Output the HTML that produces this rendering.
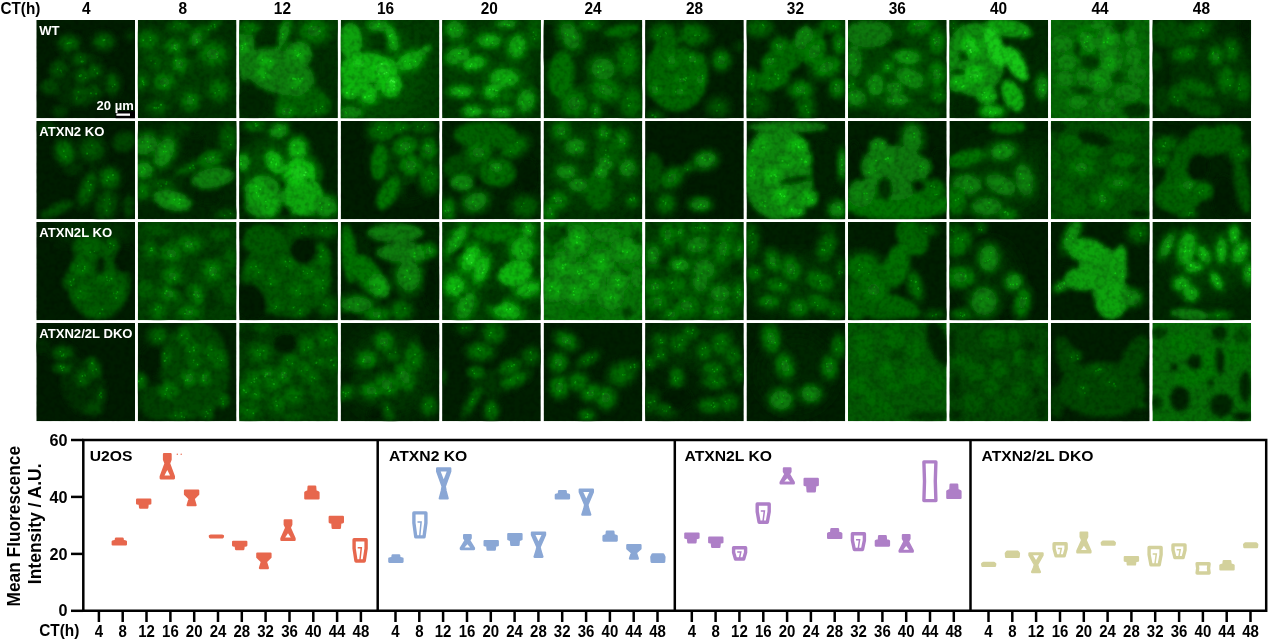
<!DOCTYPE html>
<html lang="en"><head><meta charset="utf-8"><title>Figure</title>
<style>html,body{margin:0;padding:0;background:#fff}body{width:1269px;height:643px;overflow:hidden}svg{display:block}text{font-family:"Liberation Sans",Arial,Helvetica,sans-serif;font-weight:bold}</style></head><body>
<svg width="1269" height="643" viewBox="0 0 1269 643">
<defs><filter id="b" x="-20%" y="-20%" width="140%" height="140%"><feGaussianBlur stdDeviation="2.2"/></filter><filter id="b3" x="-30%" y="-30%" width="160%" height="160%"><feGaussianBlur stdDeviation="8"/></filter><filter id="n" x="0" y="0" width="100%" height="100%"><feTurbulence type="fractalNoise" baseFrequency="0.2" numOctaves="2" seed="7" result="t"/><feColorMatrix type="matrix" values="0 0 0 0 0  0 0 0 0 0  0 0 0 0 0  0 0.5 0 0 -0.2"/></filter><filter id="b2" x="-20%" y="-20%" width="140%" height="140%"><feGaussianBlur stdDeviation="0.5"/></filter></defs>
<rect width="1269" height="643" fill="#fff"/>
<defs><clipPath id="gc"><rect x="36.3" y="20" width="98.7" height="98.2"/><rect x="137.8" y="20" width="98.7" height="98.2"/><rect x="239.2" y="20" width="98.7" height="98.2"/><rect x="340.7" y="20" width="98.7" height="98.2"/><rect x="442.1" y="20" width="98.7" height="98.2"/><rect x="543.6" y="20" width="98.7" height="98.2"/><rect x="645.1" y="20" width="98.7" height="98.2"/><rect x="746.5" y="20" width="98.7" height="98.2"/><rect x="848" y="20" width="98.7" height="98.2"/><rect x="949.4" y="20" width="98.7" height="98.2"/><rect x="1050.9" y="20" width="98.7" height="98.2"/><rect x="1152.4" y="20" width="98.7" height="98.2"/><rect x="36.3" y="121" width="98.7" height="98.2"/><rect x="137.8" y="121" width="98.7" height="98.2"/><rect x="239.2" y="121" width="98.7" height="98.2"/><rect x="340.7" y="121" width="98.7" height="98.2"/><rect x="442.1" y="121" width="98.7" height="98.2"/><rect x="543.6" y="121" width="98.7" height="98.2"/><rect x="645.1" y="121" width="98.7" height="98.2"/><rect x="746.5" y="121" width="98.7" height="98.2"/><rect x="848" y="121" width="98.7" height="98.2"/><rect x="949.4" y="121" width="98.7" height="98.2"/><rect x="1050.9" y="121" width="98.7" height="98.2"/><rect x="1152.4" y="121" width="98.7" height="98.2"/><rect x="36.3" y="222" width="98.7" height="98.2"/><rect x="137.8" y="222" width="98.7" height="98.2"/><rect x="239.2" y="222" width="98.7" height="98.2"/><rect x="340.7" y="222" width="98.7" height="98.2"/><rect x="442.1" y="222" width="98.7" height="98.2"/><rect x="543.6" y="222" width="98.7" height="98.2"/><rect x="645.1" y="222" width="98.7" height="98.2"/><rect x="746.5" y="222" width="98.7" height="98.2"/><rect x="848" y="222" width="98.7" height="98.2"/><rect x="949.4" y="222" width="98.7" height="98.2"/><rect x="1050.9" y="222" width="98.7" height="98.2"/><rect x="1152.4" y="222" width="98.7" height="98.2"/><rect x="36.3" y="323" width="98.7" height="98.2"/><rect x="137.8" y="323" width="98.7" height="98.2"/><rect x="239.2" y="323" width="98.7" height="98.2"/><rect x="340.7" y="323" width="98.7" height="98.2"/><rect x="442.1" y="323" width="98.7" height="98.2"/><rect x="543.6" y="323" width="98.7" height="98.2"/><rect x="645.1" y="323" width="98.7" height="98.2"/><rect x="746.5" y="323" width="98.7" height="98.2"/><rect x="848" y="323" width="98.7" height="98.2"/><rect x="949.4" y="323" width="98.7" height="98.2"/><rect x="1050.9" y="323" width="98.7" height="98.2"/><rect x="1152.4" y="323" width="98.7" height="98.2"/></clipPath></defs>
<text transform="translate(0.4 13.8) scale(1 1.1)" font-size="15.3">CT(h)</text>
<text transform="translate(86.2 13.8) scale(1 1.07)" font-size="15.4" text-anchor="middle">4</text>
<text transform="translate(182.9 13.8) scale(1 1.07)" font-size="15.4" text-anchor="middle">8</text>
<text transform="translate(282.4 13.8) scale(1 1.07)" font-size="15.4" text-anchor="middle">12</text>
<text transform="translate(385.5 13.8) scale(1 1.07)" font-size="15.4" text-anchor="middle">16</text>
<text transform="translate(489.2 13.8) scale(1 1.07)" font-size="15.4" text-anchor="middle">20</text>
<text transform="translate(593 13.8) scale(1 1.07)" font-size="15.4" text-anchor="middle">24</text>
<text transform="translate(694.6 13.8) scale(1 1.07)" font-size="15.4" text-anchor="middle">28</text>
<text transform="translate(795.4 13.8) scale(1 1.07)" font-size="15.4" text-anchor="middle">32</text>
<text transform="translate(897.3 13.8) scale(1 1.07)" font-size="15.4" text-anchor="middle">36</text>
<text transform="translate(998.6 13.8) scale(1 1.07)" font-size="15.4" text-anchor="middle">40</text>
<text transform="translate(1100 13.8) scale(1 1.07)" font-size="15.4" text-anchor="middle">44</text>
<text transform="translate(1201.4 13.8) scale(1 1.07)" font-size="15.4" text-anchor="middle">48</text>
<svg x="36.3" y="20" width="98.7" height="98.2" viewBox="0 0 100 100" preserveAspectRatio="none"><rect width="100" height="100" fill="#001d00"/><g filter="url(#b)"><ellipse cx="43" cy="60" rx="30" ry="30" fill="#002e00"/><ellipse cx="77" cy="65" rx="9.9" ry="15.5" fill="#002f00"/><ellipse cx="33" cy="24" rx="14.1" ry="11.3" fill="#003100"/><ellipse cx="68" cy="22" rx="14.1" ry="11.3" fill="#003100"/><ellipse cx="95" cy="16" rx="5" ry="6" fill="#003400"/><ellipse cx="24" cy="93" rx="8" ry="6" fill="#013b01"/><ellipse cx="13" cy="68" rx="9" ry="8" fill="#014401"/><ellipse cx="33" cy="24" rx="9" ry="7" fill="#035803"/><ellipse cx="68" cy="22" rx="9" ry="7" fill="#035803"/><ellipse cx="45" cy="40" rx="8" ry="6" fill="#024c02"/><ellipse cx="22" cy="50" rx="9" ry="8" fill="#024602"/><ellipse cx="47" cy="57" rx="7" ry="7" fill="#035303"/><ellipse cx="59" cy="52" rx="6" ry="7" fill="#035303"/><ellipse cx="77" cy="65" rx="6" ry="10" fill="#035303"/><ellipse cx="45" cy="76" rx="10" ry="10" fill="#024602"/><ellipse cx="58" cy="73" rx="7" ry="7" fill="#024602"/><ellipse cx="33" cy="24" rx="5" ry="3.9" fill="#046204"/><ellipse cx="68" cy="22" rx="5" ry="3.9" fill="#046204"/><ellipse cx="45" cy="40" rx="4.4" ry="3.3" fill="#035603"/><ellipse cx="22" cy="50" rx="5" ry="4.4" fill="#025002"/><ellipse cx="47" cy="57" rx="3.9" ry="3.9" fill="#045d04"/><ellipse cx="59" cy="52" rx="3.3" ry="3.9" fill="#045d04"/><ellipse cx="77" cy="65" rx="3.3" ry="5.5" fill="#045d04"/><ellipse cx="45" cy="76" rx="5.5" ry="5.5" fill="#025002"/><ellipse cx="58" cy="73" rx="3.9" ry="3.9" fill="#025002"/></g><g filter="url(#b2)"><circle cx="35.1" cy="23.5" r="0.8" fill="#088708"/><circle cx="33.1" cy="23.4" r="1" fill="#088708"/><circle cx="31.4" cy="23.9" r="0.9" fill="#088708"/><circle cx="68" cy="20.6" r="1" fill="#088708"/><circle cx="69" cy="20.4" r="1.1" fill="#088708"/><circle cx="47.2" cy="42.2" r="0.8" fill="#077a07"/><circle cx="46.7" cy="42.2" r="1" fill="#077a07"/><circle cx="44.8" cy="37.8" r="0.9" fill="#077a07"/><circle cx="45.8" cy="42.2" r="1.1" fill="#077a07"/><circle cx="21.5" cy="50.2" r="0.7" fill="#067506"/><circle cx="25.4" cy="53" r="0.7" fill="#067506"/><circle cx="24.8" cy="51.5" r="1" fill="#067506"/><circle cx="43.9" cy="57" r="1" fill="#088208"/><circle cx="45.4" cy="55.9" r="1" fill="#088208"/><circle cx="45.1" cy="57.4" r="0.8" fill="#088208"/><circle cx="49.9" cy="58.9" r="0.9" fill="#088208"/><circle cx="61.7" cy="54.4" r="1.1" fill="#088208"/><circle cx="58.9" cy="50.7" r="0.8" fill="#088208"/><circle cx="77.3" cy="67.8" r="0.9" fill="#088208"/><circle cx="79.5" cy="65.9" r="0.9" fill="#088208"/><circle cx="41.3" cy="78.7" r="0.8" fill="#067506"/><circle cx="42.7" cy="73.2" r="1" fill="#067506"/><circle cx="40.8" cy="80.3" r="0.8" fill="#067506"/><circle cx="55.4" cy="74.6" r="1.1" fill="#067506"/><circle cx="60.7" cy="75.2" r="1.1" fill="#067506"/></g></svg>
<svg x="137.8" y="20" width="98.7" height="98.2" viewBox="0 0 100 100" preserveAspectRatio="none"><rect width="100" height="100" fill="#003000"/><g filter="url(#b)"><ellipse cx="45" cy="45" rx="45" ry="40" fill="#013d01"/><ellipse cx="20" cy="89" rx="14.1" ry="9.9" fill="#013f01"/><ellipse cx="10" cy="21" rx="15.5" ry="14.1" fill="#014401"/><ellipse cx="4" cy="63" rx="8.5" ry="11.3" fill="#014401"/><ellipse cx="82" cy="71" rx="14.1" ry="15.5" fill="#014401"/><ellipse cx="76" cy="35" rx="19.7" ry="16.9" fill="#024602"/><ellipse cx="27" cy="63" rx="15.5" ry="14.1" fill="#024602"/><ellipse cx="53" cy="82" rx="12.7" ry="14.1" fill="#024602"/><ellipse cx="37" cy="27" rx="14.1" ry="11.3" fill="#024802"/><ellipse cx="42" cy="45" rx="12.7" ry="14.1" fill="#024802"/><ellipse cx="60" cy="18" rx="9.9" ry="15.5" fill="#024c02" transform="rotate(30 60 18)"/><ellipse cx="18" cy="42" rx="12" ry="8" fill="#024e02" transform="rotate(30 18 42)"/><ellipse cx="10" cy="21" rx="10" ry="9" fill="#046504"/><ellipse cx="42" cy="6" rx="12" ry="6" fill="#035803"/><ellipse cx="37" cy="27" rx="9" ry="7" fill="#067206"/><ellipse cx="60" cy="18" rx="6" ry="10" fill="#077a07" transform="rotate(30 60 18)"/><ellipse cx="73" cy="8" rx="14" ry="5" fill="#035803" transform="rotate(-30 73 8)"/><ellipse cx="76" cy="35" rx="13" ry="11" fill="#056d05"/><ellipse cx="42" cy="45" rx="8" ry="9" fill="#067206"/><ellipse cx="27" cy="63" rx="10" ry="9" fill="#056d05"/><ellipse cx="4" cy="63" rx="5" ry="7" fill="#046504"/><ellipse cx="82" cy="71" rx="9" ry="10" fill="#046504"/><ellipse cx="53" cy="82" rx="8" ry="9" fill="#056d05"/><ellipse cx="20" cy="89" rx="9" ry="6" fill="#035803"/><ellipse cx="55" cy="33" rx="6" ry="4" fill="#002a00"/><ellipse cx="18" cy="42" rx="6.6" ry="4.4" fill="#035803" transform="rotate(30 18 42)"/><ellipse cx="10" cy="21" rx="5.5" ry="5" fill="#066f06"/><ellipse cx="42" cy="6" rx="6.6" ry="3.3" fill="#046204"/><ellipse cx="37" cy="27" rx="5" ry="3.9" fill="#077c07"/><ellipse cx="60" cy="18" rx="3.3" ry="5.5" fill="#088408" transform="rotate(30 60 18)"/><ellipse cx="73" cy="8" rx="7.7" ry="2.8" fill="#046204" transform="rotate(-30 73 8)"/><ellipse cx="76" cy="35" rx="7.2" ry="6.1" fill="#077707"/><ellipse cx="42" cy="45" rx="4.4" ry="5" fill="#077c07"/><ellipse cx="27" cy="63" rx="5.5" ry="5" fill="#077707"/><ellipse cx="4" cy="63" rx="2.8" ry="3.9" fill="#066f06"/><ellipse cx="82" cy="71" rx="5" ry="5.5" fill="#066f06"/><ellipse cx="53" cy="82" rx="4.4" ry="5" fill="#077707"/><ellipse cx="20" cy="89" rx="5" ry="3.3" fill="#046204"/></g><g filter="url(#b2)"><circle cx="17.6" cy="44.3" r="0.7" fill="#077c07"/><circle cx="13.5" cy="41.6" r="0.9" fill="#077c07"/><circle cx="12.6" cy="17.7" r="0.7" fill="#0a940a"/><circle cx="13" cy="20.5" r="1" fill="#0a940a"/><circle cx="5.5" cy="20.6" r="1" fill="#0a940a"/><circle cx="43" cy="3.9" r="0.8" fill="#088708"/><circle cx="36.8" cy="6.8" r="0.7" fill="#088708"/><circle cx="38.5" cy="30" r="1" fill="#0ca20c"/><circle cx="37.2" cy="28.7" r="1.1" fill="#0ca20c"/><circle cx="37.4" cy="26" r="1" fill="#0ca20c"/><circle cx="60.2" cy="22.5" r="0.9" fill="#0daa0d"/><circle cx="60" cy="22.4" r="0.7" fill="#0daa0d"/><circle cx="59.6" cy="20.1" r="0.8" fill="#0daa0d"/><circle cx="71.7" cy="9.9" r="1" fill="#088708"/><circle cx="77.6" cy="4.9" r="1" fill="#088708"/><circle cx="74.4" cy="6.2" r="0.9" fill="#088708"/><circle cx="78" cy="6.9" r="0.9" fill="#088708"/><circle cx="80.1" cy="34.8" r="1" fill="#0b9c0b"/><circle cx="74.9" cy="36.6" r="0.8" fill="#0b9c0b"/><circle cx="80.5" cy="37.7" r="1" fill="#0b9c0b"/><circle cx="71.2" cy="36.6" r="0.7" fill="#0b9c0b"/><circle cx="42.2" cy="44.1" r="0.9" fill="#0ca20c"/><circle cx="38.6" cy="41.3" r="1" fill="#0ca20c"/><circle cx="27.8" cy="62.1" r="0.8" fill="#0b9c0b"/><circle cx="27" cy="66.9" r="1" fill="#0b9c0b"/><circle cx="27.4" cy="65.9" r="0.8" fill="#0b9c0b"/><circle cx="27.1" cy="66.7" r="0.9" fill="#0b9c0b"/><circle cx="5.8" cy="64" r="0.9" fill="#0a940a"/><circle cx="5" cy="62.3" r="1" fill="#0a940a"/><circle cx="6" cy="65.8" r="0.9" fill="#0a940a"/><circle cx="82.2" cy="71.6" r="0.9" fill="#0a940a"/><circle cx="78.4" cy="74.3" r="0.9" fill="#0a940a"/><circle cx="56.2" cy="81.3" r="1" fill="#0b9c0b"/><circle cx="52.4" cy="78" r="0.9" fill="#0b9c0b"/><circle cx="18.6" cy="89.5" r="1" fill="#088708"/><circle cx="21.1" cy="89.3" r="0.8" fill="#088708"/><circle cx="16.7" cy="89.3" r="1" fill="#088708"/><circle cx="23.5" cy="86.5" r="1.1" fill="#088708"/></g></svg>
<svg x="239.2" y="20" width="98.7" height="98.2" viewBox="0 0 100 100" preserveAspectRatio="none"><rect width="100" height="100" fill="#002e00"/><g filter="url(#b)"><ellipse cx="95" cy="6" rx="6" ry="8" fill="#013f01"/><ellipse cx="76" cy="11" rx="21.1" ry="16.9" fill="#014501"/><ellipse cx="44" cy="16" rx="8.5" ry="23.9" fill="#024f02" transform="rotate(20 44 16)"/><ellipse cx="70" cy="77" rx="18" ry="10" fill="#035303"/><ellipse cx="65" cy="85" rx="28" ry="14" fill="#046004"/><ellipse cx="40" cy="53" rx="38" ry="22" fill="#077a07" transform="rotate(20 40 53)"/><ellipse cx="6" cy="32" rx="10" ry="30" fill="#077a07"/><ellipse cx="10" cy="8" rx="12" ry="7" fill="#046504"/><ellipse cx="44" cy="16" rx="5" ry="16" fill="#088708" transform="rotate(20 44 16)"/><ellipse cx="76" cy="11" rx="14" ry="11" fill="#056d05"/><ellipse cx="60" cy="35" rx="14" ry="13" fill="#088708"/><ellipse cx="58" cy="64" rx="14" ry="14" fill="#077c07"/><ellipse cx="48" cy="93" rx="12" ry="8" fill="#056d05"/><ellipse cx="80" cy="90" rx="12" ry="8" fill="#046004"/><ellipse cx="34" cy="19" rx="9" ry="9" fill="#002a00"/><ellipse cx="14" cy="84" rx="16" ry="16" fill="#002700"/><ellipse cx="90" cy="48" rx="10" ry="22" fill="#002e00"/><ellipse cx="60" cy="35" rx="8" ry="7" fill="#0ca20c"/><ellipse cx="27" cy="42" rx="9" ry="7" fill="#0ca20c" transform="rotate(30 27 42)"/><ellipse cx="24" cy="55" rx="9" ry="6" fill="#0b9a0b" transform="rotate(30 24 55)"/><ellipse cx="58" cy="63" rx="9" ry="8" fill="#0a940a"/><ellipse cx="5" cy="27" rx="5" ry="7" fill="#0b9a0b"/><ellipse cx="10" cy="8" rx="6.6" ry="3.9" fill="#066f06"/><ellipse cx="44" cy="16" rx="2.8" ry="8.8" fill="#0a910a" transform="rotate(20 44 16)"/><ellipse cx="76" cy="11" rx="7.7" ry="6.1" fill="#077707"/><ellipse cx="60" cy="35" rx="7.7" ry="7.2" fill="#0a910a"/><ellipse cx="58" cy="64" rx="7.7" ry="7.7" fill="#088708"/><ellipse cx="48" cy="93" rx="6.6" ry="4.4" fill="#077707"/><ellipse cx="80" cy="90" rx="6.6" ry="4.4" fill="#056a05"/><ellipse cx="60" cy="35" rx="4.4" ry="3.9" fill="#0eac0e"/><ellipse cx="27" cy="42" rx="5" ry="3.9" fill="#0eac0e" transform="rotate(30 27 42)"/><ellipse cx="24" cy="55" rx="5" ry="3.3" fill="#0da40d" transform="rotate(30 24 55)"/><ellipse cx="58" cy="63" rx="5" ry="4.4" fill="#0c9f0c"/><ellipse cx="5" cy="27" rx="2.8" ry="3.9" fill="#0da40d"/></g><g filter="url(#b2)"><circle cx="5.6" cy="7.1" r="0.8" fill="#0a940a"/><circle cx="13.3" cy="10.2" r="0.8" fill="#0a940a"/><circle cx="44.1" cy="17.3" r="0.8" fill="#10b710"/><circle cx="44.2" cy="14.5" r="1" fill="#10b710"/><circle cx="81.7" cy="11.4" r="0.9" fill="#0b9c0b"/><circle cx="73.1" cy="6.4" r="0.7" fill="#0b9c0b"/><circle cx="75.6" cy="9.2" r="0.9" fill="#0b9c0b"/><circle cx="80.9" cy="11.3" r="0.9" fill="#0b9c0b"/><circle cx="56.6" cy="31.2" r="0.8" fill="#10b710"/><circle cx="60.1" cy="33.4" r="0.9" fill="#10b710"/><circle cx="54" cy="69" r="1" fill="#0eac0e"/><circle cx="61" cy="69.1" r="1" fill="#0eac0e"/><circle cx="61.7" cy="62.2" r="1.1" fill="#0eac0e"/><circle cx="63.8" cy="59.7" r="1" fill="#0eac0e"/><circle cx="50.6" cy="94.1" r="0.8" fill="#0b9c0b"/><circle cx="45.6" cy="93" r="0.9" fill="#0b9c0b"/><circle cx="51.2" cy="94.2" r="0.9" fill="#0b9c0b"/><circle cx="52.4" cy="91.9" r="1" fill="#0b9c0b"/><circle cx="82.4" cy="89.9" r="0.8" fill="#098f09"/><circle cx="78.1" cy="91.4" r="0.8" fill="#098f09"/><circle cx="84.4" cy="88.3" r="1.1" fill="#098f09"/><circle cx="77.9" cy="93.3" r="1" fill="#098f09"/><circle cx="60.4" cy="35" r="0.9" fill="#18d218"/><circle cx="59.3" cy="36.5" r="0.9" fill="#18d218"/><circle cx="59" cy="36.2" r="1.1" fill="#18d218"/><circle cx="62" cy="34" r="0.7" fill="#18d218"/><circle cx="31.7" cy="41.9" r="0.9" fill="#18d218"/><circle cx="23.5" cy="40.7" r="1" fill="#18d218"/><circle cx="26.8" cy="54.3" r="0.8" fill="#15ca15"/><circle cx="25.1" cy="58.4" r="0.7" fill="#15ca15"/><circle cx="60.1" cy="59.8" r="0.8" fill="#13c513"/><circle cx="56" cy="59.6" r="0.7" fill="#13c513"/><circle cx="54.5" cy="59.7" r="1.1" fill="#13c513"/><circle cx="57" cy="60.3" r="1.1" fill="#13c513"/><circle cx="3.6" cy="28.2" r="0.9" fill="#15ca15"/><circle cx="2.9" cy="30.1" r="0.8" fill="#15ca15"/><circle cx="2.9" cy="26" r="0.9" fill="#15ca15"/><circle cx="6.1" cy="24.6" r="0.8" fill="#15ca15"/></g></svg>
<svg x="340.7" y="20" width="98.7" height="98.2" viewBox="0 0 100 100" preserveAspectRatio="none"><rect width="100" height="100" fill="#013b01"/><g filter="url(#b3)"><ellipse cx="40" cy="56" rx="45" ry="50" fill="#024c02"/></g><g filter="url(#b)"><ellipse cx="10" cy="94" rx="18.3" ry="9.9" fill="#035503"/><ellipse cx="38" cy="6" rx="15.5" ry="9.9" fill="#035a03"/><ellipse cx="52" cy="19" rx="8.5" ry="19.7" fill="#046204" transform="rotate(-15 52 19)"/><ellipse cx="70" cy="42" rx="19.7" ry="12.7" fill="#056605" transform="rotate(-25 70 42)"/><ellipse cx="28" cy="76" rx="14.1" ry="14.1" fill="#056805"/><ellipse cx="85" cy="31" rx="9" ry="3.5" fill="#0b9c0b" transform="rotate(-35 85 31)"/><ellipse cx="10" cy="21" rx="12" ry="18" fill="#0ca20c"/><ellipse cx="26" cy="53" rx="28" ry="20" fill="#0eaf0e"/><ellipse cx="18" cy="44" rx="5" ry="3" fill="#1ad71a"/><ellipse cx="39" cy="49" rx="5" ry="3" fill="#1ad71a"/><ellipse cx="38" cy="6" rx="10" ry="6" fill="#098c09"/><ellipse cx="52" cy="19" rx="5" ry="13" fill="#0ca20c" transform="rotate(-15 52 19)"/><ellipse cx="43" cy="50" rx="14" ry="12" fill="#10ba10"/><ellipse cx="70" cy="42" rx="13" ry="8" fill="#0daa0d" transform="rotate(-25 70 42)"/><ellipse cx="51" cy="66" rx="11" ry="13" fill="#10ba10"/><ellipse cx="9" cy="71" rx="9" ry="10" fill="#0eaf0e"/><ellipse cx="28" cy="76" rx="9" ry="9" fill="#0eaf0e"/><ellipse cx="10" cy="94" rx="12" ry="6" fill="#087f08"/><ellipse cx="39" cy="21" rx="9" ry="10" fill="#013701"/><ellipse cx="33" cy="65" rx="5" ry="2" fill="#024c02"/><ellipse cx="52" cy="63" rx="5" ry="4" fill="#1ad71a"/><ellipse cx="38" cy="6" rx="5.5" ry="3.3" fill="#0b970b"/><ellipse cx="52" cy="19" rx="2.8" ry="7.2" fill="#0eac0e" transform="rotate(-15 52 19)"/><ellipse cx="43" cy="50" rx="7.7" ry="6.6" fill="#13c513"/><ellipse cx="70" cy="42" rx="7.2" ry="4.4" fill="#10b410" transform="rotate(-25 70 42)"/><ellipse cx="51" cy="66" rx="6.1" ry="7.2" fill="#13c513"/><ellipse cx="9" cy="71" rx="5" ry="5.5" fill="#10ba10"/><ellipse cx="28" cy="76" rx="5" ry="5" fill="#10ba10"/><ellipse cx="10" cy="94" rx="6.6" ry="3.3" fill="#098909"/><ellipse cx="52" cy="63" rx="2.8" ry="2.2" fill="#22e022"/></g><g filter="url(#b2)"><circle cx="38.8" cy="4" r="1.1" fill="#11bd11"/><circle cx="37.8" cy="6.4" r="0.9" fill="#11bd11"/><circle cx="50.1" cy="16.3" r="1.1" fill="#18d218"/><circle cx="52.9" cy="22.8" r="0.9" fill="#18d218"/><circle cx="51.5" cy="14.9" r="1" fill="#18d218"/><circle cx="41.6" cy="44.8" r="1" fill="#2ce72c"/><circle cx="38.7" cy="54.9" r="0.7" fill="#2ce72c"/><circle cx="46.5" cy="53.5" r="0.8" fill="#2ce72c"/><circle cx="44.2" cy="54.5" r="0.9" fill="#2ce72c"/><circle cx="69.8" cy="44.5" r="0.9" fill="#1bd91b"/><circle cx="75.8" cy="42.3" r="0.7" fill="#1bd91b"/><circle cx="65.3" cy="42" r="1.1" fill="#1bd91b"/><circle cx="53.8" cy="70.2" r="0.9" fill="#2ce72c"/><circle cx="54.3" cy="66.9" r="0.9" fill="#2ce72c"/><circle cx="50.1" cy="62.9" r="0.8" fill="#2ce72c"/><circle cx="11.9" cy="75.4" r="1" fill="#1fde1f"/><circle cx="6.3" cy="74.2" r="1.1" fill="#1fde1f"/><circle cx="28.6" cy="77.7" r="0.8" fill="#1fde1f"/><circle cx="30.7" cy="76.6" r="0.8" fill="#1fde1f"/><circle cx="24.5" cy="78.9" r="1.1" fill="#1fde1f"/><circle cx="24.7" cy="78.4" r="0.9" fill="#1fde1f"/><circle cx="4.8" cy="93.6" r="0.9" fill="#0eaf0e"/><circle cx="5.9" cy="94.6" r="1" fill="#0eaf0e"/><circle cx="53" cy="62.4" r="1.1" fill="#3cf23c"/><circle cx="54.2" cy="63" r="1.1" fill="#3cf23c"/><circle cx="51.1" cy="61.5" r="0.9" fill="#3cf23c"/></g></svg>
<svg x="442.1" y="20" width="98.7" height="98.2" viewBox="0 0 100 100" preserveAspectRatio="none"><rect width="100" height="100" fill="#003200"/><g filter="url(#b)"><ellipse cx="48" cy="48" rx="45" ry="45" fill="#013f01"/><ellipse cx="94" cy="13" rx="12.7" ry="21.1" fill="#014001"/><ellipse cx="65" cy="4" rx="15.5" ry="7.1" fill="#025102"/><ellipse cx="13" cy="10" rx="14.1" ry="14.1" fill="#035303" transform="rotate(-30 13 10)"/><ellipse cx="16" cy="36" rx="18.3" ry="12.7" fill="#035603" transform="rotate(-20 16 36)"/><ellipse cx="85" cy="82" rx="12.7" ry="16.9" fill="#035603" transform="rotate(15 85 82)"/><ellipse cx="60" cy="94" rx="15.5" ry="8.5" fill="#035603"/><ellipse cx="48" cy="21" rx="16.9" ry="9.9" fill="#035b03"/><ellipse cx="76" cy="27" rx="12.7" ry="16.9" fill="#035b03" transform="rotate(15 76 27)"/><ellipse cx="63" cy="59" rx="21.1" ry="14.1" fill="#035b03"/><ellipse cx="19" cy="73" rx="16.9" ry="8.5" fill="#035b03"/><ellipse cx="31" cy="93" rx="14.1" ry="8.5" fill="#035b03"/><ellipse cx="52" cy="73" rx="14.1" ry="11.3" fill="#045e04"/><ellipse cx="32" cy="44" rx="16.9" ry="9.9" fill="#046004" transform="rotate(-10 32 44)"/><ellipse cx="58" cy="76" rx="14" ry="9" fill="#046004"/><ellipse cx="13" cy="10" rx="9" ry="9" fill="#098909" transform="rotate(-30 13 10)"/><ellipse cx="65" cy="4" rx="10" ry="4" fill="#088408"/><ellipse cx="48" cy="21" rx="11" ry="6" fill="#0c9f0c"/><ellipse cx="76" cy="27" rx="8" ry="11" fill="#0c9f0c" transform="rotate(15 76 27)"/><ellipse cx="94" cy="13" rx="8" ry="14" fill="#035803"/><ellipse cx="16" cy="36" rx="12" ry="8" fill="#0a910a" transform="rotate(-20 16 36)"/><ellipse cx="32" cy="44" rx="11" ry="6" fill="#0eac0e" transform="rotate(-10 32 44)"/><ellipse cx="63" cy="59" rx="14" ry="9" fill="#0c9f0c"/><ellipse cx="19" cy="73" rx="11" ry="5" fill="#0c9f0c"/><ellipse cx="52" cy="73" rx="9" ry="7" fill="#0da70d"/><ellipse cx="85" cy="82" rx="8" ry="11" fill="#0a910a" transform="rotate(15 85 82)"/><ellipse cx="31" cy="93" rx="9" ry="5" fill="#0c9f0c"/><ellipse cx="60" cy="94" rx="10" ry="5" fill="#0a910a"/><ellipse cx="58" cy="76" rx="7.7" ry="5" fill="#056a05"/><ellipse cx="13" cy="10" rx="5" ry="5" fill="#0a940a" transform="rotate(-30 13 10)"/><ellipse cx="65" cy="4" rx="5.5" ry="2.2" fill="#098f09"/><ellipse cx="48" cy="21" rx="6.1" ry="3.3" fill="#0eaa0e"/><ellipse cx="76" cy="27" rx="4.4" ry="6.1" fill="#0eaa0e" transform="rotate(15 76 27)"/><ellipse cx="94" cy="13" rx="4.4" ry="7.7" fill="#046204"/><ellipse cx="16" cy="36" rx="6.6" ry="4.4" fill="#0b9c0b" transform="rotate(-20 16 36)"/><ellipse cx="32" cy="44" rx="6.1" ry="3.3" fill="#10b710" transform="rotate(-10 32 44)"/><ellipse cx="63" cy="59" rx="7.7" ry="5" fill="#0eaa0e"/><ellipse cx="19" cy="73" rx="6.1" ry="2.8" fill="#0eaa0e"/><ellipse cx="52" cy="73" rx="5" ry="3.9" fill="#0fb20f"/><ellipse cx="85" cy="82" rx="4.4" ry="6.1" fill="#0b9c0b" transform="rotate(15 85 82)"/><ellipse cx="31" cy="93" rx="5" ry="2.8" fill="#0eaa0e"/><ellipse cx="60" cy="94" rx="5.5" ry="2.8" fill="#0b9c0b"/></g><g filter="url(#b2)"><circle cx="55.5" cy="77.8" r="0.9" fill="#098f09"/><circle cx="52.8" cy="72.1" r="0.9" fill="#098f09"/><circle cx="16.2" cy="10.6" r="0.8" fill="#10ba10"/><circle cx="12.4" cy="8.3" r="0.8" fill="#10ba10"/><circle cx="9.1" cy="9.6" r="1.1" fill="#10ba10"/><circle cx="67.8" cy="5.1" r="0.8" fill="#10b410"/><circle cx="63.3" cy="4.5" r="1" fill="#10b410"/><circle cx="68.2" cy="5.4" r="0.7" fill="#10b410"/><circle cx="66" cy="4.6" r="0.9" fill="#10b410"/><circle cx="45.5" cy="19.8" r="1.1" fill="#17cf17"/><circle cx="51.1" cy="23.4" r="1" fill="#17cf17"/><circle cx="78.7" cy="28.5" r="1.1" fill="#17cf17"/><circle cx="78.4" cy="27.7" r="0.9" fill="#17cf17"/><circle cx="92.5" cy="12.4" r="0.8" fill="#088708"/><circle cx="92.3" cy="16.7" r="0.7" fill="#088708"/><circle cx="93.7" cy="19.3" r="0.9" fill="#088708"/><circle cx="95.1" cy="15.5" r="0.8" fill="#088708"/><circle cx="12.7" cy="36.5" r="0.8" fill="#12c212"/><circle cx="16.8" cy="34" r="0.8" fill="#12c212"/><circle cx="18.1" cy="33.9" r="0.9" fill="#12c212"/><circle cx="19.1" cy="31.8" r="0.7" fill="#12c212"/><circle cx="29.9" cy="44.8" r="1" fill="#1cdc1c"/><circle cx="28.7" cy="47" r="0.8" fill="#1cdc1c"/><circle cx="57.2" cy="60.6" r="1.1" fill="#17cf17"/><circle cx="68.7" cy="60.9" r="1.1" fill="#17cf17"/><circle cx="17.2" cy="72.2" r="0.8" fill="#17cf17"/><circle cx="20.5" cy="74.6" r="1" fill="#17cf17"/><circle cx="54.6" cy="71.7" r="0.8" fill="#1ad71a"/><circle cx="51.5" cy="70.7" r="0.9" fill="#1ad71a"/><circle cx="55.7" cy="71.9" r="0.7" fill="#1ad71a"/><circle cx="48.3" cy="70.9" r="1" fill="#1ad71a"/><circle cx="88.3" cy="83.6" r="0.9" fill="#12c212"/><circle cx="81.9" cy="85.4" r="0.7" fill="#12c212"/><circle cx="81.3" cy="83.5" r="0.9" fill="#12c212"/><circle cx="31.9" cy="93.2" r="0.9" fill="#17cf17"/><circle cx="29.6" cy="90.9" r="1" fill="#17cf17"/><circle cx="62.5" cy="93.6" r="1.1" fill="#12c212"/><circle cx="59.8" cy="92.8" r="0.9" fill="#12c212"/><circle cx="55.8" cy="93.6" r="0.8" fill="#12c212"/></g></svg>
<svg x="543.6" y="20" width="98.7" height="98.2" viewBox="0 0 100 100" preserveAspectRatio="none"><rect width="100" height="100" fill="#002e00"/><g filter="url(#b)"><ellipse cx="89" cy="84" rx="15.5" ry="21.1" fill="#014001"/><ellipse cx="47" cy="5" rx="15.5" ry="8.5" fill="#014101"/><ellipse cx="85" cy="40" rx="15.5" ry="23.9" fill="#014301"/><ellipse cx="31" cy="85" rx="18.3" ry="19.7" fill="#014501"/><ellipse cx="53" cy="92" rx="8.5" ry="12.7" fill="#014501"/><ellipse cx="63" cy="71" rx="22.5" ry="15.5" fill="#024702" transform="rotate(15 63 71)"/><ellipse cx="27" cy="16" rx="14.1" ry="21.1" fill="#024a02" transform="rotate(-25 27 16)"/><ellipse cx="60" cy="50" rx="18.3" ry="16.9" fill="#024a02" transform="rotate(20 60 50)"/><ellipse cx="79" cy="11" rx="18" ry="6" fill="#056805" transform="rotate(-10 79 11)"/><ellipse cx="18" cy="56" rx="13" ry="24" fill="#056d05" transform="rotate(5 18 56)"/><ellipse cx="27" cy="16" rx="9" ry="14" fill="#077a07" transform="rotate(-25 27 16)"/><ellipse cx="47" cy="5" rx="10" ry="5" fill="#046204"/><ellipse cx="85" cy="40" rx="10" ry="16" fill="#056805"/><ellipse cx="31" cy="85" rx="12" ry="13" fill="#056d05"/><ellipse cx="60" cy="50" rx="12" ry="11" fill="#077a07" transform="rotate(20 60 50)"/><ellipse cx="63" cy="71" rx="15" ry="10" fill="#067206" transform="rotate(15 63 71)"/><ellipse cx="53" cy="92" rx="5" ry="8" fill="#056d05"/><ellipse cx="89" cy="84" rx="10" ry="14" fill="#046004"/><ellipse cx="3" cy="24" rx="8" ry="20" fill="#002200"/><ellipse cx="55" cy="27" rx="10" ry="8" fill="#002a00"/><ellipse cx="27" cy="16" rx="5" ry="7.7" fill="#088408" transform="rotate(-25 27 16)"/><ellipse cx="47" cy="5" rx="5.5" ry="2.8" fill="#056d05"/><ellipse cx="85" cy="40" rx="5.5" ry="8.8" fill="#067206"/><ellipse cx="31" cy="85" rx="6.6" ry="7.2" fill="#077707"/><ellipse cx="60" cy="50" rx="6.6" ry="6.1" fill="#088408" transform="rotate(20 60 50)"/><ellipse cx="63" cy="71" rx="8.2" ry="5.5" fill="#077c07" transform="rotate(15 63 71)"/><ellipse cx="53" cy="92" rx="2.8" ry="4.4" fill="#077707"/><ellipse cx="89" cy="84" rx="5.5" ry="7.7" fill="#056a05"/></g><g filter="url(#b2)"><circle cx="24.5" cy="15.2" r="1" fill="#0daa0d"/><circle cx="30.3" cy="16.6" r="0.9" fill="#0daa0d"/><circle cx="31" cy="18" r="0.8" fill="#0daa0d"/><circle cx="21.9" cy="13.6" r="0.8" fill="#0daa0d"/><circle cx="45.9" cy="3.2" r="0.8" fill="#0a910a"/><circle cx="49.1" cy="4.6" r="0.8" fill="#0a910a"/><circle cx="81.9" cy="44.3" r="0.8" fill="#0b970b"/><circle cx="86.1" cy="34.6" r="0.7" fill="#0b970b"/><circle cx="88.3" cy="35.8" r="0.8" fill="#0b970b"/><circle cx="35" cy="82.5" r="1.1" fill="#0b9c0b"/><circle cx="31.4" cy="87.1" r="0.8" fill="#0b9c0b"/><circle cx="55.3" cy="53.2" r="0.9" fill="#0daa0d"/><circle cx="55.4" cy="47.4" r="1.1" fill="#0daa0d"/><circle cx="58.2" cy="47.6" r="1" fill="#0daa0d"/><circle cx="60.5" cy="51.2" r="1" fill="#0daa0d"/><circle cx="59.8" cy="73.1" r="0.9" fill="#0ca20c"/><circle cx="60.6" cy="70.2" r="1" fill="#0ca20c"/><circle cx="51.9" cy="95.2" r="1.1" fill="#0b9c0b"/><circle cx="52.4" cy="91.3" r="0.9" fill="#0b9c0b"/><circle cx="87.8" cy="85" r="0.7" fill="#098f09"/><circle cx="84.9" cy="80" r="1.1" fill="#098f09"/><circle cx="86.3" cy="87.2" r="1.1" fill="#098f09"/></g></svg>
<svg x="645.1" y="20" width="98.7" height="98.2" viewBox="0 0 100 100" preserveAspectRatio="none"><rect width="100" height="100" fill="#001f00"/><g filter="url(#b)"><ellipse cx="74" cy="89" rx="15.5" ry="14.1" fill="#002d00"/><ellipse cx="10" cy="97" rx="12.7" ry="7.1" fill="#002d00"/><ellipse cx="18" cy="14" rx="18.3" ry="15.5" fill="#003400"/><ellipse cx="50" cy="14" rx="21.1" ry="14.1" fill="#013501" transform="rotate(15 50 14)"/><ellipse cx="77" cy="41" rx="12.7" ry="14.1" fill="#013901"/><ellipse cx="95" cy="27" rx="5" ry="6" fill="#013b01"/><ellipse cx="32" cy="55" rx="32" ry="38" fill="#046504"/><ellipse cx="18" cy="14" rx="12" ry="10" fill="#045d04"/><ellipse cx="50" cy="14" rx="14" ry="9" fill="#046204" transform="rotate(15 50 14)"/><ellipse cx="77" cy="41" rx="8" ry="9" fill="#056d05"/><ellipse cx="74" cy="89" rx="10" ry="9" fill="#024902"/><ellipse cx="10" cy="97" rx="8" ry="4" fill="#024902"/><ellipse cx="37" cy="25" rx="6" ry="3" fill="#002400"/><ellipse cx="53" cy="31" rx="18" ry="3" fill="#002a00" transform="rotate(20 53 31)"/><ellipse cx="27" cy="41" rx="7" ry="8" fill="#067506"/><ellipse cx="48" cy="40" rx="8" ry="7" fill="#067206"/><ellipse cx="37" cy="61" rx="10" ry="5" fill="#067206"/><ellipse cx="56" cy="60" rx="7" ry="9" fill="#067206"/><ellipse cx="10" cy="71" rx="8" ry="8" fill="#067206"/><ellipse cx="35" cy="73" rx="9" ry="6" fill="#067206"/><ellipse cx="18" cy="14" rx="6.6" ry="5.5" fill="#056805"/><ellipse cx="50" cy="14" rx="7.7" ry="5" fill="#056d05" transform="rotate(15 50 14)"/><ellipse cx="77" cy="41" rx="4.4" ry="5" fill="#077707"/><ellipse cx="74" cy="89" rx="5.5" ry="5" fill="#035303"/><ellipse cx="10" cy="97" rx="4.4" ry="2.2" fill="#035303"/><ellipse cx="27" cy="41" rx="3.9" ry="4.4" fill="#087f08"/><ellipse cx="48" cy="40" rx="4.4" ry="3.9" fill="#077c07"/><ellipse cx="37" cy="61" rx="5.5" ry="2.8" fill="#077c07"/><ellipse cx="56" cy="60" rx="3.9" ry="5" fill="#077c07"/><ellipse cx="10" cy="71" rx="4.4" ry="4.4" fill="#077c07"/><ellipse cx="35" cy="73" rx="5" ry="3.3" fill="#077c07"/></g><g filter="url(#b2)"><circle cx="21.5" cy="13.9" r="0.8" fill="#098c09"/><circle cx="12.6" cy="15.5" r="0.9" fill="#098c09"/><circle cx="20.8" cy="12.9" r="1" fill="#098c09"/><circle cx="15.5" cy="16.7" r="1" fill="#098c09"/><circle cx="54.9" cy="15.6" r="0.7" fill="#0a910a"/><circle cx="50.4" cy="15.8" r="1" fill="#0a910a"/><circle cx="51.8" cy="15.4" r="0.7" fill="#0a910a"/><circle cx="75.8" cy="37.7" r="1" fill="#0b9c0b"/><circle cx="79.2" cy="40.6" r="0.7" fill="#0b9c0b"/><circle cx="74.8" cy="42.1" r="0.8" fill="#0b9c0b"/><circle cx="74.8" cy="86.6" r="1" fill="#077707"/><circle cx="72.7" cy="92.5" r="1.1" fill="#077707"/><circle cx="10.5" cy="98.7" r="1.1" fill="#077707"/><circle cx="10" cy="98.5" r="1" fill="#077707"/><circle cx="8.2" cy="96.7" r="0.8" fill="#077707"/><circle cx="7.3" cy="97" r="1" fill="#077707"/><circle cx="24.6" cy="42.2" r="0.8" fill="#0da40d"/><circle cx="25.1" cy="40.9" r="0.8" fill="#0da40d"/><circle cx="50.4" cy="42.4" r="0.9" fill="#0ca20c"/><circle cx="45.8" cy="37.9" r="1" fill="#0ca20c"/><circle cx="40.6" cy="61.5" r="0.8" fill="#0ca20c"/><circle cx="35.9" cy="60.5" r="0.8" fill="#0ca20c"/><circle cx="41.5" cy="59" r="0.9" fill="#0ca20c"/><circle cx="39.2" cy="60.5" r="1.1" fill="#0ca20c"/><circle cx="57.9" cy="56.7" r="0.9" fill="#0ca20c"/><circle cx="58.3" cy="59.6" r="1" fill="#0ca20c"/><circle cx="12.1" cy="71.1" r="0.9" fill="#0ca20c"/><circle cx="11.5" cy="70.3" r="0.7" fill="#0ca20c"/><circle cx="11.8" cy="69.3" r="0.9" fill="#0ca20c"/><circle cx="31.1" cy="73.2" r="0.8" fill="#0ca20c"/><circle cx="37.4" cy="71.3" r="0.9" fill="#0ca20c"/></g></svg>
<svg x="746.5" y="20" width="98.7" height="98.2" viewBox="0 0 100 100" preserveAspectRatio="none"><rect width="100" height="100" fill="#002200"/><g filter="url(#b)"><ellipse cx="10" cy="85" rx="18.3" ry="18.3" fill="#002f00"/><ellipse cx="13" cy="8" rx="18.3" ry="12.7" fill="#013501"/><ellipse cx="60" cy="89" rx="12.7" ry="18.3" fill="#013501"/><ellipse cx="87" cy="6" rx="18.3" ry="9.9" fill="#013701"/><ellipse cx="94" cy="24" rx="9.9" ry="15.5" fill="#013b01"/><ellipse cx="92" cy="69" rx="11.3" ry="14.1" fill="#013b01"/><ellipse cx="34" cy="27" rx="12.7" ry="12.7" fill="#013c01"/><ellipse cx="55" cy="71" rx="16.9" ry="12.7" fill="#013c01"/><ellipse cx="81" cy="48" rx="21.1" ry="14.1" fill="#013e01" transform="rotate(-20 81 48)"/><ellipse cx="42" cy="40" rx="45" ry="12" fill="#046504" transform="rotate(-40 42 40)"/><ellipse cx="13" cy="8" rx="12" ry="8" fill="#035b03"/><ellipse cx="58" cy="18" rx="9" ry="13" fill="#077a07" transform="rotate(25 58 18)"/><ellipse cx="34" cy="27" rx="8" ry="8" fill="#066f06"/><ellipse cx="69" cy="32" rx="10" ry="15" fill="#067506" transform="rotate(35 69 32)"/><ellipse cx="94" cy="24" rx="6" ry="10" fill="#056d05"/><ellipse cx="87" cy="6" rx="12" ry="6" fill="#046004"/><ellipse cx="24" cy="42" rx="9" ry="8" fill="#066f06" transform="rotate(-30 24 42)"/><ellipse cx="81" cy="48" rx="14" ry="9" fill="#067506" transform="rotate(-20 81 48)"/><ellipse cx="29" cy="60" rx="16" ry="10" fill="#056a05" transform="rotate(-30 29 60)"/><ellipse cx="5" cy="61" rx="6" ry="12" fill="#046504"/><ellipse cx="55" cy="71" rx="11" ry="8" fill="#066f06"/><ellipse cx="92" cy="69" rx="7" ry="9" fill="#056d05"/><ellipse cx="60" cy="89" rx="8" ry="12" fill="#035b03"/><ellipse cx="10" cy="85" rx="12" ry="12" fill="#024902"/><ellipse cx="13" cy="8" rx="6.6" ry="4.4" fill="#056505"/><ellipse cx="58" cy="18" rx="5" ry="7.2" fill="#088408" transform="rotate(25 58 18)"/><ellipse cx="34" cy="27" rx="4.4" ry="4.4" fill="#077a07"/><ellipse cx="69" cy="32" rx="5.5" ry="8.2" fill="#087f08" transform="rotate(35 69 32)"/><ellipse cx="94" cy="24" rx="3.3" ry="5.5" fill="#077707"/><ellipse cx="87" cy="6" rx="6.6" ry="3.3" fill="#056a05"/><ellipse cx="24" cy="42" rx="5" ry="4.4" fill="#077a07" transform="rotate(-30 24 42)"/><ellipse cx="81" cy="48" rx="7.7" ry="5" fill="#087f08" transform="rotate(-20 81 48)"/><ellipse cx="29" cy="60" rx="8.8" ry="5.5" fill="#067506" transform="rotate(-30 29 60)"/><ellipse cx="5" cy="61" rx="3.3" ry="6.6" fill="#066f06"/><ellipse cx="55" cy="71" rx="6.1" ry="4.4" fill="#077a07"/><ellipse cx="92" cy="69" rx="3.9" ry="5" fill="#077707"/><ellipse cx="60" cy="89" rx="4.4" ry="6.6" fill="#056505"/><ellipse cx="10" cy="85" rx="6.6" ry="6.6" fill="#035303"/></g><g filter="url(#b2)"><circle cx="17.8" cy="7.2" r="0.7" fill="#098909"/><circle cx="16.5" cy="5.1" r="0.9" fill="#098909"/><circle cx="17.4" cy="5.9" r="0.7" fill="#098909"/><circle cx="56.9" cy="12.2" r="0.9" fill="#0eaa0e"/><circle cx="62.3" cy="15.1" r="0.8" fill="#0eaa0e"/><circle cx="56.7" cy="23.2" r="0.9" fill="#0eaa0e"/><circle cx="30.8" cy="25" r="0.9" fill="#0c9f0c"/><circle cx="31.4" cy="26.4" r="0.9" fill="#0c9f0c"/><circle cx="34.5" cy="27.4" r="1" fill="#0c9f0c"/><circle cx="68.5" cy="34" r="0.8" fill="#0da40d"/><circle cx="72.7" cy="27.4" r="0.7" fill="#0da40d"/><circle cx="94" cy="24.3" r="1" fill="#0b9c0b"/><circle cx="93.8" cy="27.8" r="0.8" fill="#0b9c0b"/><circle cx="90.2" cy="7.1" r="0.8" fill="#098f09"/><circle cx="87.8" cy="6.1" r="1.1" fill="#098f09"/><circle cx="24" cy="42.9" r="0.7" fill="#0c9f0c"/><circle cx="22.9" cy="39.9" r="0.8" fill="#0c9f0c"/><circle cx="26.8" cy="39.8" r="1.1" fill="#0c9f0c"/><circle cx="21.2" cy="44.1" r="1" fill="#0c9f0c"/><circle cx="78.7" cy="47.5" r="0.9" fill="#0da40d"/><circle cx="83.3" cy="43.4" r="0.7" fill="#0da40d"/><circle cx="78.8" cy="50.5" r="0.7" fill="#0da40d"/><circle cx="32.2" cy="59.7" r="1.1" fill="#0b9a0b"/><circle cx="32" cy="56" r="0.9" fill="#0b9a0b"/><circle cx="29" cy="55.1" r="0.9" fill="#0b9a0b"/><circle cx="23.1" cy="59.4" r="0.7" fill="#0b9a0b"/><circle cx="3" cy="58.3" r="0.9" fill="#0a940a"/><circle cx="7" cy="56.5" r="0.9" fill="#0a940a"/><circle cx="5.3" cy="65.1" r="1" fill="#0a940a"/><circle cx="52.8" cy="70.4" r="0.8" fill="#0c9f0c"/><circle cx="58.8" cy="74.3" r="0.8" fill="#0c9f0c"/><circle cx="51.8" cy="69.1" r="0.8" fill="#0c9f0c"/><circle cx="54.9" cy="71.6" r="0.8" fill="#0c9f0c"/><circle cx="89.8" cy="69.3" r="0.9" fill="#0b9c0b"/><circle cx="90.9" cy="66" r="1" fill="#0b9c0b"/><circle cx="61.1" cy="91.6" r="0.9" fill="#098909"/><circle cx="62.7" cy="93.9" r="1" fill="#098909"/><circle cx="60.4" cy="87.9" r="0.9" fill="#098909"/><circle cx="59.9" cy="87.9" r="0.8" fill="#098909"/><circle cx="9.4" cy="80.8" r="0.9" fill="#077707"/><circle cx="5.7" cy="85.7" r="0.9" fill="#077707"/></g></svg>
<svg x="848" y="20" width="98.7" height="98.2" viewBox="0 0 100 100" preserveAspectRatio="none"><rect width="100" height="100" fill="#002e00"/><g filter="url(#b)"><ellipse cx="48" cy="48" rx="50" ry="50" fill="#013f01"/><ellipse cx="73" cy="6" rx="19.7" ry="12.7" fill="#024702" transform="rotate(-10 73 6)"/><ellipse cx="90" cy="22" rx="11.3" ry="16.9" fill="#024702"/><ellipse cx="40" cy="48" rx="11.3" ry="9.9" fill="#024702"/><ellipse cx="90" cy="55" rx="12.7" ry="18.3" fill="#024702"/><ellipse cx="6" cy="42" rx="12.7" ry="23.9" fill="#024902"/><ellipse cx="47" cy="69" rx="14.1" ry="9.9" fill="#024b02"/><ellipse cx="50" cy="81" rx="18.3" ry="9.9" fill="#024b02"/><ellipse cx="8" cy="79" rx="15.5" ry="12.7" fill="#024b02"/><ellipse cx="77" cy="95" rx="18" ry="6" fill="#024c02"/><ellipse cx="63" cy="59" rx="22.5" ry="14.1" fill="#024e02" transform="rotate(25 63 59)"/><ellipse cx="28" cy="66" rx="12.7" ry="16.9" fill="#024e02"/><ellipse cx="60" cy="38" rx="19.7" ry="11.3" fill="#025102" transform="rotate(5 60 38)"/><ellipse cx="21" cy="14" rx="24" ry="14" fill="#077707"/><ellipse cx="73" cy="6" rx="13" ry="8" fill="#067206" transform="rotate(-10 73 6)"/><ellipse cx="90" cy="22" rx="7" ry="11" fill="#067206"/><ellipse cx="6" cy="42" rx="8" ry="16" fill="#077707"/><ellipse cx="60" cy="38" rx="13" ry="7" fill="#098c09" transform="rotate(5 60 38)"/><ellipse cx="40" cy="48" rx="7" ry="6" fill="#067206"/><ellipse cx="63" cy="59" rx="15" ry="9" fill="#088408" transform="rotate(25 63 59)"/><ellipse cx="90" cy="55" rx="8" ry="12" fill="#067206"/><ellipse cx="28" cy="66" rx="8" ry="11" fill="#088408"/><ellipse cx="47" cy="69" rx="9" ry="6" fill="#077c07"/><ellipse cx="50" cy="81" rx="12" ry="6" fill="#077c07"/><ellipse cx="8" cy="79" rx="10" ry="8" fill="#077c07"/><ellipse cx="3" cy="66" rx="6" ry="6" fill="#046204"/><ellipse cx="92" cy="77" rx="8" ry="8" fill="#046204"/><ellipse cx="48" cy="25" rx="10" ry="6" fill="#002e00"/><ellipse cx="73" cy="6" rx="7.2" ry="4.4" fill="#077c07" transform="rotate(-10 73 6)"/><ellipse cx="90" cy="22" rx="3.9" ry="6.1" fill="#077c07"/><ellipse cx="6" cy="42" rx="4.4" ry="8.8" fill="#088208"/><ellipse cx="60" cy="38" rx="7.2" ry="3.9" fill="#0b970b" transform="rotate(5 60 38)"/><ellipse cx="40" cy="48" rx="3.9" ry="3.3" fill="#077c07"/><ellipse cx="63" cy="59" rx="8.2" ry="5" fill="#098f09" transform="rotate(25 63 59)"/><ellipse cx="90" cy="55" rx="4.4" ry="6.6" fill="#077c07"/><ellipse cx="28" cy="66" rx="4.4" ry="6.1" fill="#098f09"/><ellipse cx="47" cy="69" rx="5" ry="3.3" fill="#088708"/><ellipse cx="50" cy="81" rx="6.6" ry="3.3" fill="#088708"/><ellipse cx="8" cy="79" rx="5.5" ry="4.4" fill="#088708"/><ellipse cx="3" cy="66" rx="3.3" ry="3.3" fill="#056d05"/><ellipse cx="92" cy="77" rx="4.4" ry="4.4" fill="#056d05"/></g><g filter="url(#b2)"><circle cx="71.4" cy="5.4" r="0.8" fill="#0ca20c"/><circle cx="67.3" cy="4.4" r="1" fill="#0ca20c"/><circle cx="88.2" cy="23.4" r="0.9" fill="#0ca20c"/><circle cx="89.7" cy="22" r="0.8" fill="#0ca20c"/><circle cx="92.1" cy="17.9" r="0.8" fill="#0ca20c"/><circle cx="87" cy="19.7" r="0.9" fill="#0ca20c"/><circle cx="7.6" cy="44.3" r="0.7" fill="#0da70d"/><circle cx="8.3" cy="40.4" r="1" fill="#0da70d"/><circle cx="3.2" cy="35.6" r="0.8" fill="#0da70d"/><circle cx="59.9" cy="38.9" r="1.1" fill="#11bd11"/><circle cx="61.1" cy="35.8" r="0.7" fill="#11bd11"/><circle cx="39.9" cy="46.3" r="1.1" fill="#0ca20c"/><circle cx="40.5" cy="49.2" r="1.1" fill="#0ca20c"/><circle cx="62.5" cy="61.9" r="0.9" fill="#10b410"/><circle cx="58.5" cy="57.8" r="0.9" fill="#10b410"/><circle cx="61.2" cy="56.9" r="1" fill="#10b410"/><circle cx="90" cy="51.7" r="0.8" fill="#0ca20c"/><circle cx="90.2" cy="55.1" r="0.7" fill="#0ca20c"/><circle cx="92.9" cy="55.1" r="1" fill="#0ca20c"/><circle cx="26.9" cy="70" r="0.8" fill="#10b410"/><circle cx="26" cy="61.4" r="0.8" fill="#10b410"/><circle cx="49.7" cy="71.1" r="0.8" fill="#0eac0e"/><circle cx="46.2" cy="67.2" r="1" fill="#0eac0e"/><circle cx="50.8" cy="67.4" r="1" fill="#0eac0e"/><circle cx="45.9" cy="82.6" r="0.9" fill="#0eac0e"/><circle cx="53.6" cy="81.4" r="1.1" fill="#0eac0e"/><circle cx="46.1" cy="81.3" r="0.9" fill="#0eac0e"/><circle cx="8.8" cy="77.5" r="0.7" fill="#0eac0e"/><circle cx="4.3" cy="76.2" r="0.9" fill="#0eac0e"/><circle cx="1.1" cy="68.4" r="0.9" fill="#0a910a"/><circle cx="1.1" cy="66.6" r="0.8" fill="#0a910a"/><circle cx="5.2" cy="65.1" r="1" fill="#0a910a"/><circle cx="93.8" cy="75.9" r="1.1" fill="#0a910a"/><circle cx="88.4" cy="79.4" r="0.8" fill="#0a910a"/></g></svg>
<svg x="949.4" y="20" width="98.7" height="98.2" viewBox="0 0 100 100" preserveAspectRatio="none"><rect width="100" height="100" fill="#002a00"/><g filter="url(#b)"><ellipse cx="80" cy="65" rx="6" ry="9" fill="#002e00"/><ellipse cx="4" cy="6" rx="9.9" ry="9.9" fill="#013701"/><ellipse cx="94" cy="68" rx="9.1" ry="16.6" fill="#024b02"/><ellipse cx="43" cy="93" rx="16.6" ry="9.1" fill="#035a03"/><ellipse cx="26" cy="40" rx="30.2" ry="37.8" fill="#098909"/><ellipse cx="59" cy="8" rx="23.8" ry="8.6" fill="#0c9f0c" transform="rotate(10 59 8)"/><ellipse cx="64" cy="77" rx="9.7" ry="17.3" fill="#0eac0e" transform="rotate(-25 64 77)"/><ellipse cx="46" cy="27" rx="8.6" ry="21.6" fill="#14c714" transform="rotate(-20 46 27)"/><ellipse cx="67" cy="44" rx="8.6" ry="19.4" fill="#14c714" transform="rotate(-30 67 44)"/><ellipse cx="75" cy="13" rx="10.8" ry="5.4" fill="#0a910a" transform="rotate(25 75 13)"/><ellipse cx="38" cy="77" rx="10.8" ry="8.6" fill="#0da70d"/><ellipse cx="10" cy="65" rx="11.9" ry="8.6" fill="#0c9f0c"/><ellipse cx="43" cy="93" rx="10.8" ry="5.4" fill="#0eac0e"/><ellipse cx="94" cy="68" rx="5.4" ry="10.8" fill="#088408"/><ellipse cx="4" cy="6" rx="6" ry="6" fill="#024c02"/><ellipse cx="22" cy="27" rx="8.6" ry="11.9" fill="#10ba10" transform="rotate(-30 22 27)"/><ellipse cx="26" cy="55" rx="10.8" ry="8.6" fill="#10ba10"/><ellipse cx="14" cy="37" rx="5" ry="5" fill="#013701"/><ellipse cx="9" cy="53" rx="8" ry="3" fill="#013701"/><ellipse cx="15" cy="92" rx="14" ry="8" fill="#002700"/><ellipse cx="83" cy="27" rx="12" ry="12" fill="#002700"/><ellipse cx="75" cy="13" rx="5.9" ry="3" fill="#0b9c0b" transform="rotate(25 75 13)"/><ellipse cx="38" cy="77" rx="5.9" ry="4.8" fill="#0fb20f"/><ellipse cx="10" cy="65" rx="6.5" ry="4.8" fill="#0eaa0e"/><ellipse cx="43" cy="93" rx="5.9" ry="3" fill="#10b710"/><ellipse cx="94" cy="68" rx="3" ry="5.9" fill="#098f09"/><ellipse cx="4" cy="6" rx="3.3" ry="3.3" fill="#035603"/><ellipse cx="22" cy="27" rx="4.8" ry="6.5" fill="#13c513" transform="rotate(-30 22 27)"/><ellipse cx="26" cy="55" rx="5.9" ry="4.8" fill="#13c513"/></g><g filter="url(#b2)"><circle cx="76.5" cy="12.4" r="0.8" fill="#12c212"/><circle cx="76.9" cy="13" r="0.9" fill="#12c212"/><circle cx="76.3" cy="12.7" r="1.1" fill="#12c212"/><circle cx="33.5" cy="76.1" r="1" fill="#1ad71a"/><circle cx="37.5" cy="78.8" r="0.8" fill="#1ad71a"/><circle cx="35.5" cy="74" r="0.9" fill="#1ad71a"/><circle cx="42.1" cy="77.7" r="1" fill="#1ad71a"/><circle cx="13.1" cy="68" r="1.1" fill="#17cf17"/><circle cx="6.8" cy="62.9" r="1" fill="#17cf17"/><circle cx="14.2" cy="67.1" r="1.1" fill="#17cf17"/><circle cx="40.9" cy="94.5" r="0.8" fill="#1cdc1c"/><circle cx="46.8" cy="94.8" r="0.7" fill="#1cdc1c"/><circle cx="41.8" cy="93" r="0.7" fill="#1cdc1c"/><circle cx="95.1" cy="71.4" r="1.1" fill="#10b410"/><circle cx="91.6" cy="70.6" r="0.8" fill="#10b410"/><circle cx="95.7" cy="66.3" r="1.1" fill="#10b410"/><circle cx="4.2" cy="3.4" r="0.7" fill="#077a07"/><circle cx="4" cy="8.3" r="0.9" fill="#077a07"/><circle cx="21.3" cy="30.6" r="1" fill="#2ce72c"/><circle cx="22" cy="32.5" r="1" fill="#2ce72c"/><circle cx="17.7" cy="26.7" r="1" fill="#2ce72c"/><circle cx="28.4" cy="56.8" r="0.9" fill="#2ce72c"/><circle cx="21.5" cy="57.9" r="0.9" fill="#2ce72c"/></g></svg>
<svg x="1050.9" y="20" width="98.7" height="98.2" viewBox="0 0 100 100" preserveAspectRatio="none"><rect width="100" height="100" fill="#056805"/><g filter="url(#b)"><ellipse cx="37" cy="22" rx="11.3" ry="16.9" fill="#067606" transform="rotate(-20 37 22)"/><ellipse cx="58" cy="21" rx="12.7" ry="15.5" fill="#077807" transform="rotate(20 58 21)"/><ellipse cx="60" cy="43" rx="12.7" ry="15.5" fill="#077807" transform="rotate(25 60 43)"/><ellipse cx="50" cy="61" rx="14.1" ry="12.7" fill="#077807"/><ellipse cx="87" cy="55" rx="10" ry="10" fill="#077a07"/><ellipse cx="56" cy="87" rx="10" ry="8" fill="#077a07"/><ellipse cx="79" cy="74" rx="14" ry="9" fill="#077c07"/><ellipse cx="11" cy="24" rx="11" ry="9" fill="#087f08"/><ellipse cx="14" cy="60" rx="9" ry="8" fill="#087f08"/><ellipse cx="32" cy="58" rx="6" ry="9" fill="#087f08"/><ellipse cx="81" cy="18" rx="7" ry="9" fill="#088408"/><ellipse cx="16" cy="43" rx="10" ry="8" fill="#088408"/><ellipse cx="84" cy="37" rx="8" ry="9" fill="#088408" transform="rotate(30 84 37)"/><ellipse cx="27" cy="84" rx="10" ry="7" fill="#088408"/><ellipse cx="48" cy="5" rx="8" ry="5" fill="#088408"/><ellipse cx="40" cy="43" rx="10" ry="8" fill="#013b01"/><ellipse cx="32" cy="72" rx="10" ry="5" fill="#013f01"/><ellipse cx="71" cy="6" rx="8" ry="8" fill="#013f01"/><ellipse cx="87" cy="92" rx="14" ry="8" fill="#003400"/><ellipse cx="27" cy="29" rx="5" ry="8" fill="#024602"/><ellipse cx="68" cy="58" rx="8" ry="5" fill="#014401" transform="rotate(-30 68 58)"/><ellipse cx="37" cy="22" rx="7" ry="11" fill="#098c09" transform="rotate(-20 37 22)"/><ellipse cx="58" cy="21" rx="8" ry="10" fill="#0a910a" transform="rotate(20 58 21)"/><ellipse cx="60" cy="43" rx="8" ry="10" fill="#0a910a" transform="rotate(25 60 43)"/><ellipse cx="50" cy="61" rx="9" ry="8" fill="#0a910a"/><ellipse cx="37" cy="22" rx="3.9" ry="6.1" fill="#0b970b" transform="rotate(-20 37 22)"/><ellipse cx="58" cy="21" rx="4.4" ry="5.5" fill="#0b9c0b" transform="rotate(20 58 21)"/><ellipse cx="60" cy="43" rx="4.4" ry="5.5" fill="#0b9c0b" transform="rotate(25 60 43)"/><ellipse cx="50" cy="61" rx="5" ry="4.4" fill="#0b9c0b"/></g><g filter="url(#b2)"><circle cx="34.2" cy="22.8" r="0.7" fill="#11bd11"/><circle cx="36.7" cy="22" r="0.8" fill="#11bd11"/><circle cx="37.3" cy="17" r="0.9" fill="#11bd11"/><circle cx="36" cy="27.1" r="1" fill="#11bd11"/><circle cx="53.8" cy="22.9" r="0.9" fill="#12c212"/><circle cx="57.9" cy="18.9" r="1" fill="#12c212"/><circle cx="57.1" cy="22.5" r="1" fill="#12c212"/><circle cx="58.3" cy="45.8" r="0.8" fill="#12c212"/><circle cx="60.1" cy="41.8" r="0.9" fill="#12c212"/><circle cx="47" cy="64.2" r="0.8" fill="#12c212"/><circle cx="48.9" cy="63.9" r="0.8" fill="#12c212"/></g></svg>
<svg x="1152.4" y="20" width="98.7" height="98.2" viewBox="0 0 100 100" preserveAspectRatio="none"><rect width="100" height="100" fill="#002700"/><g filter="url(#b)"><ellipse cx="60" cy="55" rx="40" ry="40" fill="#003400"/><ellipse cx="46" cy="10" rx="21.1" ry="12.7" fill="#013901" transform="rotate(-20 46 10)"/><ellipse cx="91" cy="68" rx="12.7" ry="21.1" fill="#013901"/><ellipse cx="10" cy="81" rx="8" ry="14" fill="#013b01"/><ellipse cx="80" cy="31" rx="11.3" ry="16.9" fill="#013b01"/><ellipse cx="75" cy="61" rx="12.7" ry="19.7" fill="#013c01"/><ellipse cx="33" cy="34" rx="18.3" ry="11.3" fill="#013d01" transform="rotate(-10 33 34)"/><ellipse cx="4" cy="42" rx="6" ry="10" fill="#013f01"/><ellipse cx="64" cy="37" rx="11.3" ry="14.1" fill="#013f01"/><ellipse cx="17" cy="13" rx="20" ry="14" fill="#024c02"/><ellipse cx="51" cy="90" rx="20" ry="8" fill="#024e02" transform="rotate(15 51 90)"/><ellipse cx="46" cy="69" rx="18" ry="7" fill="#046004" transform="rotate(20 46 69)"/><ellipse cx="46" cy="10" rx="14" ry="8" fill="#035b03" transform="rotate(-20 46 10)"/><ellipse cx="33" cy="34" rx="12" ry="7" fill="#056805" transform="rotate(-10 33 34)"/><ellipse cx="64" cy="37" rx="7" ry="9" fill="#056d05"/><ellipse cx="80" cy="31" rx="7" ry="11" fill="#046004"/><ellipse cx="75" cy="61" rx="8" ry="13" fill="#046504"/><ellipse cx="91" cy="68" rx="8" ry="14" fill="#035b03"/><ellipse cx="26" cy="77" rx="10" ry="12" fill="#035303"/><ellipse cx="94" cy="8" rx="6" ry="10" fill="#001a00"/><ellipse cx="46" cy="10" rx="7.7" ry="4.4" fill="#046504" transform="rotate(-20 46 10)"/><ellipse cx="33" cy="34" rx="6.6" ry="3.9" fill="#067206" transform="rotate(-10 33 34)"/><ellipse cx="64" cy="37" rx="3.9" ry="5" fill="#077707"/><ellipse cx="80" cy="31" rx="3.9" ry="6.1" fill="#056a05"/><ellipse cx="75" cy="61" rx="4.4" ry="7.2" fill="#066f06"/><ellipse cx="91" cy="68" rx="4.4" ry="7.7" fill="#046504"/><ellipse cx="26" cy="77" rx="5.5" ry="6.6" fill="#045d04"/></g><g filter="url(#b2)"><circle cx="51.2" cy="10.8" r="1" fill="#098909"/><circle cx="46.3" cy="12.6" r="0.8" fill="#098909"/><circle cx="49.5" cy="8.5" r="0.9" fill="#098909"/><circle cx="28.5" cy="33.5" r="0.7" fill="#0b970b"/><circle cx="36.5" cy="34.6" r="0.7" fill="#0b970b"/><circle cx="66.9" cy="38.2" r="0.9" fill="#0b9c0b"/><circle cx="61.8" cy="33.1" r="0.9" fill="#0b9c0b"/><circle cx="61.2" cy="34.5" r="0.8" fill="#0b9c0b"/><circle cx="81.8" cy="29.3" r="0.9" fill="#098f09"/><circle cx="78.1" cy="28.4" r="0.8" fill="#098f09"/><circle cx="76.2" cy="60.5" r="0.8" fill="#0a940a"/><circle cx="78.6" cy="66.8" r="1" fill="#0a940a"/><circle cx="89.2" cy="71.3" r="0.9" fill="#098909"/><circle cx="87.6" cy="68.8" r="0.7" fill="#098909"/><circle cx="88.2" cy="65.4" r="0.7" fill="#098909"/><circle cx="87.5" cy="70.3" r="0.8" fill="#098909"/><circle cx="25.7" cy="82.2" r="0.9" fill="#088208"/><circle cx="22.2" cy="78.4" r="1" fill="#088208"/></g></svg>
<svg x="36.3" y="121" width="98.7" height="98.2" viewBox="0 0 100 100" preserveAspectRatio="none"><rect width="100" height="100" fill="#001d00"/><g filter="url(#b)"><ellipse cx="56" cy="29" rx="16.9" ry="16.9" fill="#002d00"/><ellipse cx="71" cy="85" rx="14.1" ry="21.1" fill="#002d00" transform="rotate(10 71 85)"/><ellipse cx="37" cy="48" rx="10" ry="8" fill="#003000"/><ellipse cx="52" cy="69" rx="9.9" ry="23.9" fill="#003100" transform="rotate(20 52 69)"/><ellipse cx="10" cy="6" rx="10" ry="6" fill="#003400"/><ellipse cx="29" cy="32" rx="12.7" ry="16.9" fill="#013501" transform="rotate(-15 29 32)"/><ellipse cx="74" cy="58" rx="14.1" ry="14.1" fill="#013501"/><ellipse cx="94" cy="87" rx="6" ry="12" fill="#013f01"/><ellipse cx="89" cy="21" rx="12" ry="10" fill="#014401" transform="rotate(-30 89 21)"/><ellipse cx="21" cy="90" rx="18" ry="6" fill="#024c02" transform="rotate(-25 21 90)"/><ellipse cx="29" cy="32" rx="8" ry="11" fill="#046504" transform="rotate(-15 29 32)"/><ellipse cx="56" cy="29" rx="11" ry="11" fill="#024c02"/><ellipse cx="74" cy="58" rx="9" ry="9" fill="#046504"/><ellipse cx="52" cy="69" rx="6" ry="16" fill="#035803" transform="rotate(20 52 69)"/><ellipse cx="71" cy="85" rx="9" ry="14" fill="#024c02" transform="rotate(10 71 85)"/><ellipse cx="29" cy="32" rx="4.4" ry="6.1" fill="#066f06" transform="rotate(-15 29 32)"/><ellipse cx="56" cy="29" rx="6.1" ry="6.1" fill="#035603"/><ellipse cx="74" cy="58" rx="5" ry="5" fill="#066f06"/><ellipse cx="52" cy="69" rx="3.3" ry="8.8" fill="#046204" transform="rotate(20 52 69)"/><ellipse cx="71" cy="85" rx="5" ry="7.7" fill="#035603" transform="rotate(10 71 85)"/></g><g filter="url(#b2)"><circle cx="29.9" cy="36.4" r="0.8" fill="#0a940a"/><circle cx="27.9" cy="30.8" r="0.9" fill="#0a940a"/><circle cx="56.3" cy="24.8" r="0.9" fill="#077a07"/><circle cx="51.5" cy="33.3" r="1.1" fill="#077a07"/><circle cx="71.8" cy="60.7" r="1.1" fill="#0a940a"/><circle cx="77.7" cy="55.1" r="1.1" fill="#0a940a"/><circle cx="72.9" cy="57.3" r="1" fill="#0a940a"/><circle cx="54" cy="70.6" r="1.1" fill="#088708"/><circle cx="55.3" cy="65" r="1" fill="#088708"/><circle cx="52.5" cy="61.6" r="0.9" fill="#088708"/><circle cx="69" cy="80.4" r="0.7" fill="#077a07"/><circle cx="71.3" cy="91.1" r="1" fill="#077a07"/><circle cx="74.6" cy="84.2" r="0.9" fill="#077a07"/><circle cx="74" cy="79.8" r="0.8" fill="#077a07"/></g></svg>
<svg x="137.8" y="121" width="98.7" height="98.2" viewBox="0 0 100 100" preserveAspectRatio="none"><rect width="100" height="100" fill="#002700"/><g filter="url(#b)"><ellipse cx="23" cy="64" rx="22.5" ry="8.5" fill="#003400"/><ellipse cx="90" cy="95" rx="15.5" ry="7.1" fill="#003400"/><ellipse cx="92" cy="18" rx="12.7" ry="21.1" fill="#013701"/><ellipse cx="52" cy="48" rx="21.1" ry="7.1" fill="#013801" transform="rotate(-20 52 48)"/><ellipse cx="39" cy="8" rx="16" ry="7" fill="#013b01"/><ellipse cx="5" cy="71" rx="11.3" ry="12.7" fill="#013c01"/><ellipse cx="74" cy="39" rx="18.3" ry="11.3" fill="#014101" transform="rotate(-15 74 39)"/><ellipse cx="8" cy="24" rx="18.3" ry="15.5" fill="#014401" transform="rotate(-30 8 24)"/><ellipse cx="27" cy="32" rx="14.1" ry="22.5" fill="#024902" transform="rotate(25 27 32)"/><ellipse cx="6" cy="50" rx="14.1" ry="12.7" fill="#024902"/><ellipse cx="76" cy="58" rx="22" ry="10" fill="#087f08" transform="rotate(-10 76 58)"/><ellipse cx="35" cy="81" rx="20" ry="10" fill="#088708" transform="rotate(15 35 81)"/><ellipse cx="8" cy="24" rx="12" ry="10" fill="#077a07" transform="rotate(-30 8 24)"/><ellipse cx="27" cy="32" rx="9" ry="15" fill="#088708" transform="rotate(25 27 32)"/><ellipse cx="6" cy="50" rx="9" ry="8" fill="#088708"/><ellipse cx="5" cy="71" rx="7" ry="8" fill="#046504"/><ellipse cx="92" cy="18" rx="8" ry="14" fill="#035303"/><ellipse cx="74" cy="39" rx="12" ry="7" fill="#067206" transform="rotate(-15 74 39)"/><ellipse cx="52" cy="48" rx="14" ry="4" fill="#035803" transform="rotate(-20 52 48)"/><ellipse cx="40" cy="82" rx="9" ry="6" fill="#0b9a0b"/><ellipse cx="23" cy="64" rx="15" ry="5" fill="#024c02"/><ellipse cx="90" cy="95" rx="10" ry="4" fill="#024c02"/><ellipse cx="71" cy="77" rx="14" ry="8" fill="#002200"/><ellipse cx="58" cy="26" rx="10" ry="12" fill="#002200"/><ellipse cx="8" cy="24" rx="6.6" ry="5.5" fill="#088408" transform="rotate(-30 8 24)"/><ellipse cx="27" cy="32" rx="5" ry="8.2" fill="#0a910a" transform="rotate(25 27 32)"/><ellipse cx="6" cy="50" rx="5" ry="4.4" fill="#0a910a"/><ellipse cx="5" cy="71" rx="3.9" ry="4.4" fill="#066f06"/><ellipse cx="92" cy="18" rx="4.4" ry="7.7" fill="#045d04"/><ellipse cx="74" cy="39" rx="6.6" ry="3.9" fill="#077c07" transform="rotate(-15 74 39)"/><ellipse cx="52" cy="48" rx="7.7" ry="2.2" fill="#046204" transform="rotate(-20 52 48)"/><ellipse cx="40" cy="82" rx="5" ry="3.3" fill="#0da40d"/><ellipse cx="23" cy="64" rx="8.2" ry="2.8" fill="#035603"/><ellipse cx="90" cy="95" rx="5.5" ry="2.2" fill="#035603"/></g><g filter="url(#b2)"><circle cx="13.1" cy="25.3" r="0.9" fill="#0daa0d"/><circle cx="4.6" cy="21.2" r="0.9" fill="#0daa0d"/><circle cx="10.8" cy="26.7" r="0.9" fill="#0daa0d"/><circle cx="9.9" cy="21.1" r="0.9" fill="#0daa0d"/><circle cx="27.1" cy="25.9" r="1" fill="#10b710"/><circle cx="26.2" cy="31.2" r="0.8" fill="#10b710"/><circle cx="28.6" cy="31.3" r="0.8" fill="#10b710"/><circle cx="5.7" cy="47.9" r="1" fill="#10b710"/><circle cx="7" cy="48.8" r="1" fill="#10b710"/><circle cx="4.1" cy="52" r="0.8" fill="#10b710"/><circle cx="4.4" cy="72.2" r="0.7" fill="#0a940a"/><circle cx="4.8" cy="71.3" r="0.8" fill="#0a940a"/><circle cx="91.1" cy="16.2" r="0.8" fill="#088208"/><circle cx="94.3" cy="24.1" r="0.9" fill="#088208"/><circle cx="68.9" cy="38.1" r="1" fill="#0ca20c"/><circle cx="76.2" cy="37.5" r="1" fill="#0ca20c"/><circle cx="73.7" cy="39.1" r="1.1" fill="#0ca20c"/><circle cx="56" cy="45.3" r="0.9" fill="#088708"/><circle cx="57" cy="47.9" r="0.7" fill="#088708"/><circle cx="52.9" cy="47.8" r="1" fill="#088708"/><circle cx="42.7" cy="79.9" r="1" fill="#15ca15"/><circle cx="42.2" cy="83.7" r="1" fill="#15ca15"/><circle cx="37.1" cy="80.3" r="1" fill="#15ca15"/><circle cx="28.8" cy="64.2" r="1.1" fill="#077a07"/><circle cx="29.3" cy="62.1" r="0.8" fill="#077a07"/><circle cx="20.5" cy="63.4" r="0.7" fill="#077a07"/><circle cx="23.7" cy="66.2" r="0.9" fill="#077a07"/><circle cx="88" cy="96.2" r="0.7" fill="#077a07"/><circle cx="93.9" cy="94.1" r="0.8" fill="#077a07"/></g></svg>
<svg x="239.2" y="121" width="98.7" height="98.2" viewBox="0 0 100 100" preserveAspectRatio="none"><rect width="100" height="100" fill="#002200"/><g filter="url(#b3)"><ellipse cx="35" cy="60" rx="40" ry="45" fill="#024c02"/></g><g filter="url(#b)"><ellipse cx="16" cy="5" rx="15.5" ry="8.5" fill="#013901"/><ellipse cx="40" cy="10" rx="14.1" ry="11.3" fill="#014401" transform="rotate(-20 40 10)"/><ellipse cx="87" cy="87" rx="18.3" ry="15.5" fill="#014401"/><ellipse cx="4" cy="42" rx="9.9" ry="12.7" fill="#024c02"/><ellipse cx="59" cy="29" rx="14.1" ry="16.9" fill="#025002"/><ellipse cx="36" cy="42" rx="12.7" ry="18.3" fill="#035403" transform="rotate(-30 36 42)"/><ellipse cx="61" cy="53" rx="23.9" ry="21.1" fill="#035903"/><ellipse cx="24" cy="77" rx="20" ry="22" fill="#088708"/><ellipse cx="65" cy="77" rx="20" ry="20" fill="#0da70d"/><ellipse cx="40" cy="10" rx="9" ry="7" fill="#088708" transform="rotate(-20 40 10)"/><ellipse cx="16" cy="5" rx="10" ry="5" fill="#046504"/><ellipse cx="59" cy="29" rx="9" ry="11" fill="#0da70d"/><ellipse cx="36" cy="42" rx="8" ry="12" fill="#0eaf0e" transform="rotate(-30 36 42)"/><ellipse cx="4" cy="42" rx="6" ry="8" fill="#0b9a0b"/><ellipse cx="61" cy="53" rx="16" ry="14" fill="#11bd11"/><ellipse cx="87" cy="87" rx="12" ry="10" fill="#088708"/><ellipse cx="18" cy="71" rx="10" ry="14" fill="#0ca20c"/><ellipse cx="31" cy="85" rx="9" ry="13" fill="#0ca20c"/><ellipse cx="47" cy="92" rx="6" ry="6" fill="#002200"/><ellipse cx="69" cy="60" rx="4" ry="2" fill="#003400"/><ellipse cx="3" cy="81" rx="4" ry="14" fill="#002700"/><ellipse cx="43" cy="66" rx="3" ry="5" fill="#003400"/><ellipse cx="40" cy="10" rx="5" ry="3.9" fill="#0a910a" transform="rotate(-20 40 10)"/><ellipse cx="16" cy="5" rx="5.5" ry="2.8" fill="#066f06"/><ellipse cx="59" cy="29" rx="5" ry="6.1" fill="#0fb20f"/><ellipse cx="36" cy="42" rx="4.4" ry="6.6" fill="#10ba10" transform="rotate(-30 36 42)"/><ellipse cx="4" cy="42" rx="3.3" ry="4.4" fill="#0da40d"/><ellipse cx="61" cy="53" rx="8.8" ry="7.7" fill="#14c714"/><ellipse cx="87" cy="87" rx="6.6" ry="5.5" fill="#0a910a"/><ellipse cx="18" cy="71" rx="5.5" ry="7.7" fill="#0eac0e"/><ellipse cx="31" cy="85" rx="5" ry="7.2" fill="#0eac0e"/></g><g filter="url(#b2)"><circle cx="41" cy="8.7" r="0.9" fill="#10b710"/><circle cx="40.5" cy="7.7" r="0.8" fill="#10b710"/><circle cx="16.6" cy="2.9" r="0.9" fill="#0a940a"/><circle cx="17.1" cy="5.1" r="1.1" fill="#0a940a"/><circle cx="18.1" cy="4.4" r="0.8" fill="#0a940a"/><circle cx="55.6" cy="24.6" r="0.8" fill="#1ad71a"/><circle cx="59.6" cy="32.9" r="1" fill="#1ad71a"/><circle cx="34.3" cy="38.6" r="0.9" fill="#1fde1f"/><circle cx="37.7" cy="43.1" r="0.8" fill="#1fde1f"/><circle cx="32.6" cy="41.9" r="1" fill="#1fde1f"/><circle cx="37.4" cy="44.3" r="0.9" fill="#1fde1f"/><circle cx="2" cy="44.2" r="0.8" fill="#15ca15"/><circle cx="1.7" cy="40.1" r="0.8" fill="#15ca15"/><circle cx="2" cy="42.8" r="1.1" fill="#15ca15"/><circle cx="65.7" cy="54.8" r="0.9" fill="#2fe92f"/><circle cx="67.4" cy="52.3" r="1" fill="#2fe92f"/><circle cx="66.3" cy="55.3" r="0.9" fill="#2fe92f"/><circle cx="83.8" cy="87.8" r="0.9" fill="#10b710"/><circle cx="83.4" cy="90" r="0.8" fill="#10b710"/><circle cx="82.1" cy="83.6" r="0.9" fill="#10b710"/><circle cx="91" cy="85.3" r="1" fill="#10b710"/><circle cx="21.4" cy="69.5" r="0.8" fill="#18d218"/><circle cx="19.7" cy="76.5" r="0.8" fill="#18d218"/><circle cx="17.5" cy="73" r="0.8" fill="#18d218"/><circle cx="17.2" cy="66.5" r="0.9" fill="#18d218"/><circle cx="27" cy="82" r="0.8" fill="#18d218"/><circle cx="27.9" cy="88.2" r="0.7" fill="#18d218"/></g></svg>
<svg x="340.7" y="121" width="98.7" height="98.2" viewBox="0 0 100 100" preserveAspectRatio="none"><rect width="100" height="100" fill="#001d00"/><g filter="url(#b3)"><ellipse cx="65" cy="40" rx="30" ry="36" fill="#013f01"/></g><g filter="url(#b)"><ellipse cx="73" cy="71" rx="8" ry="8" fill="#001f00"/><ellipse cx="82" cy="6" rx="21.1" ry="9.9" fill="#002f00"/><ellipse cx="42" cy="10" rx="19.7" ry="15.5" fill="#003300"/><ellipse cx="90" cy="58" rx="14.1" ry="21.1" fill="#003300"/><ellipse cx="60" cy="6" rx="12.7" ry="9.9" fill="#013501"/><ellipse cx="89" cy="29" rx="12.7" ry="16.9" fill="#013701"/><ellipse cx="65" cy="26" rx="18.3" ry="14.1" fill="#013901" transform="rotate(-20 65 26)"/><ellipse cx="71" cy="45" rx="16.9" ry="15.5" fill="#013901"/><ellipse cx="39" cy="42" rx="8" ry="18" fill="#067206" transform="rotate(5 39 42)"/><ellipse cx="48" cy="74" rx="9" ry="18" fill="#067206" transform="rotate(30 48 74)"/><ellipse cx="42" cy="10" rx="13" ry="10" fill="#046004"/><ellipse cx="60" cy="6" rx="8" ry="6" fill="#046504"/><ellipse cx="82" cy="6" rx="14" ry="6" fill="#035303"/><ellipse cx="65" cy="26" rx="12" ry="9" fill="#067206" transform="rotate(-20 65 26)"/><ellipse cx="89" cy="29" rx="8" ry="11" fill="#056d05"/><ellipse cx="71" cy="45" rx="11" ry="10" fill="#067206"/><ellipse cx="90" cy="58" rx="9" ry="14" fill="#046004"/><ellipse cx="42" cy="10" rx="7.2" ry="5.5" fill="#056a05"/><ellipse cx="60" cy="6" rx="4.4" ry="3.3" fill="#066f06"/><ellipse cx="82" cy="6" rx="7.7" ry="3.3" fill="#045d04"/><ellipse cx="65" cy="26" rx="6.6" ry="5" fill="#077c07" transform="rotate(-20 65 26)"/><ellipse cx="89" cy="29" rx="4.4" ry="6.1" fill="#077707"/><ellipse cx="71" cy="45" rx="6.1" ry="5.5" fill="#077c07"/><ellipse cx="90" cy="58" rx="5" ry="7.7" fill="#056a05"/></g><g filter="url(#b2)"><circle cx="41.5" cy="12" r="1" fill="#098f09"/><circle cx="38.7" cy="6.2" r="0.9" fill="#098f09"/><circle cx="37.6" cy="8.9" r="1.1" fill="#098f09"/><circle cx="46.4" cy="6.6" r="0.7" fill="#098f09"/><circle cx="60.6" cy="8.6" r="0.7" fill="#0a940a"/><circle cx="63.3" cy="7" r="0.9" fill="#0a940a"/><circle cx="78" cy="5.5" r="1" fill="#088208"/><circle cx="84.8" cy="5.5" r="1" fill="#088208"/><circle cx="82.9" cy="7.8" r="0.8" fill="#088208"/><circle cx="61.2" cy="25" r="1" fill="#0ca20c"/><circle cx="66" cy="28.4" r="1" fill="#0ca20c"/><circle cx="69.8" cy="26.5" r="0.9" fill="#0ca20c"/><circle cx="89.2" cy="31.1" r="0.8" fill="#0b9c0b"/><circle cx="88.9" cy="25.5" r="0.9" fill="#0b9c0b"/><circle cx="87.2" cy="25" r="1.1" fill="#0b9c0b"/><circle cx="74.4" cy="46.4" r="1" fill="#0ca20c"/><circle cx="69.1" cy="46.5" r="0.7" fill="#0ca20c"/><circle cx="92.2" cy="52.9" r="0.9" fill="#098f09"/><circle cx="86.1" cy="57.7" r="0.9" fill="#098f09"/><circle cx="89" cy="60.9" r="0.8" fill="#098f09"/><circle cx="93.2" cy="53.9" r="1" fill="#098f09"/></g></svg>
<svg x="442.1" y="121" width="98.7" height="98.2" viewBox="0 0 100 100" preserveAspectRatio="none"><rect width="100" height="100" fill="#002200"/><g filter="url(#b)"><ellipse cx="71" cy="40" rx="5" ry="3" fill="#002700"/><ellipse cx="84" cy="87" rx="18.3" ry="15.5" fill="#003300"/><ellipse cx="73" cy="27" rx="21.1" ry="12.7" fill="#013901" transform="rotate(-30 73 27)"/><ellipse cx="37" cy="32" rx="18.3" ry="15.5" fill="#013b01"/><ellipse cx="6" cy="90" rx="9.9" ry="15.5" fill="#013d01"/><ellipse cx="34" cy="82" rx="18.3" ry="14.1" fill="#014001" transform="rotate(-20 34 82)"/><ellipse cx="19" cy="48" rx="18" ry="14" fill="#024c02"/><ellipse cx="44" cy="14" rx="32" ry="14" fill="#046004"/><ellipse cx="56" cy="53" rx="18" ry="14" fill="#056805"/><ellipse cx="37" cy="32" rx="12" ry="10" fill="#056d05"/><ellipse cx="73" cy="27" rx="14" ry="8" fill="#046504" transform="rotate(-30 73 27)"/><ellipse cx="55" cy="47" rx="7" ry="5" fill="#087f08"/><ellipse cx="20" cy="63" rx="12" ry="8" fill="#087f08"/><ellipse cx="34" cy="82" rx="12" ry="9" fill="#077a07" transform="rotate(-20 34 82)"/><ellipse cx="6" cy="90" rx="6" ry="10" fill="#067206"/><ellipse cx="84" cy="87" rx="12" ry="10" fill="#035303"/><ellipse cx="87" cy="56" rx="12" ry="18" fill="#001f00"/><ellipse cx="6" cy="14" rx="6" ry="10" fill="#002200"/><ellipse cx="37" cy="32" rx="6.6" ry="5.5" fill="#077707"/><ellipse cx="73" cy="27" rx="7.7" ry="4.4" fill="#066f06" transform="rotate(-30 73 27)"/><ellipse cx="55" cy="47" rx="3.9" ry="2.8" fill="#098909"/><ellipse cx="20" cy="63" rx="6.6" ry="4.4" fill="#098909"/><ellipse cx="34" cy="82" rx="6.6" ry="5" fill="#088408" transform="rotate(-20 34 82)"/><ellipse cx="6" cy="90" rx="3.3" ry="5.5" fill="#077c07"/><ellipse cx="84" cy="87" rx="6.6" ry="5.5" fill="#045d04"/></g><g filter="url(#b2)"><circle cx="41" cy="34.1" r="0.8" fill="#0b9c0b"/><circle cx="35.2" cy="33.9" r="1" fill="#0b9c0b"/><circle cx="76.1" cy="21.9" r="0.8" fill="#0a940a"/><circle cx="69.3" cy="31.2" r="0.8" fill="#0a940a"/><circle cx="57.3" cy="47.4" r="0.9" fill="#0eaf0e"/><circle cx="53.9" cy="47.5" r="1" fill="#0eaf0e"/><circle cx="15" cy="62.6" r="0.8" fill="#0eaf0e"/><circle cx="25" cy="65.6" r="0.7" fill="#0eaf0e"/><circle cx="15" cy="65.1" r="0.7" fill="#0eaf0e"/><circle cx="31.2" cy="82.3" r="1.1" fill="#0daa0d"/><circle cx="33.8" cy="86.3" r="0.8" fill="#0daa0d"/><circle cx="3.5" cy="91.5" r="1" fill="#0ca20c"/><circle cx="6.3" cy="91.2" r="1.1" fill="#0ca20c"/><circle cx="80.5" cy="87.2" r="0.7" fill="#088208"/><circle cx="82.7" cy="83.8" r="0.8" fill="#088208"/></g></svg>
<svg x="543.6" y="121" width="98.7" height="98.2" viewBox="0 0 100 100" preserveAspectRatio="none"><rect width="100" height="100" fill="#002a00"/><g filter="url(#b3)"><ellipse cx="50" cy="50" rx="50" ry="50" fill="#013b01"/></g><g filter="url(#b)"><ellipse cx="68" cy="32" rx="23.9" ry="23.9" fill="#013901"/><ellipse cx="90" cy="81" rx="9.9" ry="9.9" fill="#013d01"/><ellipse cx="18" cy="10" rx="14.1" ry="14.1" fill="#014201"/><ellipse cx="6" cy="92" rx="11.3" ry="12.7" fill="#014201"/><ellipse cx="61" cy="12" rx="11.3" ry="11.3" fill="#014401"/><ellipse cx="79" cy="19" rx="11.3" ry="14.1" fill="#014401"/><ellipse cx="15" cy="81" rx="14.1" ry="12.7" fill="#014401"/><ellipse cx="85" cy="48" rx="12.7" ry="14.1" fill="#024702"/><ellipse cx="35" cy="65" rx="15.5" ry="11.3" fill="#024702"/><ellipse cx="32" cy="26" rx="15.5" ry="12.7" fill="#024902"/><ellipse cx="63" cy="42" rx="11.3" ry="12.7" fill="#024902"/><ellipse cx="23" cy="52" rx="15.5" ry="11.3" fill="#024902"/><ellipse cx="56" cy="71" rx="14" ry="20" fill="#046004"/><ellipse cx="68" cy="32" rx="16" ry="16" fill="#035303"/><ellipse cx="18" cy="10" rx="9" ry="9" fill="#056d05"/><ellipse cx="61" cy="12" rx="7" ry="7" fill="#067206"/><ellipse cx="79" cy="19" rx="7" ry="9" fill="#067206"/><ellipse cx="32" cy="26" rx="10" ry="8" fill="#087f08"/><ellipse cx="63" cy="42" rx="7" ry="8" fill="#087f08"/><ellipse cx="58" cy="52" rx="7" ry="7" fill="#088708"/><ellipse cx="85" cy="48" rx="8" ry="9" fill="#077a07"/><ellipse cx="23" cy="52" rx="10" ry="7" fill="#087f08"/><ellipse cx="35" cy="65" rx="10" ry="7" fill="#077a07"/><ellipse cx="15" cy="81" rx="9" ry="8" fill="#067206"/><ellipse cx="6" cy="92" rx="7" ry="8" fill="#056d05"/><ellipse cx="90" cy="81" rx="6" ry="6" fill="#046004"/><ellipse cx="68" cy="32" rx="8.8" ry="8.8" fill="#045d04"/><ellipse cx="18" cy="10" rx="5" ry="5" fill="#077707"/><ellipse cx="61" cy="12" rx="3.9" ry="3.9" fill="#077c07"/><ellipse cx="79" cy="19" rx="3.9" ry="5" fill="#077c07"/><ellipse cx="32" cy="26" rx="5.5" ry="4.4" fill="#098909"/><ellipse cx="63" cy="42" rx="3.9" ry="4.4" fill="#098909"/><ellipse cx="58" cy="52" rx="3.9" ry="3.9" fill="#0a910a"/><ellipse cx="85" cy="48" rx="4.4" ry="5" fill="#088408"/><ellipse cx="23" cy="52" rx="5.5" ry="3.9" fill="#098909"/><ellipse cx="35" cy="65" rx="5.5" ry="3.9" fill="#088408"/><ellipse cx="15" cy="81" rx="5" ry="4.4" fill="#077c07"/><ellipse cx="6" cy="92" rx="3.9" ry="4.4" fill="#077707"/><ellipse cx="90" cy="81" rx="3.3" ry="3.3" fill="#056a05"/></g><g filter="url(#b2)"><circle cx="65.8" cy="36.2" r="1.1" fill="#088208"/><circle cx="65.3" cy="35.9" r="0.8" fill="#088208"/><circle cx="63.2" cy="29.8" r="1" fill="#088208"/><circle cx="62.9" cy="34.3" r="0.8" fill="#088208"/><circle cx="20.8" cy="10.9" r="1" fill="#0b9c0b"/><circle cx="18" cy="13" r="1" fill="#0b9c0b"/><circle cx="64.1" cy="12.7" r="1.1" fill="#0ca20c"/><circle cx="63" cy="12.2" r="0.8" fill="#0ca20c"/><circle cx="63.7" cy="15.1" r="0.9" fill="#0ca20c"/><circle cx="58.6" cy="14" r="1" fill="#0ca20c"/><circle cx="82" cy="22.9" r="1" fill="#0ca20c"/><circle cx="78.3" cy="19.3" r="0.9" fill="#0ca20c"/><circle cx="33.1" cy="28.3" r="0.9" fill="#0eaf0e"/><circle cx="32.8" cy="29.3" r="1" fill="#0eaf0e"/><circle cx="35.9" cy="27.4" r="0.7" fill="#0eaf0e"/><circle cx="31.3" cy="24.5" r="0.8" fill="#0eaf0e"/><circle cx="65.7" cy="42.4" r="1" fill="#0eaf0e"/><circle cx="62.3" cy="41" r="1" fill="#0eaf0e"/><circle cx="58.3" cy="50.1" r="0.9" fill="#10b710"/><circle cx="56" cy="53.6" r="0.9" fill="#10b710"/><circle cx="85" cy="45.3" r="0.7" fill="#0daa0d"/><circle cx="86.4" cy="44.6" r="0.9" fill="#0daa0d"/><circle cx="83.6" cy="49.3" r="1" fill="#0daa0d"/><circle cx="84" cy="46.4" r="1" fill="#0daa0d"/><circle cx="26.8" cy="52" r="0.8" fill="#0eaf0e"/><circle cx="26.3" cy="51" r="0.8" fill="#0eaf0e"/><circle cx="33.1" cy="63.2" r="1" fill="#0daa0d"/><circle cx="38.3" cy="63" r="1.1" fill="#0daa0d"/><circle cx="12.7" cy="81.8" r="0.8" fill="#0ca20c"/><circle cx="17.9" cy="80.9" r="1" fill="#0ca20c"/><circle cx="17.7" cy="81.3" r="0.9" fill="#0ca20c"/><circle cx="11" cy="78.6" r="1" fill="#0ca20c"/><circle cx="6.5" cy="88.8" r="1" fill="#0b9c0b"/><circle cx="8.2" cy="94.6" r="1" fill="#0b9c0b"/><circle cx="91.5" cy="80.2" r="0.7" fill="#098f09"/><circle cx="89.1" cy="80.4" r="1" fill="#098f09"/><circle cx="87.9" cy="79.6" r="1.1" fill="#098f09"/><circle cx="91.7" cy="78.7" r="1" fill="#098f09"/></g></svg>
<svg x="645.1" y="121" width="98.7" height="98.2" viewBox="0 0 100 100" preserveAspectRatio="none"><rect width="100" height="100" fill="#001c00"/><g filter="url(#b3)"><ellipse cx="16" cy="76" rx="16" ry="20" fill="#003400"/></g><g filter="url(#b)"><ellipse cx="44" cy="48" rx="15.5" ry="7.1" fill="#002e00" transform="rotate(-25 44 48)"/><ellipse cx="21" cy="84" rx="12.7" ry="14.1" fill="#003400"/><ellipse cx="27" cy="58" rx="16.9" ry="12.7" fill="#013601" transform="rotate(-40 27 58)"/><ellipse cx="61" cy="40" rx="16.9" ry="12.7" fill="#013a01" transform="rotate(-15 61 40)"/><ellipse cx="56" cy="85" rx="15.5" ry="9.9" fill="#013a01"/><ellipse cx="8" cy="52" rx="10" ry="20" fill="#024c02"/><ellipse cx="61" cy="40" rx="11" ry="8" fill="#077a07" transform="rotate(-15 61 40)"/><ellipse cx="27" cy="58" rx="11" ry="8" fill="#056d05" transform="rotate(-40 27 58)"/><ellipse cx="44" cy="48" rx="10" ry="4" fill="#035303" transform="rotate(-25 44 48)"/><ellipse cx="21" cy="84" rx="8" ry="9" fill="#046504"/><ellipse cx="56" cy="85" rx="10" ry="6" fill="#077a07"/><ellipse cx="61" cy="40" rx="6.1" ry="4.4" fill="#088408" transform="rotate(-15 61 40)"/><ellipse cx="27" cy="58" rx="6.1" ry="4.4" fill="#077707" transform="rotate(-40 27 58)"/><ellipse cx="44" cy="48" rx="5.5" ry="2.2" fill="#045d04" transform="rotate(-25 44 48)"/><ellipse cx="21" cy="84" rx="4.4" ry="5" fill="#066f06"/><ellipse cx="56" cy="85" rx="5.5" ry="3.3" fill="#088408"/></g><g filter="url(#b2)"><circle cx="65.5" cy="38.6" r="0.9" fill="#0daa0d"/><circle cx="61.2" cy="39.8" r="1.1" fill="#0daa0d"/><circle cx="57.9" cy="37.6" r="1" fill="#0daa0d"/><circle cx="60.8" cy="39.6" r="1" fill="#0daa0d"/><circle cx="29.6" cy="58.1" r="0.8" fill="#0b9c0b"/><circle cx="25.2" cy="56.1" r="0.8" fill="#0b9c0b"/><circle cx="25" cy="55.7" r="0.8" fill="#0b9c0b"/><circle cx="40.4" cy="48" r="0.7" fill="#088208"/><circle cx="42.9" cy="49.4" r="1" fill="#088208"/><circle cx="20.6" cy="84.4" r="0.9" fill="#0a940a"/><circle cx="21" cy="83.4" r="0.8" fill="#0a940a"/><circle cx="18.4" cy="81.6" r="0.8" fill="#0a940a"/><circle cx="56.6" cy="85.3" r="1.1" fill="#0daa0d"/><circle cx="54.3" cy="87.4" r="0.9" fill="#0daa0d"/><circle cx="59.9" cy="86.7" r="1" fill="#0daa0d"/></g></svg>
<svg x="746.5" y="121" width="98.7" height="98.2" viewBox="0 0 100 100" preserveAspectRatio="none"><rect width="100" height="100" fill="#002200"/><g filter="url(#b)"><ellipse cx="97" cy="44" rx="7.1" ry="21.1" fill="#014101"/><ellipse cx="92" cy="90" rx="12.7" ry="12.7" fill="#014101"/><ellipse cx="42" cy="6" rx="40" ry="6" fill="#077c07"/><ellipse cx="32" cy="53" rx="36" ry="48" fill="#088408"/><ellipse cx="16" cy="24" rx="8" ry="12" fill="#0b970b" transform="rotate(-15 16 24)"/><ellipse cx="52" cy="25" rx="11" ry="8" fill="#0eac0e"/><ellipse cx="8" cy="32" rx="6" ry="7" fill="#0a910a"/><ellipse cx="40" cy="42" rx="9" ry="7" fill="#0b970b"/><ellipse cx="58" cy="40" rx="9" ry="7" fill="#0b970b" transform="rotate(-20 58 40)"/><ellipse cx="26" cy="55" rx="9" ry="9" fill="#0da40d"/><ellipse cx="6" cy="52" rx="6" ry="10" fill="#0b970b"/><ellipse cx="35" cy="76" rx="8" ry="10" fill="#0eac0e" transform="rotate(30 35 76)"/><ellipse cx="63" cy="79" rx="9" ry="9" fill="#0da40d"/><ellipse cx="48" cy="92" rx="12" ry="6" fill="#0da40d"/><ellipse cx="16" cy="84" rx="7" ry="7" fill="#098909"/><ellipse cx="97" cy="44" rx="4" ry="14" fill="#077c07"/><ellipse cx="92" cy="90" rx="8" ry="8" fill="#077c07"/><ellipse cx="79" cy="48" rx="14" ry="30" fill="#002200"/><ellipse cx="50" cy="60" rx="16" ry="4" fill="#013b01" transform="rotate(-10 50 60)"/><ellipse cx="16" cy="24" rx="4.4" ry="6.6" fill="#0ca20c" transform="rotate(-15 16 24)"/><ellipse cx="52" cy="25" rx="6.1" ry="4.4" fill="#10b710"/><ellipse cx="8" cy="32" rx="3.3" ry="3.9" fill="#0b9c0b"/><ellipse cx="40" cy="42" rx="5" ry="3.9" fill="#0ca20c"/><ellipse cx="58" cy="40" rx="5" ry="3.9" fill="#0ca20c" transform="rotate(-20 58 40)"/><ellipse cx="26" cy="55" rx="5" ry="5" fill="#0faf0f"/><ellipse cx="6" cy="52" rx="3.3" ry="5.5" fill="#0ca20c"/><ellipse cx="35" cy="76" rx="4.4" ry="5.5" fill="#10b710" transform="rotate(30 35 76)"/><ellipse cx="63" cy="79" rx="5" ry="5" fill="#0faf0f"/><ellipse cx="48" cy="92" rx="6.6" ry="3.3" fill="#0faf0f"/><ellipse cx="16" cy="84" rx="3.9" ry="3.9" fill="#0a940a"/><ellipse cx="97" cy="44" rx="2.2" ry="7.7" fill="#088708"/><ellipse cx="92" cy="90" rx="4.4" ry="4.4" fill="#088708"/></g><g filter="url(#b2)"><circle cx="17.6" cy="26.6" r="1" fill="#14c714"/><circle cx="16.2" cy="26.9" r="1.1" fill="#14c714"/><circle cx="56.9" cy="26.8" r="0.8" fill="#1cdc1c"/><circle cx="52.9" cy="26.5" r="1.1" fill="#1cdc1c"/><circle cx="49.8" cy="23.7" r="0.8" fill="#1cdc1c"/><circle cx="6.3" cy="29.8" r="0.9" fill="#12c212"/><circle cx="6.6" cy="29.6" r="1.1" fill="#12c212"/><circle cx="5.6" cy="30" r="0.9" fill="#12c212"/><circle cx="5.8" cy="30.6" r="0.9" fill="#12c212"/><circle cx="36.5" cy="40.8" r="1.1" fill="#14c714"/><circle cx="42.5" cy="44.7" r="0.7" fill="#14c714"/><circle cx="60.6" cy="41.7" r="1" fill="#14c714"/><circle cx="55.9" cy="39" r="0.9" fill="#14c714"/><circle cx="59.4" cy="41.4" r="1.1" fill="#14c714"/><circle cx="29.9" cy="56.4" r="1" fill="#19d419"/><circle cx="28.4" cy="55" r="1" fill="#19d419"/><circle cx="29" cy="55.1" r="0.8" fill="#19d419"/><circle cx="25" cy="55.9" r="0.9" fill="#19d419"/><circle cx="8.1" cy="54.8" r="0.7" fill="#14c714"/><circle cx="6" cy="50.6" r="0.8" fill="#14c714"/><circle cx="4.5" cy="56" r="1" fill="#14c714"/><circle cx="34.2" cy="74.3" r="1" fill="#1cdc1c"/><circle cx="38.4" cy="76.6" r="1" fill="#1cdc1c"/><circle cx="35.4" cy="76.3" r="0.8" fill="#1cdc1c"/><circle cx="38.5" cy="77" r="0.9" fill="#1cdc1c"/><circle cx="62.3" cy="78.6" r="1" fill="#19d419"/><circle cx="66.9" cy="80.4" r="0.9" fill="#19d419"/><circle cx="45.7" cy="90.1" r="1" fill="#19d419"/><circle cx="53.3" cy="94.1" r="0.8" fill="#19d419"/><circle cx="18.8" cy="81.8" r="0.7" fill="#10ba10"/><circle cx="18.5" cy="86.7" r="0.9" fill="#10ba10"/><circle cx="16.2" cy="83" r="0.9" fill="#10ba10"/><circle cx="96.4" cy="39.4" r="0.8" fill="#0eac0e"/><circle cx="96.8" cy="44.8" r="0.9" fill="#0eac0e"/><circle cx="95.9" cy="49.1" r="0.7" fill="#0eac0e"/><circle cx="92.8" cy="87.5" r="1.1" fill="#0eac0e"/><circle cx="95" cy="89.5" r="1.1" fill="#0eac0e"/><circle cx="94" cy="87.7" r="1" fill="#0eac0e"/></g></svg>
<svg x="848" y="121" width="98.7" height="98.2" viewBox="0 0 100 100" preserveAspectRatio="none"><rect width="100" height="100" fill="#001f00"/><g filter="url(#b)"><ellipse cx="65" cy="18" rx="15.5" ry="21.1" fill="#013c01"/><ellipse cx="50" cy="85" rx="55" ry="16" fill="#067206"/><ellipse cx="48" cy="53" rx="32" ry="28" fill="#077707"/><ellipse cx="65" cy="18" rx="10" ry="14" fill="#077707"/><ellipse cx="31" cy="26" rx="10" ry="9" fill="#087f08"/><ellipse cx="24" cy="47" rx="10" ry="16" fill="#087f08"/><ellipse cx="13" cy="74" rx="14" ry="14" fill="#077a07"/><ellipse cx="76" cy="47" rx="8" ry="10" fill="#077a07"/><ellipse cx="87" cy="71" rx="12" ry="12" fill="#046504"/><ellipse cx="37" cy="69" rx="8" ry="12" fill="#003000"/><ellipse cx="71" cy="66" rx="7" ry="7" fill="#002200"/><ellipse cx="6" cy="40" rx="7" ry="20" fill="#001f00"/><ellipse cx="92" cy="42" rx="8" ry="14" fill="#001f00"/><ellipse cx="40" cy="39" rx="5" ry="4" fill="#0a940a"/><ellipse cx="65" cy="18" rx="5.5" ry="7.7" fill="#088208"/><ellipse cx="31" cy="26" rx="5.5" ry="5" fill="#098909"/><ellipse cx="24" cy="47" rx="5.5" ry="8.8" fill="#098909"/><ellipse cx="13" cy="74" rx="7.7" ry="7.7" fill="#088408"/><ellipse cx="76" cy="47" rx="4.4" ry="5.5" fill="#088408"/><ellipse cx="87" cy="71" rx="6.6" ry="6.6" fill="#066f06"/><ellipse cx="40" cy="39" rx="2.8" ry="2.2" fill="#0c9f0c"/></g><g filter="url(#b2)"><circle cx="66.9" cy="12.8" r="1" fill="#0da70d"/><circle cx="67.1" cy="16.5" r="1.1" fill="#0da70d"/><circle cx="28.4" cy="23.6" r="1" fill="#0eaf0e"/><circle cx="28.2" cy="23.5" r="1.1" fill="#0eaf0e"/><circle cx="34.8" cy="22.8" r="0.8" fill="#0eaf0e"/><circle cx="21.4" cy="52.5" r="0.9" fill="#0eaf0e"/><circle cx="27.7" cy="50.5" r="0.9" fill="#0eaf0e"/><circle cx="28.4" cy="40.3" r="1" fill="#0eaf0e"/><circle cx="19.2" cy="79.6" r="0.8" fill="#0daa0d"/><circle cx="16.3" cy="73.9" r="1.1" fill="#0daa0d"/><circle cx="18.9" cy="73.8" r="1.1" fill="#0daa0d"/><circle cx="73.2" cy="46.2" r="1.1" fill="#0daa0d"/><circle cx="74.1" cy="46.4" r="1" fill="#0daa0d"/><circle cx="74.9" cy="49.6" r="0.8" fill="#0daa0d"/><circle cx="76.7" cy="47.5" r="0.7" fill="#0daa0d"/><circle cx="90.1" cy="74.8" r="0.8" fill="#0a940a"/><circle cx="87.3" cy="67.2" r="1" fill="#0a940a"/><circle cx="88.2" cy="75.2" r="0.8" fill="#0a940a"/><circle cx="84.3" cy="66.4" r="1.1" fill="#0a940a"/><circle cx="39.2" cy="38.6" r="0.7" fill="#13c513"/><circle cx="40.9" cy="38.3" r="0.8" fill="#13c513"/><circle cx="40.2" cy="37.5" r="0.9" fill="#13c513"/><circle cx="38" cy="38.9" r="0.8" fill="#13c513"/></g></svg>
<svg x="949.4" y="121" width="98.7" height="98.2" viewBox="0 0 100 100" preserveAspectRatio="none"><rect width="100" height="100" fill="#002200"/><g filter="url(#b3)"><ellipse cx="55" cy="60" rx="45" ry="40" fill="#003400"/><ellipse cx="88" cy="48" rx="10" ry="30" fill="#003400"/></g><g filter="url(#b)"><ellipse cx="7" cy="81" rx="14.4" ry="20.8" fill="#013a01"/><ellipse cx="59" cy="95" rx="14.4" ry="9.5" fill="#013a01"/><ellipse cx="18" cy="65" rx="22.4" ry="16" fill="#013f01"/><ellipse cx="52" cy="65" rx="24" ry="14.4" fill="#013f01" transform="rotate(25 52 65)"/><ellipse cx="76" cy="60" rx="14.4" ry="24" fill="#013f01" transform="rotate(-10 76 60)"/><ellipse cx="38" cy="87" rx="22.4" ry="14.4" fill="#013f01"/><ellipse cx="54" cy="31" rx="19.2" ry="12.8" fill="#014401" transform="rotate(-10 54 31)"/><ellipse cx="59" cy="6" rx="18.4" ry="6.9" fill="#056a05"/><ellipse cx="17" cy="38" rx="20.7" ry="8" fill="#066f06" transform="rotate(-15 17 38)"/><ellipse cx="54" cy="31" rx="12.6" ry="8" fill="#088408" transform="rotate(-10 54 31)"/><ellipse cx="18" cy="65" rx="14.9" ry="10.3" fill="#077707"/><ellipse cx="52" cy="65" rx="16.1" ry="9.2" fill="#077707" transform="rotate(25 52 65)"/><ellipse cx="76" cy="60" rx="9.2" ry="16.1" fill="#077707" transform="rotate(-10 76 60)"/><ellipse cx="38" cy="87" rx="14.9" ry="9.2" fill="#077707"/><ellipse cx="7" cy="81" rx="9.2" ry="13.8" fill="#056a05"/><ellipse cx="59" cy="95" rx="9.2" ry="5.8" fill="#056a05"/><ellipse cx="54" cy="31" rx="7" ry="4.4" fill="#098f09" transform="rotate(-10 54 31)"/><ellipse cx="18" cy="65" rx="8.2" ry="5.7" fill="#088208"/><ellipse cx="52" cy="65" rx="8.9" ry="5.1" fill="#088208" transform="rotate(25 52 65)"/><ellipse cx="76" cy="60" rx="5.1" ry="8.9" fill="#088208" transform="rotate(-10 76 60)"/><ellipse cx="38" cy="87" rx="8.2" ry="5.1" fill="#088208"/><ellipse cx="7" cy="81" rx="5.1" ry="7.6" fill="#067506"/><ellipse cx="59" cy="95" rx="5.1" ry="3.2" fill="#067506"/></g><g filter="url(#b2)"><circle cx="50.9" cy="31.2" r="0.7" fill="#10b410"/><circle cx="50.9" cy="31.5" r="0.8" fill="#10b410"/><circle cx="58.1" cy="27.2" r="0.8" fill="#10b410"/><circle cx="15" cy="68.2" r="0.8" fill="#0da70d"/><circle cx="23.2" cy="68.6" r="0.9" fill="#0da70d"/><circle cx="18.2" cy="61" r="0.8" fill="#0da70d"/><circle cx="21.7" cy="67.1" r="0.9" fill="#0da70d"/><circle cx="54.4" cy="63.2" r="0.9" fill="#0da70d"/><circle cx="52.9" cy="68.7" r="0.8" fill="#0da70d"/><circle cx="72" cy="53.9" r="1.1" fill="#0da70d"/><circle cx="74.9" cy="58.6" r="0.9" fill="#0da70d"/><circle cx="81" cy="65.2" r="1" fill="#0da70d"/><circle cx="38.4" cy="88.2" r="1" fill="#0da70d"/><circle cx="40.2" cy="83.3" r="0.9" fill="#0da70d"/><circle cx="39.2" cy="88.4" r="1.1" fill="#0da70d"/><circle cx="6.3" cy="80.7" r="1" fill="#0b9a0b"/><circle cx="9.1" cy="79.3" r="0.9" fill="#0b9a0b"/><circle cx="57" cy="92.5" r="0.9" fill="#0b9a0b"/><circle cx="59.1" cy="94" r="1.1" fill="#0b9a0b"/><circle cx="59.3" cy="95.4" r="1" fill="#0b9a0b"/><circle cx="55.8" cy="93" r="0.9" fill="#0b9a0b"/></g></svg>
<svg x="1050.9" y="121" width="98.7" height="98.2" viewBox="0 0 100 100" preserveAspectRatio="none"><rect width="100" height="100" fill="#024c02"/><g filter="url(#b)"><ellipse cx="31" cy="47" rx="18.3" ry="14.1" fill="#035a03"/><ellipse cx="68" cy="63" rx="19.7" ry="11.3" fill="#035a03"/><ellipse cx="52" cy="79" rx="14.1" ry="12.7" fill="#035a03" transform="rotate(20 52 79)"/><ellipse cx="13" cy="68" rx="10" ry="8" fill="#045d04"/><ellipse cx="24" cy="85" rx="14" ry="10" fill="#045d04"/><ellipse cx="77" cy="16" rx="16" ry="8" fill="#045d04"/><ellipse cx="92" cy="69" rx="7" ry="6" fill="#045d04"/><ellipse cx="5" cy="40" rx="6" ry="10" fill="#045d04"/><ellipse cx="19" cy="23" rx="12" ry="9" fill="#046204"/><ellipse cx="39" cy="31" rx="10" ry="6" fill="#056805"/><ellipse cx="74" cy="40" rx="12" ry="8" fill="#056a05"/><ellipse cx="44" cy="18" rx="18" ry="7" fill="#002700" transform="rotate(15 44 18)"/><ellipse cx="5" cy="6" rx="10" ry="6" fill="#002a00"/><ellipse cx="90" cy="95" rx="10" ry="4" fill="#002700"/><ellipse cx="84" cy="48" rx="6" ry="4" fill="#003400"/><ellipse cx="31" cy="47" rx="12" ry="9" fill="#066f06"/><ellipse cx="68" cy="63" rx="13" ry="7" fill="#066f06"/><ellipse cx="52" cy="79" rx="9" ry="8" fill="#066f06" transform="rotate(20 52 79)"/><ellipse cx="31" cy="47" rx="6.6" ry="5" fill="#077a07"/><ellipse cx="68" cy="63" rx="7.2" ry="3.9" fill="#077a07"/><ellipse cx="52" cy="79" rx="5" ry="4.4" fill="#077a07" transform="rotate(20 52 79)"/></g><g filter="url(#b2)"><circle cx="34.2" cy="47.8" r="0.9" fill="#0c9f0c"/><circle cx="33.3" cy="48.1" r="1" fill="#0c9f0c"/><circle cx="31.5" cy="47" r="1" fill="#0c9f0c"/><circle cx="71.7" cy="65.6" r="0.8" fill="#0c9f0c"/><circle cx="69.5" cy="63.2" r="0.9" fill="#0c9f0c"/><circle cx="54.9" cy="78" r="0.8" fill="#0c9f0c"/><circle cx="51.9" cy="76" r="0.9" fill="#0c9f0c"/><circle cx="51.5" cy="81.7" r="0.8" fill="#0c9f0c"/><circle cx="54.6" cy="81.3" r="0.8" fill="#0c9f0c"/></g></svg>
<svg x="1152.4" y="121" width="98.7" height="98.2" viewBox="0 0 100 100" preserveAspectRatio="none"><rect width="100" height="100" fill="#002200"/><g filter="url(#b)"><ellipse cx="88" cy="32" rx="15.5" ry="12.7" fill="#013501"/><ellipse cx="14" cy="24" rx="18.3" ry="12.7" fill="#013501"/><ellipse cx="9" cy="39" rx="12.7" ry="11.3" fill="#013701"/><ellipse cx="91" cy="65" rx="7" ry="30" fill="#035303" transform="rotate(-10 91 65)"/><ellipse cx="35" cy="40" rx="14" ry="40" fill="#035b03" transform="rotate(30 35 40)"/><ellipse cx="67" cy="19" rx="26" ry="14" fill="#035b03" transform="rotate(-20 67 19)"/><ellipse cx="26" cy="76" rx="24" ry="18" fill="#046004"/><ellipse cx="88" cy="32" rx="10" ry="8" fill="#035b03"/><ellipse cx="14" cy="24" rx="12" ry="8" fill="#035b03"/><ellipse cx="9" cy="39" rx="8" ry="7" fill="#046004"/><ellipse cx="36" cy="65" rx="11" ry="8" fill="#066f06"/><ellipse cx="51" cy="71" rx="10" ry="10" fill="#046504"/><ellipse cx="35" cy="94" rx="12" ry="5" fill="#035b03"/><ellipse cx="46" cy="47" rx="11" ry="15" fill="#001d00" transform="rotate(10 46 47)"/><ellipse cx="5" cy="53" rx="5" ry="8" fill="#002200"/><ellipse cx="72" cy="77" rx="12" ry="22" fill="#001f00"/><ellipse cx="14" cy="8" rx="14" ry="6" fill="#002200"/><ellipse cx="88" cy="32" rx="5.5" ry="4.4" fill="#046504"/><ellipse cx="14" cy="24" rx="6.6" ry="4.4" fill="#046504"/><ellipse cx="9" cy="39" rx="4.4" ry="3.9" fill="#056a05"/><ellipse cx="36" cy="65" rx="6.1" ry="4.4" fill="#077a07"/><ellipse cx="51" cy="71" rx="5.5" ry="5.5" fill="#066f06"/><ellipse cx="35" cy="94" rx="6.6" ry="2.8" fill="#046504"/></g><g filter="url(#b2)"><circle cx="91.8" cy="30.7" r="0.8" fill="#098909"/><circle cx="87.3" cy="34.2" r="1" fill="#098909"/><circle cx="13.2" cy="22.1" r="1" fill="#098909"/><circle cx="13.1" cy="23.2" r="0.8" fill="#098909"/><circle cx="11" cy="25.6" r="1.1" fill="#098909"/><circle cx="12.4" cy="26.2" r="0.8" fill="#098909"/><circle cx="7.1" cy="39.4" r="0.9" fill="#098f09"/><circle cx="11.7" cy="40.6" r="0.7" fill="#098f09"/><circle cx="6.1" cy="38.7" r="0.8" fill="#098f09"/><circle cx="7.1" cy="41.8" r="1.1" fill="#098f09"/><circle cx="38" cy="64.4" r="0.9" fill="#0c9f0c"/><circle cx="37.7" cy="68.2" r="0.8" fill="#0c9f0c"/><circle cx="50.8" cy="70.9" r="1" fill="#0a940a"/><circle cx="47.5" cy="72.6" r="1" fill="#0a940a"/><circle cx="47.9" cy="73.4" r="0.8" fill="#0a940a"/><circle cx="37.9" cy="93.8" r="0.9" fill="#098909"/><circle cx="40.1" cy="93.4" r="0.8" fill="#098909"/><circle cx="37" cy="95.8" r="0.8" fill="#098909"/><circle cx="37.9" cy="93.5" r="1" fill="#098909"/></g></svg>
<svg x="36.3" y="222" width="98.7" height="98.2" viewBox="0 0 100 100" preserveAspectRatio="none"><rect width="100" height="100" fill="#001d00"/><g filter="url(#b3)"><ellipse cx="60" cy="10" rx="40" ry="12" fill="#013701"/></g><g filter="url(#b)"><ellipse cx="63" cy="61" rx="32" ry="38" fill="#035303"/><ellipse cx="53" cy="27" rx="16" ry="14" fill="#035803"/><ellipse cx="76" cy="26" rx="8" ry="12" fill="#035303"/><ellipse cx="45" cy="47" rx="10" ry="8" fill="#046504"/><ellipse cx="71" cy="58" rx="12" ry="7" fill="#046004"/><ellipse cx="47" cy="73" rx="12" ry="10" fill="#045d04"/><ellipse cx="82" cy="73" rx="8" ry="10" fill="#045d04"/><ellipse cx="35" cy="61" rx="8" ry="10" fill="#035303"/><ellipse cx="61" cy="92" rx="14" ry="7" fill="#035803"/><ellipse cx="65" cy="44" rx="5" ry="10" fill="#002700"/><ellipse cx="90" cy="39" rx="12" ry="14" fill="#001f00"/><ellipse cx="53" cy="27" rx="8.8" ry="7.7" fill="#046204"/><ellipse cx="76" cy="26" rx="4.4" ry="6.6" fill="#045d04"/><ellipse cx="45" cy="47" rx="5.5" ry="4.4" fill="#066f06"/><ellipse cx="71" cy="58" rx="6.6" ry="3.9" fill="#056a05"/><ellipse cx="47" cy="73" rx="6.6" ry="5.5" fill="#056805"/><ellipse cx="82" cy="73" rx="4.4" ry="5.5" fill="#056805"/><ellipse cx="35" cy="61" rx="4.4" ry="5.5" fill="#045d04"/><ellipse cx="61" cy="92" rx="7.7" ry="3.9" fill="#046204"/></g><g filter="url(#b2)"><circle cx="58.8" cy="30" r="0.7" fill="#088708"/><circle cx="54.7" cy="30.8" r="1.1" fill="#088708"/><circle cx="75.6" cy="22.4" r="0.7" fill="#088208"/><circle cx="74.4" cy="25.6" r="0.8" fill="#088208"/><circle cx="78.5" cy="23.8" r="1" fill="#088208"/><circle cx="74.9" cy="21.7" r="0.9" fill="#088208"/><circle cx="49" cy="45.5" r="1" fill="#0a940a"/><circle cx="47.1" cy="49.6" r="0.9" fill="#0a940a"/><circle cx="41.9" cy="44.8" r="0.9" fill="#0a940a"/><circle cx="49" cy="47.5" r="0.9" fill="#0a940a"/><circle cx="74.1" cy="59.8" r="0.8" fill="#098f09"/><circle cx="71.4" cy="56.3" r="1" fill="#098f09"/><circle cx="71.9" cy="59.2" r="1" fill="#098f09"/><circle cx="76.2" cy="57.8" r="1.1" fill="#098f09"/><circle cx="44.6" cy="70.4" r="0.8" fill="#098c09"/><circle cx="45" cy="70.8" r="1" fill="#098c09"/><circle cx="42.3" cy="77.2" r="0.8" fill="#098c09"/><circle cx="80.9" cy="73.1" r="0.7" fill="#098c09"/><circle cx="82.2" cy="71.3" r="1" fill="#098c09"/><circle cx="78.5" cy="72.5" r="0.7" fill="#098c09"/><circle cx="80.9" cy="77.3" r="1" fill="#098c09"/><circle cx="37.6" cy="59" r="0.8" fill="#088208"/><circle cx="35.2" cy="64.5" r="1" fill="#088208"/><circle cx="34.5" cy="60.8" r="0.9" fill="#088208"/><circle cx="37.9" cy="58.3" r="1.1" fill="#088208"/><circle cx="64.5" cy="92.9" r="1" fill="#088708"/><circle cx="66.9" cy="89" r="1" fill="#088708"/></g></svg>
<svg x="137.8" y="222" width="98.7" height="98.2" viewBox="0 0 100 100" preserveAspectRatio="none"><rect width="100" height="100" fill="#013f01"/><g filter="url(#b)"><ellipse cx="13" cy="29" rx="9.9" ry="11.3" fill="#024e02"/><ellipse cx="21" cy="90" rx="11.3" ry="12.7" fill="#024e02"/><ellipse cx="34" cy="32" rx="15.5" ry="12.7" fill="#025102" transform="rotate(20 34 32)"/><ellipse cx="32" cy="73" rx="15.5" ry="11.3" fill="#025102" transform="rotate(20 32 73)"/><ellipse cx="52" cy="92" rx="15.5" ry="9.9" fill="#025102"/><ellipse cx="92" cy="71" rx="8" ry="12" fill="#035303"/><ellipse cx="19" cy="8" rx="14" ry="7" fill="#035303"/><ellipse cx="52" cy="23" rx="16.9" ry="11.3" fill="#035303"/><ellipse cx="35" cy="55" rx="12.7" ry="12.7" fill="#035303"/><ellipse cx="76" cy="50" rx="14.1" ry="15.5" fill="#035303"/><ellipse cx="60" cy="74" rx="9.9" ry="15.5" fill="#035303" transform="rotate(-20 60 74)"/><ellipse cx="94" cy="37" rx="6" ry="12" fill="#035803"/><ellipse cx="84" cy="13" rx="10" ry="6" fill="#035803"/><ellipse cx="8" cy="69" rx="8" ry="10" fill="#045d04"/><ellipse cx="52" cy="23" rx="11" ry="7" fill="#067206"/><ellipse cx="13" cy="29" rx="6" ry="7" fill="#046504"/><ellipse cx="34" cy="32" rx="10" ry="8" fill="#056d05" transform="rotate(20 34 32)"/><ellipse cx="35" cy="55" rx="8" ry="8" fill="#067206"/><ellipse cx="76" cy="50" rx="9" ry="10" fill="#067206"/><ellipse cx="32" cy="73" rx="10" ry="7" fill="#056d05" transform="rotate(20 32 73)"/><ellipse cx="60" cy="74" rx="6" ry="10" fill="#067206" transform="rotate(-20 60 74)"/><ellipse cx="52" cy="92" rx="10" ry="6" fill="#056d05"/><ellipse cx="21" cy="90" rx="7" ry="8" fill="#046504"/><ellipse cx="42" cy="68" rx="8" ry="4" fill="#003000" transform="rotate(30 42 68)"/><ellipse cx="74" cy="81" rx="8" ry="10" fill="#003400"/><ellipse cx="23" cy="21" rx="6" ry="4" fill="#003000"/><ellipse cx="74" cy="32" rx="12" ry="6" fill="#013701"/><ellipse cx="52" cy="23" rx="6.1" ry="3.9" fill="#077c07"/><ellipse cx="13" cy="29" rx="3.3" ry="3.9" fill="#066f06"/><ellipse cx="34" cy="32" rx="5.5" ry="4.4" fill="#077707" transform="rotate(20 34 32)"/><ellipse cx="35" cy="55" rx="4.4" ry="4.4" fill="#077c07"/><ellipse cx="76" cy="50" rx="5" ry="5.5" fill="#077c07"/><ellipse cx="32" cy="73" rx="5.5" ry="3.9" fill="#077707" transform="rotate(20 32 73)"/><ellipse cx="60" cy="74" rx="3.3" ry="5.5" fill="#077c07" transform="rotate(-20 60 74)"/><ellipse cx="52" cy="92" rx="5.5" ry="3.3" fill="#077707"/><ellipse cx="21" cy="90" rx="3.9" ry="4.4" fill="#066f06"/></g><g filter="url(#b2)"><circle cx="54.1" cy="22.5" r="1" fill="#0ca20c"/><circle cx="50.3" cy="24.3" r="1" fill="#0ca20c"/><circle cx="14.4" cy="28.7" r="1" fill="#0a940a"/><circle cx="13.6" cy="26.7" r="0.9" fill="#0a940a"/><circle cx="12.9" cy="29.2" r="0.8" fill="#0a940a"/><circle cx="14.1" cy="27" r="0.8" fill="#0a940a"/><circle cx="33.4" cy="35.2" r="1" fill="#0b9c0b"/><circle cx="33.3" cy="33.4" r="1.1" fill="#0b9c0b"/><circle cx="36.9" cy="56.6" r="0.9" fill="#0ca20c"/><circle cx="37.4" cy="58.5" r="0.9" fill="#0ca20c"/><circle cx="74.3" cy="46.4" r="0.9" fill="#0ca20c"/><circle cx="76.3" cy="53.5" r="1.1" fill="#0ca20c"/><circle cx="73.5" cy="49.2" r="1" fill="#0ca20c"/><circle cx="75.3" cy="54.2" r="0.7" fill="#0ca20c"/><circle cx="28.5" cy="73.1" r="0.8" fill="#0b9c0b"/><circle cx="27.5" cy="72.5" r="1" fill="#0b9c0b"/><circle cx="29.2" cy="70.4" r="1.1" fill="#0b9c0b"/><circle cx="61.3" cy="76.1" r="0.9" fill="#0ca20c"/><circle cx="60.7" cy="74.4" r="0.9" fill="#0ca20c"/><circle cx="57.1" cy="73.8" r="1" fill="#0ca20c"/><circle cx="49.1" cy="89.7" r="0.8" fill="#0b9c0b"/><circle cx="52.3" cy="91.3" r="0.9" fill="#0b9c0b"/><circle cx="47.8" cy="93.3" r="1" fill="#0b9c0b"/><circle cx="52.8" cy="92.1" r="0.8" fill="#0b9c0b"/><circle cx="23.5" cy="87.6" r="0.7" fill="#0a940a"/><circle cx="20.7" cy="86.6" r="0.8" fill="#0a940a"/><circle cx="17.9" cy="89" r="1" fill="#0a940a"/></g></svg>
<svg x="239.2" y="222" width="98.7" height="98.2" viewBox="0 0 100 100" preserveAspectRatio="none"><rect width="100" height="100" fill="#002200"/><g filter="url(#b)"><ellipse cx="61" cy="8" rx="23.9" ry="12.7" fill="#003000"/><ellipse cx="87" cy="8" rx="18.3" ry="12.7" fill="#003300"/><ellipse cx="89" cy="85" rx="14.1" ry="15.5" fill="#003300"/><ellipse cx="48" cy="56" rx="46" ry="40" fill="#035303"/><ellipse cx="24" cy="18" rx="22" ry="16" fill="#035803"/><ellipse cx="61" cy="8" rx="16" ry="8" fill="#024c02"/><ellipse cx="87" cy="8" rx="12" ry="8" fill="#035303"/><ellipse cx="85" cy="35" rx="8" ry="14" fill="#046004" transform="rotate(-15 85 35)"/><ellipse cx="16" cy="48" rx="9" ry="8" fill="#046504"/><ellipse cx="50" cy="42" rx="9" ry="7" fill="#046504"/><ellipse cx="69" cy="52" rx="10" ry="7" fill="#046504"/><ellipse cx="34" cy="60" rx="8" ry="9" fill="#046004"/><ellipse cx="81" cy="63" rx="9" ry="10" fill="#046504"/><ellipse cx="60" cy="69" rx="10" ry="9" fill="#046504"/><ellipse cx="37" cy="85" rx="9" ry="9" fill="#035803"/><ellipse cx="60" cy="90" rx="12" ry="8" fill="#035803"/><ellipse cx="89" cy="85" rx="9" ry="10" fill="#035303"/><ellipse cx="65" cy="29" rx="14" ry="14" fill="#001d00"/><ellipse cx="11" cy="81" rx="16" ry="20" fill="#001f00" transform="rotate(-30 11 81)"/><ellipse cx="3" cy="10" rx="4" ry="10" fill="#002200"/><ellipse cx="61" cy="8" rx="8.8" ry="4.4" fill="#035603"/><ellipse cx="87" cy="8" rx="6.6" ry="4.4" fill="#045d04"/><ellipse cx="85" cy="35" rx="4.4" ry="7.7" fill="#056a05" transform="rotate(-15 85 35)"/><ellipse cx="16" cy="48" rx="5" ry="4.4" fill="#066f06"/><ellipse cx="50" cy="42" rx="5" ry="3.9" fill="#066f06"/><ellipse cx="69" cy="52" rx="5.5" ry="3.9" fill="#066f06"/><ellipse cx="34" cy="60" rx="4.4" ry="5" fill="#056a05"/><ellipse cx="81" cy="63" rx="5" ry="5.5" fill="#066f06"/><ellipse cx="60" cy="69" rx="5.5" ry="5" fill="#066f06"/><ellipse cx="37" cy="85" rx="5" ry="5" fill="#046204"/><ellipse cx="60" cy="90" rx="6.6" ry="4.4" fill="#046204"/><ellipse cx="89" cy="85" rx="5" ry="5.5" fill="#045d04"/></g><g filter="url(#b2)"><circle cx="63.1" cy="7.3" r="0.8" fill="#077a07"/><circle cx="63.5" cy="11.4" r="0.9" fill="#077a07"/><circle cx="66.1" cy="4.7" r="0.9" fill="#077a07"/><circle cx="84.2" cy="8.9" r="1" fill="#088208"/><circle cx="88.5" cy="5.8" r="0.9" fill="#088208"/><circle cx="82.3" cy="35.3" r="1" fill="#098f09"/><circle cx="84.9" cy="29" r="0.8" fill="#098f09"/><circle cx="83.2" cy="35.1" r="1" fill="#098f09"/><circle cx="19.8" cy="51.1" r="0.8" fill="#0a940a"/><circle cx="17" cy="45.1" r="0.9" fill="#0a940a"/><circle cx="12" cy="45.9" r="0.8" fill="#0a940a"/><circle cx="47" cy="40.2" r="1" fill="#0a940a"/><circle cx="47.6" cy="45" r="0.8" fill="#0a940a"/><circle cx="51.2" cy="40.1" r="0.8" fill="#0a940a"/><circle cx="73.5" cy="50.4" r="0.8" fill="#0a940a"/><circle cx="65" cy="50.1" r="0.9" fill="#0a940a"/><circle cx="69.2" cy="52.5" r="0.8" fill="#0a940a"/><circle cx="32.1" cy="63.1" r="1.1" fill="#098f09"/><circle cx="31.2" cy="57.6" r="0.8" fill="#098f09"/><circle cx="84.7" cy="67.2" r="0.9" fill="#0a940a"/><circle cx="84.9" cy="59.4" r="1.1" fill="#0a940a"/><circle cx="57.8" cy="69.8" r="0.9" fill="#0a940a"/><circle cx="61.9" cy="73" r="1" fill="#0a940a"/><circle cx="37.5" cy="86.3" r="0.9" fill="#088708"/><circle cx="36.5" cy="88.1" r="0.8" fill="#088708"/><circle cx="61.6" cy="89.8" r="0.9" fill="#088708"/><circle cx="54.9" cy="87.1" r="0.9" fill="#088708"/><circle cx="56.3" cy="86.5" r="0.7" fill="#088708"/><circle cx="61.6" cy="93.3" r="0.9" fill="#088708"/><circle cx="87.9" cy="85.2" r="1" fill="#088208"/><circle cx="85.7" cy="84.2" r="1.1" fill="#088208"/></g></svg>
<svg x="340.7" y="222" width="98.7" height="98.2" viewBox="0 0 100 100" preserveAspectRatio="none"><rect width="100" height="100" fill="#002200"/><g filter="url(#b)"><ellipse cx="23" cy="32" rx="8" ry="20" fill="#002700" transform="rotate(-20 23 32)"/><ellipse cx="16" cy="66" rx="9" ry="8" fill="#002700"/><ellipse cx="52" cy="48" rx="5" ry="8" fill="#002700"/><ellipse cx="90" cy="10" rx="10" ry="8" fill="#002700"/><ellipse cx="61" cy="90" rx="15.5" ry="14.1" fill="#013701"/><ellipse cx="37" cy="94" rx="18.3" ry="9.9" fill="#013d01"/><ellipse cx="16" cy="84" rx="23.9" ry="12.7" fill="#014001"/><ellipse cx="69" cy="55" rx="18.3" ry="22.5" fill="#014201"/><ellipse cx="8" cy="32" rx="7" ry="30" fill="#067206" transform="rotate(-5 8 32)"/><ellipse cx="29" cy="55" rx="12" ry="24" fill="#067206" transform="rotate(-35 29 55)"/><ellipse cx="55" cy="11" rx="28" ry="10" fill="#077a07"/><ellipse cx="66" cy="31" rx="30" ry="10" fill="#077a07"/><ellipse cx="79" cy="32" rx="10" ry="7" fill="#088708"/><ellipse cx="69" cy="55" rx="12" ry="15" fill="#087f08"/><ellipse cx="90" cy="29" rx="8" ry="8" fill="#067206"/><ellipse cx="16" cy="84" rx="16" ry="8" fill="#077a07"/><ellipse cx="37" cy="94" rx="12" ry="6" fill="#067206"/><ellipse cx="61" cy="90" rx="10" ry="9" fill="#046004"/><ellipse cx="39" cy="65" rx="10" ry="13" fill="#0a940a" transform="rotate(-30 39 65)"/><ellipse cx="92" cy="65" rx="8" ry="24" fill="#001f00"/><ellipse cx="8" cy="95" rx="10" ry="4" fill="#002200"/><ellipse cx="79" cy="32" rx="5.5" ry="3.9" fill="#0a910a"/><ellipse cx="69" cy="55" rx="6.6" ry="8.2" fill="#098909"/><ellipse cx="90" cy="29" rx="4.4" ry="4.4" fill="#077c07"/><ellipse cx="16" cy="84" rx="8.8" ry="4.4" fill="#088408"/><ellipse cx="37" cy="94" rx="6.6" ry="3.3" fill="#077c07"/><ellipse cx="61" cy="90" rx="5.5" ry="5" fill="#056a05"/><ellipse cx="39" cy="65" rx="5.5" ry="7.2" fill="#0c9f0c" transform="rotate(-30 39 65)"/></g><g filter="url(#b2)"><circle cx="74.9" cy="32" r="1.1" fill="#10b710"/><circle cx="74.8" cy="35.1" r="1.1" fill="#10b710"/><circle cx="70.2" cy="58" r="1" fill="#0eaf0e"/><circle cx="67.3" cy="49.5" r="1.1" fill="#0eaf0e"/><circle cx="64.9" cy="55.8" r="1.1" fill="#0eaf0e"/><circle cx="90.5" cy="29.6" r="0.9" fill="#0ca20c"/><circle cx="89.9" cy="26.2" r="1.1" fill="#0ca20c"/><circle cx="89.7" cy="28.7" r="0.9" fill="#0ca20c"/><circle cx="9" cy="86.4" r="0.9" fill="#0daa0d"/><circle cx="17.4" cy="83.9" r="1" fill="#0daa0d"/><circle cx="38.4" cy="96.6" r="0.9" fill="#0ca20c"/><circle cx="38.9" cy="95.5" r="1" fill="#0ca20c"/><circle cx="65" cy="87.8" r="1" fill="#098f09"/><circle cx="56.9" cy="92.3" r="0.7" fill="#098f09"/><circle cx="34" cy="64.1" r="0.8" fill="#13c513"/><circle cx="38.9" cy="68.8" r="0.9" fill="#13c513"/></g></svg>
<svg x="442.1" y="222" width="98.7" height="98.2" viewBox="0 0 100 100" preserveAspectRatio="none"><rect width="100" height="100" fill="#013f01"/><g filter="url(#b)"><ellipse cx="24" cy="85" rx="12.7" ry="21.1" fill="#045d04" transform="rotate(20 24 85)"/><ellipse cx="87" cy="8" rx="9.9" ry="12.7" fill="#046004"/><ellipse cx="15" cy="18" rx="9.9" ry="23.9" fill="#046204" transform="rotate(30 15 18)"/><ellipse cx="81" cy="27" rx="16.9" ry="16.9" fill="#056605"/><ellipse cx="87" cy="68" rx="18.3" ry="11.3" fill="#056805" transform="rotate(-15 87 68)"/><ellipse cx="65" cy="90" rx="21.1" ry="12.7" fill="#056a05" transform="rotate(15 65 90)"/><ellipse cx="13" cy="65" rx="14.1" ry="15.5" fill="#056b05"/><ellipse cx="40" cy="48" rx="9.9" ry="21.1" fill="#056d05" transform="rotate(20 40 48)"/><ellipse cx="29" cy="37" rx="12.7" ry="19.7" fill="#067006" transform="rotate(25 29 37)"/><ellipse cx="56" cy="10" rx="25" ry="10" fill="#067206"/><ellipse cx="74" cy="52" rx="18" ry="12" fill="#10b410" transform="rotate(-20 74 52)"/><ellipse cx="15" cy="18" rx="6" ry="16" fill="#0b9a0b" transform="rotate(30 15 18)"/><ellipse cx="29" cy="37" rx="8" ry="13" fill="#11bd11" transform="rotate(25 29 37)"/><ellipse cx="40" cy="48" rx="6" ry="14" fill="#10b410" transform="rotate(20 40 48)"/><ellipse cx="13" cy="65" rx="9" ry="10" fill="#0eaf0e"/><ellipse cx="24" cy="85" rx="8" ry="14" fill="#098c09" transform="rotate(20 24 85)"/><ellipse cx="81" cy="27" rx="11" ry="11" fill="#0ca20c"/><ellipse cx="87" cy="8" rx="6" ry="8" fill="#0a940a"/><ellipse cx="87" cy="68" rx="12" ry="7" fill="#0da70d" transform="rotate(-15 87 68)"/><ellipse cx="65" cy="90" rx="14" ry="8" fill="#0eac0e" transform="rotate(15 65 90)"/><ellipse cx="16" cy="31" rx="10" ry="4" fill="#002a00" transform="rotate(-40 16 31)"/><ellipse cx="53" cy="77" rx="10" ry="10" fill="#003400"/><ellipse cx="53" cy="26" rx="8" ry="6" fill="#013b01"/><ellipse cx="21" cy="74" rx="3" ry="3" fill="#002a00"/><ellipse cx="94" cy="90" rx="6" ry="8" fill="#003400"/><ellipse cx="15" cy="18" rx="3.3" ry="8.8" fill="#0da40d" transform="rotate(30 15 18)"/><ellipse cx="29" cy="37" rx="4.4" ry="7.2" fill="#14c714" transform="rotate(25 29 37)"/><ellipse cx="40" cy="48" rx="3.3" ry="7.7" fill="#12bf12" transform="rotate(20 40 48)"/><ellipse cx="13" cy="65" rx="5" ry="5.5" fill="#10ba10"/><ellipse cx="24" cy="85" rx="4.4" ry="7.7" fill="#0b970b" transform="rotate(20 24 85)"/><ellipse cx="81" cy="27" rx="6.1" ry="6.1" fill="#0eac0e"/><ellipse cx="87" cy="8" rx="3.3" ry="4.4" fill="#0c9f0c"/><ellipse cx="87" cy="68" rx="6.6" ry="3.9" fill="#0fb20f" transform="rotate(-15 87 68)"/><ellipse cx="65" cy="90" rx="7.7" ry="4.4" fill="#10b710" transform="rotate(15 65 90)"/></g><g filter="url(#b2)"><circle cx="13.6" cy="24.3" r="0.8" fill="#15ca15"/><circle cx="12" cy="22.3" r="0.7" fill="#15ca15"/><circle cx="16.5" cy="16" r="0.9" fill="#15ca15"/><circle cx="25.3" cy="37.5" r="1.1" fill="#2fe92f"/><circle cx="29.8" cy="41.5" r="0.8" fill="#2fe92f"/><circle cx="28" cy="33.9" r="0.8" fill="#2fe92f"/><circle cx="42.4" cy="48.2" r="0.8" fill="#26e326"/><circle cx="41.3" cy="51.8" r="0.8" fill="#26e326"/><circle cx="13.2" cy="67.1" r="0.7" fill="#1fde1f"/><circle cx="16.6" cy="65.6" r="0.9" fill="#1fde1f"/><circle cx="12.2" cy="68.6" r="0.9" fill="#1fde1f"/><circle cx="24.4" cy="82.8" r="1" fill="#11bd11"/><circle cx="24.7" cy="78.7" r="0.9" fill="#11bd11"/><circle cx="22.5" cy="89.2" r="1.1" fill="#11bd11"/><circle cx="81.1" cy="31.9" r="1.1" fill="#18d218"/><circle cx="80" cy="30.1" r="0.8" fill="#18d218"/><circle cx="80.1" cy="29.2" r="1.1" fill="#18d218"/><circle cx="85.3" cy="4.9" r="1.1" fill="#13c513"/><circle cx="87.2" cy="8.6" r="1" fill="#13c513"/><circle cx="89.4" cy="9.6" r="0.9" fill="#13c513"/><circle cx="88.4" cy="70" r="1" fill="#1ad71a"/><circle cx="87.4" cy="67" r="0.8" fill="#1ad71a"/><circle cx="87" cy="71.2" r="0.7" fill="#1ad71a"/><circle cx="65.6" cy="89.2" r="1" fill="#1cdc1c"/><circle cx="68.9" cy="88.6" r="0.9" fill="#1cdc1c"/><circle cx="68.8" cy="88.5" r="1" fill="#1cdc1c"/></g></svg>
<svg x="543.6" y="222" width="98.7" height="98.2" viewBox="0 0 100 100" preserveAspectRatio="none"><rect width="100" height="100" fill="#067206"/><g filter="url(#b)"><ellipse cx="84" cy="29" rx="16.9" ry="14.1" fill="#088108"/><ellipse cx="19" cy="45" rx="15.5" ry="15.5" fill="#088108"/><ellipse cx="68" cy="77" rx="14.1" ry="12.7" fill="#088108"/><ellipse cx="63" cy="13" rx="14" ry="8" fill="#088208"/><ellipse cx="94" cy="56" rx="5" ry="12" fill="#088208"/><ellipse cx="37" cy="50" rx="11.3" ry="9.9" fill="#088308"/><ellipse cx="50" cy="61" rx="12.7" ry="12.7" fill="#088308"/><ellipse cx="76" cy="61" rx="11.3" ry="11.3" fill="#088308"/><ellipse cx="11" cy="68" rx="14.1" ry="14.1" fill="#088308"/><ellipse cx="34" cy="71" rx="14.1" ry="14.1" fill="#088308"/><ellipse cx="34" cy="19" rx="14.1" ry="16.9" fill="#088408"/><ellipse cx="58" cy="42" rx="14.1" ry="15.5" fill="#088408"/><ellipse cx="42" cy="92" rx="20" ry="6" fill="#056d05"/><ellipse cx="6" cy="29" rx="6" ry="10" fill="#046504"/><ellipse cx="10" cy="13" rx="10" ry="10" fill="#024c02"/><ellipse cx="21" cy="10" rx="4" ry="6" fill="#003400"/><ellipse cx="95" cy="16" rx="4" ry="8" fill="#013f01"/><ellipse cx="85" cy="92" rx="6" ry="5" fill="#013b01"/><ellipse cx="82" cy="52" rx="4" ry="2" fill="#013f01"/><ellipse cx="34" cy="19" rx="9" ry="11" fill="#0c9f0c"/><ellipse cx="84" cy="29" rx="11" ry="9" fill="#0b970b"/><ellipse cx="58" cy="42" rx="9" ry="10" fill="#0c9f0c"/><ellipse cx="19" cy="45" rx="10" ry="10" fill="#0b970b"/><ellipse cx="37" cy="50" rx="7" ry="6" fill="#0b9c0b"/><ellipse cx="50" cy="61" rx="8" ry="8" fill="#0b9c0b"/><ellipse cx="76" cy="61" rx="7" ry="7" fill="#0b9c0b"/><ellipse cx="11" cy="68" rx="9" ry="9" fill="#0b9c0b"/><ellipse cx="34" cy="71" rx="9" ry="9" fill="#0b9c0b"/><ellipse cx="68" cy="77" rx="9" ry="8" fill="#0b970b"/><ellipse cx="34" cy="19" rx="5" ry="6.1" fill="#0eaa0e"/><ellipse cx="84" cy="29" rx="6.1" ry="5" fill="#0ca20c"/><ellipse cx="58" cy="42" rx="5" ry="5.5" fill="#0eaa0e"/><ellipse cx="19" cy="45" rx="5.5" ry="5.5" fill="#0ca20c"/><ellipse cx="37" cy="50" rx="3.9" ry="3.3" fill="#0da70d"/><ellipse cx="50" cy="61" rx="4.4" ry="4.4" fill="#0da70d"/><ellipse cx="76" cy="61" rx="3.9" ry="3.9" fill="#0da70d"/><ellipse cx="11" cy="68" rx="5" ry="5" fill="#0da70d"/><ellipse cx="34" cy="71" rx="5" ry="5" fill="#0da70d"/><ellipse cx="68" cy="77" rx="5" ry="4.4" fill="#0ca20c"/></g><g filter="url(#b2)"><circle cx="33.9" cy="15" r="1" fill="#17cf17"/><circle cx="33.7" cy="21" r="1.1" fill="#17cf17"/><circle cx="36.1" cy="15.8" r="0.8" fill="#17cf17"/><circle cx="80.3" cy="30" r="1.1" fill="#14c714"/><circle cx="84.8" cy="30.9" r="1" fill="#14c714"/><circle cx="58.1" cy="40.4" r="1" fill="#17cf17"/><circle cx="60.9" cy="38.3" r="0.7" fill="#17cf17"/><circle cx="22.1" cy="43.2" r="1" fill="#14c714"/><circle cx="19.3" cy="46.8" r="1.1" fill="#14c714"/><circle cx="19.3" cy="43.8" r="0.9" fill="#14c714"/><circle cx="35.8" cy="52.6" r="1" fill="#16cc16"/><circle cx="39" cy="51.9" r="0.7" fill="#16cc16"/><circle cx="34.5" cy="50.5" r="1" fill="#16cc16"/><circle cx="38.1" cy="49.3" r="0.9" fill="#16cc16"/><circle cx="49.5" cy="63.2" r="0.9" fill="#16cc16"/><circle cx="47.2" cy="59.8" r="0.8" fill="#16cc16"/><circle cx="51.9" cy="62.1" r="0.7" fill="#16cc16"/><circle cx="50" cy="63" r="1" fill="#16cc16"/><circle cx="76.2" cy="58.9" r="0.9" fill="#16cc16"/><circle cx="73.3" cy="58.4" r="0.9" fill="#16cc16"/><circle cx="75.8" cy="63.8" r="1" fill="#16cc16"/><circle cx="74.8" cy="59.7" r="0.9" fill="#16cc16"/><circle cx="8" cy="65.8" r="0.8" fill="#16cc16"/><circle cx="14.9" cy="70.7" r="1" fill="#16cc16"/><circle cx="7" cy="69.4" r="1" fill="#16cc16"/><circle cx="8.6" cy="66.1" r="0.9" fill="#16cc16"/><circle cx="30.2" cy="70.7" r="0.7" fill="#16cc16"/><circle cx="30.6" cy="74.1" r="1.1" fill="#16cc16"/><circle cx="31.4" cy="67.5" r="0.9" fill="#16cc16"/><circle cx="68.4" cy="76.1" r="1.1" fill="#14c714"/><circle cx="67.7" cy="76.8" r="0.8" fill="#14c714"/><circle cx="68.1" cy="77.7" r="0.7" fill="#14c714"/><circle cx="71.7" cy="77.1" r="0.8" fill="#14c714"/></g></svg>
<svg x="645.1" y="222" width="98.7" height="98.2" viewBox="0 0 100 100" preserveAspectRatio="none"><rect width="100" height="100" fill="#013b01"/><g filter="url(#b)"><ellipse cx="56" cy="6" rx="18.3" ry="8.5" fill="#024b02"/><ellipse cx="85" cy="6" rx="12.7" ry="9.9" fill="#024b02"/><ellipse cx="31" cy="65" rx="18.3" ry="14.1" fill="#024b02"/><ellipse cx="35" cy="10" rx="8.5" ry="14.1" fill="#024e02"/><ellipse cx="95" cy="27" rx="8.5" ry="12.7" fill="#024e02"/><ellipse cx="10" cy="66" rx="15.5" ry="12.7" fill="#024e02"/><ellipse cx="95" cy="73" rx="8.5" ry="15.5" fill="#024e02"/><ellipse cx="13" cy="81" rx="15.5" ry="12.7" fill="#024e02"/><ellipse cx="42" cy="85" rx="18.3" ry="15.5" fill="#024e02"/><ellipse cx="74" cy="90" rx="18.3" ry="12.7" fill="#024e02"/><ellipse cx="27" cy="94" rx="12.7" ry="9.9" fill="#024e02"/><ellipse cx="23" cy="13" rx="11.3" ry="16.9" fill="#025002"/><ellipse cx="79" cy="27" rx="12.7" ry="21.1" fill="#025002" transform="rotate(10 79 27)"/><ellipse cx="8" cy="34" rx="11.3" ry="15.5" fill="#035203"/><ellipse cx="60" cy="48" rx="16.9" ry="15.5" fill="#035203"/><ellipse cx="56" cy="61" rx="12.7" ry="15.5" fill="#035203"/><ellipse cx="53" cy="23" rx="16.9" ry="12.7" fill="#035303" transform="rotate(-15 53 23)"/><ellipse cx="76" cy="73" rx="15.5" ry="12.7" fill="#035303"/><ellipse cx="35" cy="44" rx="14.1" ry="9.9" fill="#035a03"/><ellipse cx="23" cy="13" rx="7" ry="11" fill="#067206"/><ellipse cx="35" cy="10" rx="5" ry="9" fill="#056d05"/><ellipse cx="53" cy="23" rx="11" ry="8" fill="#077a07" transform="rotate(-15 53 23)"/><ellipse cx="56" cy="6" rx="12" ry="5" fill="#046504"/><ellipse cx="79" cy="27" rx="8" ry="14" fill="#067206" transform="rotate(10 79 27)"/><ellipse cx="95" cy="27" rx="5" ry="8" fill="#056d05"/><ellipse cx="85" cy="6" rx="8" ry="6" fill="#046504"/><ellipse cx="8" cy="34" rx="7" ry="10" fill="#077707"/><ellipse cx="35" cy="44" rx="9" ry="6" fill="#098c09"/><ellipse cx="60" cy="48" rx="11" ry="10" fill="#077707"/><ellipse cx="56" cy="61" rx="8" ry="10" fill="#077707"/><ellipse cx="31" cy="65" rx="12" ry="9" fill="#046504"/><ellipse cx="10" cy="66" rx="10" ry="8" fill="#056d05"/><ellipse cx="76" cy="73" rx="10" ry="8" fill="#077a07"/><ellipse cx="95" cy="73" rx="5" ry="10" fill="#056d05"/><ellipse cx="13" cy="81" rx="10" ry="8" fill="#056d05"/><ellipse cx="42" cy="85" rx="12" ry="10" fill="#056d05"/><ellipse cx="74" cy="90" rx="12" ry="8" fill="#056d05"/><ellipse cx="27" cy="94" rx="8" ry="6" fill="#056d05"/><ellipse cx="93" cy="48" rx="5" ry="8" fill="#002a00"/><ellipse cx="32" cy="81" rx="3" ry="2" fill="#002200"/><ellipse cx="19" cy="40" rx="6" ry="5" fill="#002e00"/><ellipse cx="23" cy="13" rx="3.9" ry="6.1" fill="#077c07"/><ellipse cx="35" cy="10" rx="2.8" ry="5" fill="#077707"/><ellipse cx="53" cy="23" rx="6.1" ry="4.4" fill="#088408" transform="rotate(-15 53 23)"/><ellipse cx="56" cy="6" rx="6.6" ry="2.8" fill="#066f06"/><ellipse cx="79" cy="27" rx="4.4" ry="7.7" fill="#077c07" transform="rotate(10 79 27)"/><ellipse cx="95" cy="27" rx="2.8" ry="4.4" fill="#077707"/><ellipse cx="85" cy="6" rx="4.4" ry="3.3" fill="#066f06"/><ellipse cx="8" cy="34" rx="3.9" ry="5.5" fill="#088208"/><ellipse cx="35" cy="44" rx="5" ry="3.3" fill="#0b970b"/><ellipse cx="60" cy="48" rx="6.1" ry="5.5" fill="#088208"/><ellipse cx="56" cy="61" rx="4.4" ry="5.5" fill="#088208"/><ellipse cx="31" cy="65" rx="6.6" ry="5" fill="#066f06"/><ellipse cx="10" cy="66" rx="5.5" ry="4.4" fill="#077707"/><ellipse cx="76" cy="73" rx="5.5" ry="4.4" fill="#088408"/><ellipse cx="95" cy="73" rx="2.8" ry="5.5" fill="#077707"/><ellipse cx="13" cy="81" rx="5.5" ry="4.4" fill="#077707"/><ellipse cx="42" cy="85" rx="6.6" ry="5.5" fill="#077707"/><ellipse cx="74" cy="90" rx="6.6" ry="4.4" fill="#077707"/><ellipse cx="27" cy="94" rx="4.4" ry="3.3" fill="#077707"/></g><g filter="url(#b2)"><circle cx="20.3" cy="17.7" r="0.8" fill="#0ca20c"/><circle cx="20.7" cy="10.2" r="0.8" fill="#0ca20c"/><circle cx="33.9" cy="10.2" r="1" fill="#0b9c0b"/><circle cx="33.6" cy="12" r="0.8" fill="#0b9c0b"/><circle cx="35.8" cy="11.2" r="0.8" fill="#0b9c0b"/><circle cx="49.7" cy="25.1" r="1.1" fill="#0daa0d"/><circle cx="49.4" cy="26.2" r="0.8" fill="#0daa0d"/><circle cx="55.6" cy="26" r="1" fill="#0daa0d"/><circle cx="52.8" cy="5.8" r="0.7" fill="#0a940a"/><circle cx="55.7" cy="6.1" r="1" fill="#0a940a"/><circle cx="60" cy="6.3" r="1.1" fill="#0a940a"/><circle cx="51.1" cy="5.4" r="0.8" fill="#0a940a"/><circle cx="81.5" cy="26" r="0.8" fill="#0ca20c"/><circle cx="80.5" cy="33.6" r="0.7" fill="#0ca20c"/><circle cx="76.7" cy="21.6" r="0.8" fill="#0ca20c"/><circle cx="79.7" cy="29.6" r="0.8" fill="#0ca20c"/><circle cx="95.4" cy="27.7" r="0.8" fill="#0b9c0b"/><circle cx="94.4" cy="28.8" r="1" fill="#0b9c0b"/><circle cx="85.3" cy="5.7" r="1" fill="#0a940a"/><circle cx="83.8" cy="7.9" r="1" fill="#0a940a"/><circle cx="8.9" cy="36.6" r="0.8" fill="#0da70d"/><circle cx="7" cy="31.3" r="1.1" fill="#0da70d"/><circle cx="10.5" cy="36.3" r="1" fill="#0da70d"/><circle cx="36.1" cy="41.5" r="0.9" fill="#11bd11"/><circle cx="34.7" cy="42.8" r="1" fill="#11bd11"/><circle cx="32.9" cy="46.3" r="1" fill="#11bd11"/><circle cx="32.5" cy="43.2" r="0.8" fill="#11bd11"/><circle cx="57.3" cy="52.4" r="1.1" fill="#0da70d"/><circle cx="60.9" cy="45.7" r="0.7" fill="#0da70d"/><circle cx="64" cy="49.7" r="0.8" fill="#0da70d"/><circle cx="53.6" cy="59.4" r="0.9" fill="#0da70d"/><circle cx="53.9" cy="57.3" r="0.8" fill="#0da70d"/><circle cx="26.7" cy="62.3" r="1" fill="#0a940a"/><circle cx="27.9" cy="67.6" r="0.9" fill="#0a940a"/><circle cx="27.5" cy="61.3" r="1" fill="#0a940a"/><circle cx="8.9" cy="67.6" r="1.1" fill="#0b9c0b"/><circle cx="12" cy="66.9" r="1.1" fill="#0b9c0b"/><circle cx="8.7" cy="66.2" r="0.9" fill="#0b9c0b"/><circle cx="10.4" cy="62.5" r="0.9" fill="#0b9c0b"/><circle cx="79.8" cy="72.9" r="0.9" fill="#0daa0d"/><circle cx="80.1" cy="75.4" r="0.8" fill="#0daa0d"/><circle cx="80.2" cy="74.9" r="0.9" fill="#0daa0d"/><circle cx="73" cy="75.3" r="1" fill="#0daa0d"/><circle cx="96.1" cy="69" r="0.8" fill="#0b9c0b"/><circle cx="96" cy="74.2" r="0.9" fill="#0b9c0b"/><circle cx="93.2" cy="76.8" r="1.1" fill="#0b9c0b"/><circle cx="93.8" cy="71.5" r="0.9" fill="#0b9c0b"/><circle cx="14.1" cy="77.7" r="0.7" fill="#0b9c0b"/><circle cx="15.1" cy="84.3" r="1" fill="#0b9c0b"/><circle cx="15.1" cy="81.5" r="0.8" fill="#0b9c0b"/><circle cx="47.1" cy="86.2" r="0.7" fill="#0b9c0b"/><circle cx="46.3" cy="85.7" r="1" fill="#0b9c0b"/><circle cx="40" cy="80.7" r="1.1" fill="#0b9c0b"/><circle cx="38.7" cy="88.7" r="0.9" fill="#0b9c0b"/><circle cx="73.7" cy="92.7" r="1.1" fill="#0b9c0b"/><circle cx="73" cy="91.2" r="1" fill="#0b9c0b"/><circle cx="71" cy="91.7" r="1.1" fill="#0b9c0b"/><circle cx="77.4" cy="86.6" r="0.8" fill="#0b9c0b"/><circle cx="26.5" cy="92.7" r="0.9" fill="#0b9c0b"/><circle cx="25.5" cy="93.8" r="0.9" fill="#0b9c0b"/><circle cx="24.1" cy="95.2" r="0.9" fill="#0b9c0b"/></g></svg>
<svg x="746.5" y="222" width="98.7" height="98.2" viewBox="0 0 100 100" preserveAspectRatio="none"><rect width="100" height="100" fill="#002000"/><g filter="url(#b3)"><ellipse cx="50" cy="65" rx="50" ry="30" fill="#013b01"/></g><g filter="url(#b)"><ellipse cx="95" cy="48" rx="7.1" ry="15.5" fill="#002f00"/><ellipse cx="5" cy="19" rx="11.3" ry="23.9" fill="#003200"/><ellipse cx="90" cy="90" rx="12.7" ry="12.7" fill="#003200"/><ellipse cx="81" cy="26" rx="12.7" ry="21.1" fill="#013501" transform="rotate(20 81 26)"/><ellipse cx="73" cy="82" rx="18.3" ry="12.7" fill="#013601" transform="rotate(20 73 82)"/><ellipse cx="8" cy="52" rx="12.7" ry="11.3" fill="#013701"/><ellipse cx="74" cy="60" rx="21.1" ry="14.1" fill="#013701" transform="rotate(25 74 60)"/><ellipse cx="32" cy="65" rx="18.3" ry="11.3" fill="#013701" transform="rotate(15 32 65)"/><ellipse cx="27" cy="40" rx="11.3" ry="16.9" fill="#013a01" transform="rotate(-20 27 40)"/><ellipse cx="45" cy="48" rx="14.1" ry="18.3" fill="#013a01" transform="rotate(-20 45 48)"/><ellipse cx="23" cy="81" rx="15.5" ry="9.9" fill="#013a01"/><ellipse cx="53" cy="87" rx="14.1" ry="12.7" fill="#013a01"/><ellipse cx="82" cy="5" rx="10" ry="4" fill="#013f01"/><ellipse cx="5" cy="19" rx="7" ry="16" fill="#035303"/><ellipse cx="81" cy="26" rx="8" ry="14" fill="#045d04" transform="rotate(20 81 26)"/><ellipse cx="27" cy="40" rx="7" ry="11" fill="#056d05" transform="rotate(-20 27 40)"/><ellipse cx="45" cy="48" rx="9" ry="12" fill="#056d05" transform="rotate(-20 45 48)"/><ellipse cx="8" cy="52" rx="8" ry="7" fill="#046504"/><ellipse cx="74" cy="60" rx="14" ry="9" fill="#046504" transform="rotate(25 74 60)"/><ellipse cx="32" cy="65" rx="12" ry="7" fill="#046504" transform="rotate(15 32 65)"/><ellipse cx="23" cy="81" rx="10" ry="6" fill="#056d05"/><ellipse cx="53" cy="87" rx="9" ry="8" fill="#056d05"/><ellipse cx="73" cy="82" rx="12" ry="8" fill="#046004" transform="rotate(20 73 82)"/><ellipse cx="90" cy="90" rx="8" ry="8" fill="#035303"/><ellipse cx="95" cy="48" rx="4" ry="10" fill="#024c02"/><ellipse cx="5" cy="19" rx="3.9" ry="8.8" fill="#045d04"/><ellipse cx="81" cy="26" rx="4.4" ry="7.7" fill="#056805" transform="rotate(20 81 26)"/><ellipse cx="27" cy="40" rx="3.9" ry="6.1" fill="#077707" transform="rotate(-20 27 40)"/><ellipse cx="45" cy="48" rx="5" ry="6.6" fill="#077707" transform="rotate(-20 45 48)"/><ellipse cx="8" cy="52" rx="4.4" ry="3.9" fill="#066f06"/><ellipse cx="74" cy="60" rx="7.7" ry="5" fill="#066f06" transform="rotate(25 74 60)"/><ellipse cx="32" cy="65" rx="6.6" ry="3.9" fill="#066f06" transform="rotate(15 32 65)"/><ellipse cx="23" cy="81" rx="5.5" ry="3.3" fill="#077707"/><ellipse cx="53" cy="87" rx="5" ry="4.4" fill="#077707"/><ellipse cx="73" cy="82" rx="6.6" ry="4.4" fill="#056a05" transform="rotate(20 73 82)"/><ellipse cx="90" cy="90" rx="4.4" ry="4.4" fill="#045d04"/><ellipse cx="95" cy="48" rx="2.2" ry="5.5" fill="#035603"/></g><g filter="url(#b2)"><circle cx="6" cy="20.5" r="1.1" fill="#088208"/><circle cx="6.5" cy="12.1" r="1.1" fill="#088208"/><circle cx="2.8" cy="18.8" r="0.7" fill="#088208"/><circle cx="3.8" cy="13.7" r="0.7" fill="#088208"/><circle cx="85.2" cy="23.5" r="0.9" fill="#098c09"/><circle cx="80.4" cy="21.1" r="0.7" fill="#098c09"/><circle cx="76.7" cy="28.3" r="1" fill="#098c09"/><circle cx="78.8" cy="28.7" r="1.1" fill="#098c09"/><circle cx="27.9" cy="42.4" r="0.9" fill="#0b9c0b"/><circle cx="24.7" cy="41.9" r="0.8" fill="#0b9c0b"/><circle cx="26.9" cy="42.3" r="0.9" fill="#0b9c0b"/><circle cx="48.6" cy="49.7" r="0.8" fill="#0b9c0b"/><circle cx="48" cy="52.1" r="0.9" fill="#0b9c0b"/><circle cx="45.2" cy="48.3" r="0.9" fill="#0b9c0b"/><circle cx="11" cy="52" r="0.8" fill="#0a940a"/><circle cx="10.9" cy="49" r="0.8" fill="#0a940a"/><circle cx="9.1" cy="51.1" r="1" fill="#0a940a"/><circle cx="74.5" cy="60.2" r="1.1" fill="#0a940a"/><circle cx="75" cy="62.2" r="0.9" fill="#0a940a"/><circle cx="76.2" cy="64.3" r="0.7" fill="#0a940a"/><circle cx="72" cy="54.8" r="0.8" fill="#0a940a"/><circle cx="33.7" cy="64.7" r="1.1" fill="#0a940a"/><circle cx="34.8" cy="64.6" r="0.7" fill="#0a940a"/><circle cx="34.7" cy="63" r="0.9" fill="#0a940a"/><circle cx="21.2" cy="81.4" r="0.9" fill="#0b9c0b"/><circle cx="19.9" cy="83" r="0.9" fill="#0b9c0b"/><circle cx="22" cy="80" r="0.7" fill="#0b9c0b"/><circle cx="55.4" cy="89.5" r="0.9" fill="#0b9c0b"/><circle cx="53.3" cy="84.8" r="1.1" fill="#0b9c0b"/><circle cx="69.3" cy="82.1" r="1" fill="#098f09"/><circle cx="72" cy="85" r="0.8" fill="#098f09"/><circle cx="87.6" cy="91.5" r="0.8" fill="#088208"/><circle cx="88.8" cy="93.4" r="0.9" fill="#088208"/><circle cx="93.6" cy="51.4" r="1.1" fill="#077a07"/><circle cx="96.8" cy="51.5" r="1" fill="#077a07"/><circle cx="94.5" cy="50.4" r="1" fill="#077a07"/><circle cx="94.1" cy="52.4" r="1" fill="#077a07"/></g></svg>
<svg x="848" y="222" width="98.7" height="98.2" viewBox="0 0 100 100" preserveAspectRatio="none"><rect width="100" height="100" fill="#001f00"/><g filter="url(#b)"><ellipse cx="55" cy="66" rx="5" ry="4" fill="#002200"/><ellipse cx="87" cy="94" rx="15.5" ry="7.1" fill="#002e00"/><ellipse cx="79" cy="8" rx="15.5" ry="9.9" fill="#003000"/><ellipse cx="68" cy="65" rx="9.9" ry="21.1" fill="#013601" transform="rotate(-15 68 65)"/><ellipse cx="15" cy="47" rx="23.9" ry="21.1" fill="#013701"/><ellipse cx="30" cy="85" rx="30" ry="14" fill="#045d04" transform="rotate(10 30 85)"/><ellipse cx="35" cy="58" rx="28" ry="14" fill="#046004" transform="rotate(-25 35 58)"/><ellipse cx="8" cy="81" rx="12" ry="20" fill="#046004"/><ellipse cx="65" cy="16" rx="14" ry="20" fill="#046504" transform="rotate(-35 65 16)"/><ellipse cx="48" cy="85" rx="26" ry="10" fill="#046504" transform="rotate(20 48 85)"/><ellipse cx="50" cy="42" rx="12" ry="20" fill="#056d05" transform="rotate(15 50 42)"/><ellipse cx="79" cy="8" rx="10" ry="6" fill="#035303"/><ellipse cx="15" cy="47" rx="16" ry="14" fill="#056805"/><ellipse cx="26" cy="69" rx="12" ry="12" fill="#056d05"/><ellipse cx="68" cy="65" rx="6" ry="14" fill="#046504" transform="rotate(-15 68 65)"/><ellipse cx="87" cy="94" rx="10" ry="4" fill="#024c02"/><ellipse cx="79" cy="8" rx="5.5" ry="3.3" fill="#045d04"/><ellipse cx="15" cy="47" rx="8.8" ry="7.7" fill="#067206"/><ellipse cx="26" cy="69" rx="6.6" ry="6.6" fill="#077707"/><ellipse cx="68" cy="65" rx="3.3" ry="7.7" fill="#066f06" transform="rotate(-15 68 65)"/><ellipse cx="87" cy="94" rx="5.5" ry="2.2" fill="#035603"/></g><g filter="url(#b2)"><circle cx="79.2" cy="6.4" r="0.9" fill="#088208"/><circle cx="79.6" cy="9.9" r="0.9" fill="#088208"/><circle cx="78.6" cy="9.7" r="1" fill="#088208"/><circle cx="14.4" cy="46" r="0.8" fill="#0b970b"/><circle cx="11.1" cy="49.1" r="1.1" fill="#0b970b"/><circle cx="21.1" cy="52.5" r="0.8" fill="#0b970b"/><circle cx="11.5" cy="43.3" r="0.9" fill="#0b970b"/><circle cx="26.6" cy="66.3" r="1" fill="#0b9c0b"/><circle cx="25.8" cy="72.5" r="1.1" fill="#0b9c0b"/><circle cx="71.3" cy="67.1" r="1" fill="#0a940a"/><circle cx="68.8" cy="61" r="1.1" fill="#0a940a"/><circle cx="64" cy="59.9" r="0.8" fill="#0a940a"/><circle cx="71.2" cy="68.1" r="1.1" fill="#0a940a"/><circle cx="89.2" cy="94.1" r="1" fill="#077a07"/><circle cx="85.7" cy="95.6" r="0.8" fill="#077a07"/></g></svg>
<svg x="949.4" y="222" width="98.7" height="98.2" viewBox="0 0 100 100" preserveAspectRatio="none"><rect width="100" height="100" fill="#001d00"/><g filter="url(#b3)"><ellipse cx="39" cy="56" rx="30" ry="35" fill="#002e00"/></g><g filter="url(#b)"><ellipse cx="6" cy="8" rx="12.7" ry="9.9" fill="#002d00"/><ellipse cx="32" cy="6" rx="8.5" ry="8.5" fill="#002f00"/><ellipse cx="13" cy="94" rx="15.5" ry="8.5" fill="#003200"/><ellipse cx="10" cy="21" rx="15.5" ry="21.1" fill="#013501" transform="rotate(30 10 21)"/><ellipse cx="11" cy="56" rx="21.1" ry="15.5" fill="#013901"/><ellipse cx="74" cy="82" rx="11.3" ry="21.1" fill="#013901" transform="rotate(10 74 82)"/><ellipse cx="35" cy="81" rx="19.7" ry="21.1" fill="#013b01"/><ellipse cx="40" cy="37" rx="15.5" ry="19.7" fill="#013d01"/><ellipse cx="65" cy="61" rx="12.7" ry="12.7" fill="#014001"/><ellipse cx="10" cy="21" rx="10" ry="14" fill="#046504" transform="rotate(30 10 21)"/><ellipse cx="32" cy="6" rx="5" ry="5" fill="#035303"/><ellipse cx="40" cy="37" rx="10" ry="13" fill="#087f08"/><ellipse cx="11" cy="56" rx="14" ry="10" fill="#067206"/><ellipse cx="65" cy="61" rx="8" ry="8" fill="#088708"/><ellipse cx="35" cy="81" rx="13" ry="14" fill="#077707"/><ellipse cx="74" cy="82" rx="7" ry="14" fill="#067206" transform="rotate(10 74 82)"/><ellipse cx="13" cy="94" rx="10" ry="5" fill="#045d04"/><ellipse cx="6" cy="8" rx="8" ry="6" fill="#024c02"/><ellipse cx="10" cy="21" rx="5.5" ry="7.7" fill="#066f06" transform="rotate(30 10 21)"/><ellipse cx="32" cy="6" rx="2.8" ry="2.8" fill="#045d04"/><ellipse cx="40" cy="37" rx="5.5" ry="7.2" fill="#098909"/><ellipse cx="11" cy="56" rx="7.7" ry="5.5" fill="#077c07"/><ellipse cx="65" cy="61" rx="4.4" ry="4.4" fill="#0a910a"/><ellipse cx="35" cy="81" rx="7.2" ry="7.7" fill="#088208"/><ellipse cx="74" cy="82" rx="3.9" ry="7.7" fill="#077c07" transform="rotate(10 74 82)"/><ellipse cx="13" cy="94" rx="5.5" ry="2.8" fill="#056805"/><ellipse cx="6" cy="8" rx="4.4" ry="3.3" fill="#035603"/></g><g filter="url(#b2)"><circle cx="13.3" cy="18.1" r="0.9" fill="#0a940a"/><circle cx="5.7" cy="21.1" r="0.7" fill="#0a940a"/><circle cx="9.1" cy="16.5" r="0.9" fill="#0a940a"/><circle cx="8.8" cy="17.2" r="0.9" fill="#0a940a"/><circle cx="30.1" cy="7.6" r="0.8" fill="#088208"/><circle cx="31.7" cy="5.2" r="0.7" fill="#088208"/><circle cx="32.6" cy="7.9" r="0.9" fill="#088208"/><circle cx="41" cy="38.1" r="0.7" fill="#0eaf0e"/><circle cx="36.4" cy="40.1" r="0.8" fill="#0eaf0e"/><circle cx="39" cy="39.3" r="0.9" fill="#0eaf0e"/><circle cx="42" cy="31.2" r="0.9" fill="#0eaf0e"/><circle cx="16.2" cy="55.6" r="1" fill="#0ca20c"/><circle cx="16.7" cy="54.3" r="0.8" fill="#0ca20c"/><circle cx="11.9" cy="53.6" r="1" fill="#0ca20c"/><circle cx="64.7" cy="63.7" r="0.9" fill="#10b710"/><circle cx="68.1" cy="63.9" r="0.7" fill="#10b710"/><circle cx="68.2" cy="63.1" r="1" fill="#10b710"/><circle cx="61.9" cy="63.6" r="0.7" fill="#10b710"/><circle cx="38" cy="77.4" r="0.7" fill="#0da70d"/><circle cx="39.5" cy="78.1" r="0.8" fill="#0da70d"/><circle cx="32.5" cy="78.4" r="0.9" fill="#0da70d"/><circle cx="75.2" cy="78.2" r="0.8" fill="#0ca20c"/><circle cx="77.8" cy="77.6" r="0.9" fill="#0ca20c"/><circle cx="72.9" cy="77.5" r="0.8" fill="#0ca20c"/><circle cx="72.8" cy="86.9" r="0.8" fill="#0ca20c"/><circle cx="15.2" cy="94.9" r="1.1" fill="#098c09"/><circle cx="13.4" cy="95.9" r="0.9" fill="#098c09"/><circle cx="11.3" cy="95.2" r="0.7" fill="#098c09"/><circle cx="11.4" cy="92.7" r="0.8" fill="#098c09"/><circle cx="4.3" cy="9.7" r="0.7" fill="#077a07"/><circle cx="2.4" cy="8.2" r="0.9" fill="#077a07"/></g></svg>
<svg x="1050.9" y="222" width="98.7" height="98.2" viewBox="0 0 100 100" preserveAspectRatio="none"><rect width="100" height="100" fill="#001f00"/><g filter="url(#b)"><ellipse cx="16" cy="39" rx="10" ry="5" fill="#002200"/><ellipse cx="89" cy="10" rx="15.5" ry="15.5" fill="#003200" transform="rotate(30 89 10)"/><ellipse cx="81" cy="77" rx="15.5" ry="12.7" fill="#013d01"/><ellipse cx="21" cy="13" rx="9.9" ry="23.9" fill="#014201" transform="rotate(25 21 13)"/><ellipse cx="11" cy="65" rx="12.7" ry="7.1" fill="#014201" transform="rotate(-30 11 65)"/><ellipse cx="50" cy="45" rx="22" ry="20" fill="#0a910a"/><ellipse cx="60" cy="70" rx="18" ry="16" fill="#0a940a"/><ellipse cx="32" cy="58" rx="18" ry="12" fill="#0b9c0b"/><ellipse cx="37" cy="29" rx="20" ry="12" fill="#0ca20c" transform="rotate(10 37 29)"/><ellipse cx="68" cy="45" rx="8" ry="22" fill="#0ca20c" transform="rotate(10 68 45)"/><ellipse cx="61" cy="81" rx="16" ry="18" fill="#0ca20c"/><ellipse cx="21" cy="13" rx="6" ry="16" fill="#088708" transform="rotate(25 21 13)"/><ellipse cx="11" cy="65" rx="8" ry="4" fill="#088708" transform="rotate(-30 11 65)"/><ellipse cx="69" cy="52" rx="9" ry="10" fill="#0a940a"/><ellipse cx="81" cy="77" rx="10" ry="8" fill="#077a07"/><ellipse cx="89" cy="10" rx="10" ry="10" fill="#035803" transform="rotate(30 89 10)"/><ellipse cx="21" cy="13" rx="3.3" ry="8.8" fill="#0a910a" transform="rotate(25 21 13)"/><ellipse cx="11" cy="65" rx="4.4" ry="2.2" fill="#0a910a" transform="rotate(-30 11 65)"/><ellipse cx="69" cy="52" rx="5" ry="5.5" fill="#0c9f0c"/><ellipse cx="81" cy="77" rx="5.5" ry="4.4" fill="#088408"/><ellipse cx="89" cy="10" rx="5.5" ry="5.5" fill="#046204" transform="rotate(30 89 10)"/></g><g filter="url(#b2)"><circle cx="15.9" cy="17.6" r="1" fill="#10b710"/><circle cx="22" cy="16.5" r="1" fill="#10b710"/><circle cx="18.9" cy="14.1" r="0.7" fill="#10b710"/><circle cx="11.5" cy="66.1" r="0.7" fill="#10b710"/><circle cx="7.7" cy="65.4" r="0.9" fill="#10b710"/><circle cx="9.2" cy="67.2" r="0.9" fill="#10b710"/><circle cx="13.7" cy="62.5" r="1.1" fill="#10b710"/><circle cx="72.9" cy="55.6" r="0.7" fill="#13c513"/><circle cx="65.3" cy="52.1" r="1" fill="#13c513"/><circle cx="72.4" cy="49.9" r="0.8" fill="#13c513"/><circle cx="78.7" cy="74.9" r="0.9" fill="#0daa0d"/><circle cx="81.3" cy="76.2" r="0.9" fill="#0daa0d"/><circle cx="90.9" cy="11.6" r="1.1" fill="#088708"/><circle cx="90.9" cy="14" r="1" fill="#088708"/><circle cx="90.4" cy="11.3" r="0.8" fill="#088708"/></g></svg>
<svg x="1152.4" y="222" width="98.7" height="98.2" viewBox="0 0 100 100" preserveAspectRatio="none"><rect width="100" height="100" fill="#002700"/><g filter="url(#b3)"><ellipse cx="60" cy="40" rx="40" ry="35" fill="#013b01"/></g><g filter="url(#b)"><ellipse cx="68" cy="95" rx="15.5" ry="7.1" fill="#013c01"/><ellipse cx="15" cy="24" rx="8.5" ry="19.7" fill="#024902" transform="rotate(25 15 24)"/><ellipse cx="97" cy="52" rx="7.1" ry="15.5" fill="#025002"/><ellipse cx="30" cy="63" rx="12.7" ry="11.3" fill="#025002"/><ellipse cx="39" cy="73" rx="11.3" ry="11.3" fill="#025002"/><ellipse cx="35" cy="27" rx="12.7" ry="23.9" fill="#035303" transform="rotate(10 35 27)"/><ellipse cx="70" cy="29" rx="8.5" ry="18.3" fill="#035303"/><ellipse cx="83" cy="13" rx="8.5" ry="14.1" fill="#035303"/><ellipse cx="89" cy="31" rx="11.3" ry="16.9" fill="#035303" transform="rotate(25 89 31)"/><ellipse cx="52" cy="33" rx="8.5" ry="14.1" fill="#035503" transform="rotate(-30 52 33)"/><ellipse cx="42" cy="46" rx="12.7" ry="8.5" fill="#035503"/><ellipse cx="65" cy="60" rx="7.1" ry="14.1" fill="#035503" transform="rotate(-30 65 60)"/><ellipse cx="38" cy="94" rx="20" ry="6" fill="#077a07" transform="rotate(5 38 94)"/><ellipse cx="15" cy="24" rx="5" ry="13" fill="#088708" transform="rotate(25 15 24)"/><ellipse cx="35" cy="27" rx="8" ry="16" fill="#0ca20c" transform="rotate(10 35 27)"/><ellipse cx="52" cy="33" rx="5" ry="9" fill="#0da70d" transform="rotate(-30 52 33)"/><ellipse cx="70" cy="29" rx="5" ry="12" fill="#0ca20c"/><ellipse cx="83" cy="13" rx="5" ry="9" fill="#0ca20c"/><ellipse cx="89" cy="31" rx="7" ry="11" fill="#0ca20c" transform="rotate(25 89 31)"/><ellipse cx="42" cy="46" rx="8" ry="5" fill="#0da70d"/><ellipse cx="65" cy="60" rx="4" ry="9" fill="#0da70d" transform="rotate(-30 65 60)"/><ellipse cx="97" cy="52" rx="4" ry="10" fill="#0b9a0b"/><ellipse cx="30" cy="63" rx="8" ry="7" fill="#0b9a0b"/><ellipse cx="39" cy="73" rx="7" ry="7" fill="#0b9a0b"/><ellipse cx="68" cy="95" rx="10" ry="4" fill="#046504"/><ellipse cx="15" cy="24" rx="2.8" ry="7.2" fill="#0a910a" transform="rotate(25 15 24)"/><ellipse cx="35" cy="27" rx="4.4" ry="8.8" fill="#0eac0e" transform="rotate(10 35 27)"/><ellipse cx="52" cy="33" rx="2.8" ry="5" fill="#0fb20f" transform="rotate(-30 52 33)"/><ellipse cx="70" cy="29" rx="2.8" ry="6.6" fill="#0eac0e"/><ellipse cx="83" cy="13" rx="2.8" ry="5" fill="#0eac0e"/><ellipse cx="89" cy="31" rx="3.9" ry="6.1" fill="#0eac0e" transform="rotate(25 89 31)"/><ellipse cx="42" cy="46" rx="4.4" ry="2.8" fill="#0fb20f"/><ellipse cx="65" cy="60" rx="2.2" ry="5" fill="#0fb20f" transform="rotate(-30 65 60)"/><ellipse cx="97" cy="52" rx="2.2" ry="5.5" fill="#0da40d"/><ellipse cx="30" cy="63" rx="4.4" ry="3.9" fill="#0da40d"/><ellipse cx="39" cy="73" rx="3.9" ry="3.9" fill="#0da40d"/><ellipse cx="68" cy="95" rx="5.5" ry="2.2" fill="#066f06"/></g><g filter="url(#b2)"><circle cx="15.7" cy="21" r="0.8" fill="#10b710"/><circle cx="16.5" cy="25.3" r="1.1" fill="#10b710"/><circle cx="15.1" cy="25" r="0.9" fill="#10b710"/><circle cx="16" cy="23.4" r="0.9" fill="#10b710"/><circle cx="37.6" cy="29.4" r="1" fill="#18d218"/><circle cx="33.6" cy="29.6" r="0.9" fill="#18d218"/><circle cx="32.3" cy="30.4" r="0.8" fill="#18d218"/><circle cx="33.3" cy="25.9" r="0.9" fill="#18d218"/><circle cx="53.4" cy="33.5" r="0.9" fill="#1ad71a"/><circle cx="49.8" cy="33.2" r="0.8" fill="#1ad71a"/><circle cx="69.5" cy="28.1" r="1" fill="#18d218"/><circle cx="69.1" cy="32.5" r="0.8" fill="#18d218"/><circle cx="82" cy="10.7" r="1" fill="#18d218"/><circle cx="83.6" cy="15.8" r="1.1" fill="#18d218"/><circle cx="91.4" cy="31.4" r="0.9" fill="#18d218"/><circle cx="89.3" cy="27.4" r="1" fill="#18d218"/><circle cx="88" cy="32.1" r="1" fill="#18d218"/><circle cx="38.9" cy="44.8" r="1.1" fill="#1ad71a"/><circle cx="45.1" cy="46.2" r="0.8" fill="#1ad71a"/><circle cx="38.9" cy="43.9" r="1.1" fill="#1ad71a"/><circle cx="44" cy="46.3" r="1" fill="#1ad71a"/><circle cx="64.8" cy="58" r="0.9" fill="#1ad71a"/><circle cx="65.2" cy="58.4" r="0.8" fill="#1ad71a"/><circle cx="66.1" cy="62.4" r="1.1" fill="#1ad71a"/><circle cx="98.5" cy="53.3" r="1" fill="#15ca15"/><circle cx="96.6" cy="51.8" r="0.8" fill="#15ca15"/><circle cx="98.3" cy="47.7" r="1" fill="#15ca15"/><circle cx="98.4" cy="49.3" r="1" fill="#15ca15"/><circle cx="33.3" cy="64.8" r="0.9" fill="#15ca15"/><circle cx="28.3" cy="62.2" r="1" fill="#15ca15"/><circle cx="30.5" cy="65" r="0.8" fill="#15ca15"/><circle cx="39.9" cy="70.3" r="1.1" fill="#15ca15"/><circle cx="40" cy="72.3" r="1.1" fill="#15ca15"/><circle cx="66" cy="95.3" r="1.1" fill="#0a940a"/><circle cx="67.6" cy="94.8" r="0.8" fill="#0a940a"/></g></svg>
<svg x="36.3" y="323" width="98.7" height="98.2" viewBox="0 0 100 100" preserveAspectRatio="none"><rect width="100" height="100" fill="#001c00"/><g filter="url(#b)"><ellipse cx="6" cy="23" rx="8" ry="8" fill="#002a00"/><ellipse cx="48" cy="65" rx="22" ry="30" fill="#002e00" transform="rotate(-20 48 65)"/><ellipse cx="27" cy="31" rx="14.1" ry="9.9" fill="#002f00"/><ellipse cx="58" cy="87" rx="10" ry="7" fill="#014401"/><ellipse cx="27" cy="31" rx="9" ry="6" fill="#035603"/><ellipse cx="26" cy="46" rx="10" ry="5" fill="#035603"/><ellipse cx="58" cy="45" rx="7" ry="11" fill="#035603" transform="rotate(-20 58 45)"/><ellipse cx="47" cy="56" rx="8" ry="9" fill="#025002"/><ellipse cx="65" cy="74" rx="4" ry="8" fill="#024902"/><ellipse cx="27" cy="31" rx="5" ry="3.3" fill="#046004"/><ellipse cx="26" cy="46" rx="5.5" ry="2.8" fill="#046004"/><ellipse cx="58" cy="45" rx="3.9" ry="6.1" fill="#046004" transform="rotate(-20 58 45)"/><ellipse cx="47" cy="56" rx="4.4" ry="5" fill="#035b03"/><ellipse cx="65" cy="74" rx="2.2" ry="4.4" fill="#035303"/></g><g filter="url(#b2)"><circle cx="25.8" cy="33.5" r="0.9" fill="#088408"/><circle cx="27.2" cy="33.1" r="0.9" fill="#088408"/><circle cx="24.3" cy="29" r="0.8" fill="#088408"/><circle cx="27.6" cy="31.7" r="1" fill="#088408"/><circle cx="26" cy="46.1" r="1" fill="#088408"/><circle cx="27.7" cy="45.1" r="1.1" fill="#088408"/><circle cx="26.5" cy="48.1" r="0.8" fill="#088408"/><circle cx="24.7" cy="44" r="1" fill="#088408"/><circle cx="57.3" cy="48.6" r="0.8" fill="#088408"/><circle cx="60.7" cy="47.2" r="1" fill="#088408"/><circle cx="57.4" cy="41.8" r="0.7" fill="#088408"/><circle cx="56.4" cy="40.9" r="1.1" fill="#088408"/><circle cx="44.8" cy="59.2" r="1" fill="#087f08"/><circle cx="49.7" cy="53.9" r="0.9" fill="#087f08"/><circle cx="49.3" cy="53.1" r="0.9" fill="#087f08"/><circle cx="46.7" cy="53.9" r="1" fill="#087f08"/><circle cx="65.5" cy="71.5" r="1.1" fill="#077707"/><circle cx="66.1" cy="76.3" r="0.7" fill="#077707"/><circle cx="65.6" cy="75.1" r="0.9" fill="#077707"/><circle cx="64.1" cy="73.1" r="0.9" fill="#077707"/></g></svg>
<svg x="137.8" y="323" width="98.7" height="98.2" viewBox="0 0 100 100" preserveAspectRatio="none"><rect width="100" height="100" fill="#002200"/><g filter="url(#b)"><ellipse cx="21" cy="13" rx="14.1" ry="12.7" fill="#003400"/><ellipse cx="3" cy="60" rx="8.5" ry="12.7" fill="#013701"/><ellipse cx="23" cy="81" rx="22" ry="18" fill="#013f01"/><ellipse cx="58" cy="48" rx="35" ry="50" fill="#024602"/><ellipse cx="21" cy="13" rx="9" ry="8" fill="#035803"/><ellipse cx="47" cy="13" rx="7" ry="9" fill="#046004"/><ellipse cx="56" cy="26" rx="8" ry="8" fill="#046004"/><ellipse cx="73" cy="29" rx="6" ry="9" fill="#046004"/><ellipse cx="82" cy="37" rx="8" ry="10" fill="#046004"/><ellipse cx="29" cy="35" rx="5" ry="9" fill="#046004"/><ellipse cx="58" cy="40" rx="8" ry="6" fill="#046004"/><ellipse cx="52" cy="56" rx="8" ry="9" fill="#056d05"/><ellipse cx="68" cy="56" rx="6" ry="8" fill="#056d05"/><ellipse cx="3" cy="60" rx="5" ry="8" fill="#046004"/><ellipse cx="31" cy="69" rx="10" ry="9" fill="#046504"/><ellipse cx="87" cy="79" rx="6" ry="8" fill="#035803"/><ellipse cx="42" cy="94" rx="12" ry="6" fill="#035303"/><ellipse cx="71" cy="92" rx="6" ry="8" fill="#035303"/><ellipse cx="13" cy="39" rx="12" ry="16" fill="#001d00"/><ellipse cx="21" cy="13" rx="5" ry="4.4" fill="#046204"/><ellipse cx="47" cy="13" rx="3.9" ry="5" fill="#056a05"/><ellipse cx="56" cy="26" rx="4.4" ry="4.4" fill="#056a05"/><ellipse cx="73" cy="29" rx="3.3" ry="5" fill="#056a05"/><ellipse cx="82" cy="37" rx="4.4" ry="5.5" fill="#056a05"/><ellipse cx="29" cy="35" rx="2.8" ry="5" fill="#056a05"/><ellipse cx="58" cy="40" rx="4.4" ry="3.3" fill="#056a05"/><ellipse cx="52" cy="56" rx="4.4" ry="5" fill="#077707"/><ellipse cx="68" cy="56" rx="3.3" ry="4.4" fill="#077707"/><ellipse cx="3" cy="60" rx="2.8" ry="4.4" fill="#056a05"/><ellipse cx="31" cy="69" rx="5.5" ry="5" fill="#066f06"/><ellipse cx="87" cy="79" rx="3.3" ry="4.4" fill="#046204"/><ellipse cx="42" cy="94" rx="6.6" ry="3.3" fill="#045d04"/><ellipse cx="71" cy="92" rx="3.3" ry="4.4" fill="#045d04"/></g><g filter="url(#b2)"><circle cx="22" cy="15.9" r="0.9" fill="#088708"/><circle cx="22.2" cy="16.2" r="0.9" fill="#088708"/><circle cx="17.9" cy="16" r="0.9" fill="#088708"/><circle cx="44.5" cy="12.6" r="0.9" fill="#098f09"/><circle cx="49.8" cy="15.8" r="0.8" fill="#098f09"/><circle cx="57.2" cy="27.8" r="0.8" fill="#098f09"/><circle cx="56.4" cy="24.7" r="0.9" fill="#098f09"/><circle cx="56.9" cy="27.9" r="1.1" fill="#098f09"/><circle cx="52.5" cy="29.4" r="1" fill="#098f09"/><circle cx="74.7" cy="27.2" r="1.1" fill="#098f09"/><circle cx="71.2" cy="32.6" r="0.9" fill="#098f09"/><circle cx="84.7" cy="38.1" r="0.7" fill="#098f09"/><circle cx="80.9" cy="36" r="0.7" fill="#098f09"/><circle cx="28" cy="38.4" r="0.9" fill="#098f09"/><circle cx="27.2" cy="31" r="1" fill="#098f09"/><circle cx="27.2" cy="38.7" r="1" fill="#098f09"/><circle cx="29.3" cy="35.6" r="0.8" fill="#098f09"/><circle cx="56.6" cy="38.1" r="0.9" fill="#098f09"/><circle cx="60.6" cy="42.5" r="0.9" fill="#098f09"/><circle cx="56.1" cy="39.8" r="0.7" fill="#098f09"/><circle cx="53.6" cy="52.3" r="0.8" fill="#0b9c0b"/><circle cx="50.3" cy="57.8" r="1" fill="#0b9c0b"/><circle cx="48.6" cy="58.5" r="0.9" fill="#0b9c0b"/><circle cx="50.8" cy="57.7" r="0.8" fill="#0b9c0b"/><circle cx="66.2" cy="55" r="0.8" fill="#0b9c0b"/><circle cx="66.2" cy="53.3" r="1" fill="#0b9c0b"/><circle cx="66.6" cy="58.6" r="1" fill="#0b9c0b"/><circle cx="3.8" cy="56.8" r="1" fill="#098f09"/><circle cx="0.9" cy="59.4" r="1" fill="#098f09"/><circle cx="29" cy="68.5" r="1" fill="#0a940a"/><circle cx="29.7" cy="66.7" r="0.9" fill="#0a940a"/><circle cx="27.8" cy="72.5" r="0.9" fill="#0a940a"/><circle cx="34.1" cy="71.2" r="0.7" fill="#0a940a"/><circle cx="86.5" cy="82.3" r="0.9" fill="#088708"/><circle cx="86.4" cy="79.8" r="0.9" fill="#088708"/><circle cx="84.5" cy="77.1" r="0.8" fill="#088708"/><circle cx="47.1" cy="96" r="0.9" fill="#088208"/><circle cx="43.9" cy="91.4" r="0.7" fill="#088208"/><circle cx="44.6" cy="95.3" r="1" fill="#088208"/><circle cx="38.1" cy="94.4" r="1" fill="#088208"/><circle cx="73.5" cy="88.6" r="0.8" fill="#088208"/><circle cx="69.6" cy="90.3" r="1" fill="#088208"/><circle cx="68.6" cy="95.3" r="0.9" fill="#088208"/><circle cx="70.9" cy="92.1" r="1.1" fill="#088208"/></g></svg>
<svg x="239.2" y="323" width="98.7" height="98.2" viewBox="0 0 100 100" preserveAspectRatio="none"><rect width="100" height="100" fill="#013b01"/><g filter="url(#b)"><ellipse cx="81" cy="89" rx="14" ry="10" fill="#013f01"/><ellipse cx="81" cy="39" rx="11.3" ry="9.9" fill="#024802"/><ellipse cx="95" cy="40" rx="8.5" ry="12.7" fill="#024802"/><ellipse cx="73" cy="56" rx="12.7" ry="11.3" fill="#024802"/><ellipse cx="10" cy="89" rx="15.5" ry="12.7" fill="#024802"/><ellipse cx="89" cy="16" rx="14.1" ry="15.5" fill="#024902"/><ellipse cx="52" cy="39" rx="12.7" ry="11.3" fill="#024902"/><ellipse cx="39" cy="82" rx="12.7" ry="14.1" fill="#024902"/><ellipse cx="21" cy="31" rx="14.1" ry="12.7" fill="#024b02"/><ellipse cx="69" cy="24" rx="11.3" ry="14.1" fill="#024b02"/><ellipse cx="66" cy="47" rx="11.3" ry="11.3" fill="#024b02"/><ellipse cx="18" cy="73" rx="11.3" ry="9.9" fill="#024b02"/><ellipse cx="55" cy="74" rx="14.1" ry="12.7" fill="#024b02"/><ellipse cx="15" cy="58" rx="12.7" ry="12.7" fill="#024c02"/><ellipse cx="34" cy="61" rx="12.7" ry="12.7" fill="#024c02"/><ellipse cx="6" cy="68" rx="9.9" ry="11.3" fill="#024c02"/><ellipse cx="29" cy="52" rx="11.3" ry="9.9" fill="#024e02"/><ellipse cx="45" cy="53" rx="11.3" ry="12.7" fill="#024e02"/><ellipse cx="81" cy="71" rx="10" ry="8" fill="#035303"/><ellipse cx="24" cy="5" rx="8" ry="4" fill="#035803"/><ellipse cx="56" cy="95" rx="10" ry="4" fill="#035803"/><ellipse cx="47" cy="21" rx="12" ry="10" fill="#001f00"/><ellipse cx="8" cy="13" rx="8" ry="6" fill="#002a00"/><ellipse cx="21" cy="31" rx="9" ry="8" fill="#046504"/><ellipse cx="69" cy="24" rx="7" ry="9" fill="#046504"/><ellipse cx="89" cy="16" rx="9" ry="10" fill="#046004"/><ellipse cx="52" cy="39" rx="8" ry="7" fill="#046004"/><ellipse cx="81" cy="39" rx="7" ry="6" fill="#045d04"/><ellipse cx="95" cy="40" rx="5" ry="8" fill="#045d04"/><ellipse cx="66" cy="47" rx="7" ry="7" fill="#046504"/><ellipse cx="29" cy="52" rx="7" ry="6" fill="#056d05"/><ellipse cx="45" cy="53" rx="7" ry="8" fill="#056d05"/><ellipse cx="15" cy="58" rx="8" ry="8" fill="#056805"/><ellipse cx="34" cy="61" rx="8" ry="8" fill="#056805"/><ellipse cx="73" cy="56" rx="8" ry="7" fill="#045d04"/><ellipse cx="6" cy="68" rx="6" ry="7" fill="#056805"/><ellipse cx="18" cy="73" rx="7" ry="6" fill="#046504"/><ellipse cx="55" cy="74" rx="9" ry="8" fill="#046504"/><ellipse cx="39" cy="82" rx="8" ry="9" fill="#046004"/><ellipse cx="10" cy="89" rx="10" ry="8" fill="#045d04"/><ellipse cx="21" cy="31" rx="5" ry="4.4" fill="#066f06"/><ellipse cx="69" cy="24" rx="3.9" ry="5" fill="#066f06"/><ellipse cx="89" cy="16" rx="5" ry="5.5" fill="#056a05"/><ellipse cx="52" cy="39" rx="4.4" ry="3.9" fill="#056a05"/><ellipse cx="81" cy="39" rx="3.9" ry="3.3" fill="#056805"/><ellipse cx="95" cy="40" rx="2.8" ry="4.4" fill="#056805"/><ellipse cx="66" cy="47" rx="3.9" ry="3.9" fill="#066f06"/><ellipse cx="29" cy="52" rx="3.9" ry="3.3" fill="#077707"/><ellipse cx="45" cy="53" rx="3.9" ry="4.4" fill="#077707"/><ellipse cx="15" cy="58" rx="4.4" ry="4.4" fill="#067206"/><ellipse cx="34" cy="61" rx="4.4" ry="4.4" fill="#067206"/><ellipse cx="73" cy="56" rx="4.4" ry="3.9" fill="#056805"/><ellipse cx="6" cy="68" rx="3.3" ry="3.9" fill="#067206"/><ellipse cx="18" cy="73" rx="3.9" ry="3.3" fill="#066f06"/><ellipse cx="55" cy="74" rx="5" ry="4.4" fill="#066f06"/><ellipse cx="39" cy="82" rx="4.4" ry="5" fill="#056a05"/><ellipse cx="10" cy="89" rx="5.5" ry="4.4" fill="#056805"/></g><g filter="url(#b2)"><circle cx="21.3" cy="31.4" r="0.9" fill="#0a940a"/><circle cx="18.5" cy="27.7" r="0.9" fill="#0a940a"/><circle cx="21" cy="33" r="0.8" fill="#0a940a"/><circle cx="24.8" cy="28.2" r="1" fill="#0a940a"/><circle cx="69.9" cy="24.7" r="0.9" fill="#0a940a"/><circle cx="66.2" cy="27.5" r="0.7" fill="#0a940a"/><circle cx="92.7" cy="14.9" r="1" fill="#098f09"/><circle cx="87.3" cy="17.8" r="1" fill="#098f09"/><circle cx="88" cy="17.4" r="1" fill="#098f09"/><circle cx="48.8" cy="37.7" r="0.9" fill="#098f09"/><circle cx="53.9" cy="41.2" r="0.9" fill="#098f09"/><circle cx="81.8" cy="37.6" r="0.7" fill="#098c09"/><circle cx="78" cy="40.9" r="0.9" fill="#098c09"/><circle cx="78.4" cy="40.2" r="0.9" fill="#098c09"/><circle cx="93" cy="38" r="1.1" fill="#098c09"/><circle cx="95.9" cy="43.1" r="1" fill="#098c09"/><circle cx="93.9" cy="37.8" r="0.9" fill="#098c09"/><circle cx="68.7" cy="48.1" r="0.8" fill="#0a940a"/><circle cx="63.1" cy="48.6" r="1" fill="#0a940a"/><circle cx="26.1" cy="54.5" r="0.9" fill="#0b9c0b"/><circle cx="26.8" cy="52.7" r="1" fill="#0b9c0b"/><circle cx="28.3" cy="51.9" r="1" fill="#0b9c0b"/><circle cx="44.2" cy="52.8" r="0.8" fill="#0b9c0b"/><circle cx="46.1" cy="50.9" r="1" fill="#0b9c0b"/><circle cx="44.1" cy="55.5" r="1" fill="#0b9c0b"/><circle cx="12.3" cy="60.7" r="0.7" fill="#0b970b"/><circle cx="15.5" cy="57.1" r="0.9" fill="#0b970b"/><circle cx="15.3" cy="59.9" r="1.1" fill="#0b970b"/><circle cx="17.5" cy="56.1" r="0.9" fill="#0b970b"/><circle cx="35.3" cy="62.4" r="1" fill="#0b970b"/><circle cx="33.4" cy="58.1" r="0.7" fill="#0b970b"/><circle cx="34.9" cy="62.1" r="1.1" fill="#0b970b"/><circle cx="73.3" cy="59" r="0.7" fill="#098c09"/><circle cx="76.1" cy="56.1" r="0.9" fill="#098c09"/><circle cx="73.8" cy="55.1" r="0.9" fill="#098c09"/><circle cx="7" cy="70.6" r="0.9" fill="#0b970b"/><circle cx="4.3" cy="67.9" r="1" fill="#0b970b"/><circle cx="5" cy="68.8" r="1" fill="#0b970b"/><circle cx="15.3" cy="72.4" r="0.7" fill="#0a940a"/><circle cx="17.1" cy="72.8" r="1.1" fill="#0a940a"/><circle cx="16" cy="71.9" r="0.9" fill="#0a940a"/><circle cx="58" cy="75.6" r="1" fill="#0a940a"/><circle cx="56.9" cy="75.7" r="0.9" fill="#0a940a"/><circle cx="38.3" cy="84.3" r="0.9" fill="#098f09"/><circle cx="37.3" cy="79.6" r="0.9" fill="#098f09"/><circle cx="38.5" cy="83.9" r="0.8" fill="#098f09"/><circle cx="14.3" cy="91.8" r="1" fill="#098c09"/><circle cx="8.5" cy="88.2" r="0.9" fill="#098c09"/><circle cx="8" cy="88.7" r="1" fill="#098c09"/></g></svg>
<svg x="340.7" y="323" width="98.7" height="98.2" viewBox="0 0 100 100" preserveAspectRatio="none"><rect width="100" height="100" fill="#002200"/><g filter="url(#b3)"><ellipse cx="50" cy="50" rx="45" ry="45" fill="#003400"/></g><g filter="url(#b)"><ellipse cx="48" cy="90" rx="8.5" ry="15.5" fill="#003300" transform="rotate(-20 48 90)"/><ellipse cx="52" cy="32" rx="12.7" ry="12.7" fill="#003300"/><ellipse cx="6" cy="71" rx="12.7" ry="9.9" fill="#013701" transform="rotate(-30 6 71)"/><ellipse cx="89" cy="84" rx="11.3" ry="14.1" fill="#013701"/><ellipse cx="74" cy="35" rx="14.1" ry="21.1" fill="#013901"/><ellipse cx="65" cy="55" rx="14.1" ry="21.1" fill="#013b01" transform="rotate(-20 65 55)"/><ellipse cx="47" cy="63" rx="18.3" ry="15.5" fill="#013b01" transform="rotate(30 47 63)"/><ellipse cx="31" cy="69" rx="16.9" ry="12.7" fill="#013b01"/><ellipse cx="44" cy="19" rx="14.1" ry="14.1" fill="#013d01"/><ellipse cx="27" cy="37" rx="15.5" ry="12.7" fill="#013d01"/><ellipse cx="44" cy="19" rx="9" ry="9" fill="#067206"/><ellipse cx="27" cy="37" rx="10" ry="8" fill="#067206"/><ellipse cx="74" cy="35" rx="9" ry="14" fill="#046504"/><ellipse cx="65" cy="55" rx="9" ry="14" fill="#056d05" transform="rotate(-20 65 55)"/><ellipse cx="47" cy="63" rx="12" ry="10" fill="#056d05" transform="rotate(30 47 63)"/><ellipse cx="31" cy="69" rx="11" ry="8" fill="#056d05"/><ellipse cx="6" cy="71" rx="8" ry="6" fill="#046004" transform="rotate(-30 6 71)"/><ellipse cx="89" cy="84" rx="7" ry="9" fill="#046004"/><ellipse cx="48" cy="90" rx="5" ry="10" fill="#035303" transform="rotate(-20 48 90)"/><ellipse cx="52" cy="32" rx="8" ry="8" fill="#035303"/><ellipse cx="35" cy="47" rx="5" ry="3" fill="#002200"/><ellipse cx="48" cy="44" rx="3" ry="4" fill="#002200"/><ellipse cx="6" cy="53" rx="6" ry="8" fill="#001f00"/><ellipse cx="35" cy="92" rx="8" ry="6" fill="#001f00"/><ellipse cx="90" cy="16" rx="10" ry="14" fill="#001f00"/><ellipse cx="44" cy="19" rx="5" ry="5" fill="#077c07"/><ellipse cx="27" cy="37" rx="5.5" ry="4.4" fill="#077c07"/><ellipse cx="74" cy="35" rx="5" ry="7.7" fill="#066f06"/><ellipse cx="65" cy="55" rx="5" ry="7.7" fill="#077707" transform="rotate(-20 65 55)"/><ellipse cx="47" cy="63" rx="6.6" ry="5.5" fill="#077707" transform="rotate(30 47 63)"/><ellipse cx="31" cy="69" rx="6.1" ry="4.4" fill="#077707"/><ellipse cx="6" cy="71" rx="4.4" ry="3.3" fill="#056a05" transform="rotate(-30 6 71)"/><ellipse cx="89" cy="84" rx="3.9" ry="5" fill="#056a05"/><ellipse cx="48" cy="90" rx="2.8" ry="5.5" fill="#045d04" transform="rotate(-20 48 90)"/><ellipse cx="52" cy="32" rx="4.4" ry="4.4" fill="#045d04"/></g><g filter="url(#b2)"><circle cx="41.9" cy="20.9" r="0.7" fill="#0ca20c"/><circle cx="44.5" cy="20" r="0.9" fill="#0ca20c"/><circle cx="23.9" cy="36.8" r="0.9" fill="#0ca20c"/><circle cx="23.3" cy="37.2" r="1" fill="#0ca20c"/><circle cx="22.8" cy="39.3" r="1" fill="#0ca20c"/><circle cx="73.9" cy="40.3" r="1" fill="#0a940a"/><circle cx="75.4" cy="32.2" r="1.1" fill="#0a940a"/><circle cx="61.3" cy="51.6" r="0.8" fill="#0b9c0b"/><circle cx="61.7" cy="50.9" r="0.8" fill="#0b9c0b"/><circle cx="48.2" cy="65.3" r="0.8" fill="#0b9c0b"/><circle cx="49.1" cy="69.3" r="1" fill="#0b9c0b"/><circle cx="49.9" cy="68.7" r="1.1" fill="#0b9c0b"/><circle cx="48" cy="66.8" r="1" fill="#0b9c0b"/><circle cx="33.8" cy="70.6" r="0.7" fill="#0b9c0b"/><circle cx="35.7" cy="71.7" r="0.8" fill="#0b9c0b"/><circle cx="2.7" cy="70.5" r="1" fill="#098f09"/><circle cx="7.8" cy="70.8" r="0.8" fill="#098f09"/><circle cx="4.7" cy="74.6" r="0.9" fill="#098f09"/><circle cx="5.1" cy="72" r="1.1" fill="#098f09"/><circle cx="91.9" cy="85" r="1" fill="#098f09"/><circle cx="85.9" cy="82.6" r="0.8" fill="#098f09"/><circle cx="47.2" cy="85.8" r="1" fill="#088208"/><circle cx="47.8" cy="87.8" r="1" fill="#088208"/><circle cx="55.5" cy="29.8" r="1" fill="#088208"/><circle cx="49.7" cy="31.1" r="0.9" fill="#088208"/></g></svg>
<svg x="442.1" y="323" width="98.7" height="98.2" viewBox="0 0 100 100" preserveAspectRatio="none"><rect width="100" height="100" fill="#001f00"/><g filter="url(#b)"><ellipse cx="24" cy="6" rx="12.7" ry="8.5" fill="#002c00"/><ellipse cx="90" cy="34" rx="12.7" ry="12.7" fill="#003000" transform="rotate(-40 90 34)"/><ellipse cx="31" cy="79" rx="7.1" ry="23.9" fill="#003400" transform="rotate(30 31 79)"/><ellipse cx="48" cy="61" rx="20" ry="14" fill="#003400"/><ellipse cx="52" cy="10" rx="15.5" ry="15.5" fill="#003400"/><ellipse cx="39" cy="29" rx="18.3" ry="12.7" fill="#013601"/><ellipse cx="69" cy="45" rx="16.9" ry="9.9" fill="#013601" transform="rotate(-25 69 45)"/><ellipse cx="73" cy="58" rx="21.1" ry="9.9" fill="#013601" transform="rotate(-25 73 58)"/><ellipse cx="50" cy="89" rx="9.9" ry="14.1" fill="#013601"/><ellipse cx="2" cy="55" rx="2" ry="8" fill="#035803"/><ellipse cx="52" cy="10" rx="10" ry="10" fill="#046004"/><ellipse cx="24" cy="6" rx="8" ry="5" fill="#024602"/><ellipse cx="39" cy="29" rx="12" ry="8" fill="#046504"/><ellipse cx="34" cy="50" rx="9" ry="6" fill="#046504"/><ellipse cx="69" cy="45" rx="11" ry="6" fill="#046504" transform="rotate(-25 69 45)"/><ellipse cx="90" cy="34" rx="8" ry="8" fill="#035303" transform="rotate(-40 90 34)"/><ellipse cx="73" cy="58" rx="14" ry="6" fill="#046504" transform="rotate(-25 73 58)"/><ellipse cx="31" cy="79" rx="4" ry="16" fill="#045d04" transform="rotate(30 31 79)"/><ellipse cx="50" cy="89" rx="6" ry="9" fill="#046504"/><ellipse cx="52" cy="10" rx="5.5" ry="5.5" fill="#056a05"/><ellipse cx="24" cy="6" rx="4.4" ry="2.8" fill="#025002"/><ellipse cx="39" cy="29" rx="6.6" ry="4.4" fill="#066f06"/><ellipse cx="34" cy="50" rx="5" ry="3.3" fill="#066f06"/><ellipse cx="69" cy="45" rx="6.1" ry="3.3" fill="#066f06" transform="rotate(-25 69 45)"/><ellipse cx="90" cy="34" rx="4.4" ry="4.4" fill="#045d04" transform="rotate(-40 90 34)"/><ellipse cx="73" cy="58" rx="7.7" ry="3.3" fill="#066f06" transform="rotate(-25 73 58)"/><ellipse cx="31" cy="79" rx="2.2" ry="8.8" fill="#056805" transform="rotate(30 31 79)"/><ellipse cx="50" cy="89" rx="3.3" ry="5" fill="#066f06"/></g><g filter="url(#b2)"><circle cx="49.4" cy="10" r="1.1" fill="#098f09"/><circle cx="48" cy="12.6" r="1" fill="#098f09"/><circle cx="24.6" cy="4.8" r="1" fill="#067506"/><circle cx="20.8" cy="5.1" r="1.1" fill="#067506"/><circle cx="36.8" cy="26.4" r="1.1" fill="#0a940a"/><circle cx="38.5" cy="28.1" r="0.9" fill="#0a940a"/><circle cx="32.5" cy="51.4" r="0.9" fill="#0a940a"/><circle cx="30.8" cy="48.7" r="0.8" fill="#0a940a"/><circle cx="70.5" cy="43.9" r="1" fill="#0a940a"/><circle cx="67" cy="44.2" r="0.8" fill="#0a940a"/><circle cx="72.9" cy="42.5" r="1" fill="#0a940a"/><circle cx="89.8" cy="29.5" r="0.8" fill="#088208"/><circle cx="89.5" cy="30.2" r="0.8" fill="#088208"/><circle cx="90.3" cy="37.4" r="1" fill="#088208"/><circle cx="90.4" cy="31.5" r="0.7" fill="#088208"/><circle cx="69.2" cy="58.1" r="0.7" fill="#0a940a"/><circle cx="76.6" cy="56" r="0.8" fill="#0a940a"/><circle cx="31.2" cy="77.6" r="0.9" fill="#098c09"/><circle cx="30.3" cy="80.2" r="0.8" fill="#098c09"/><circle cx="52.3" cy="85.3" r="0.7" fill="#0a940a"/><circle cx="47.8" cy="89.9" r="1" fill="#0a940a"/><circle cx="48.5" cy="89.6" r="0.7" fill="#0a940a"/><circle cx="48" cy="87.2" r="0.8" fill="#0a940a"/></g></svg>
<svg x="543.6" y="323" width="98.7" height="98.2" viewBox="0 0 100 100" preserveAspectRatio="none"><rect width="100" height="100" fill="#001f00"/><g filter="url(#b)"><ellipse cx="90" cy="44" rx="9.9" ry="8.5" fill="#003000"/><ellipse cx="45" cy="37" rx="16.9" ry="8.5" fill="#003200" transform="rotate(-30 45 37)"/><ellipse cx="79" cy="52" rx="18.3" ry="15.5" fill="#003400" transform="rotate(-30 79 52)"/><ellipse cx="44" cy="94" rx="11.3" ry="8.5" fill="#013601"/><ellipse cx="35" cy="60" rx="14.1" ry="12.7" fill="#013701"/><ellipse cx="23" cy="18" rx="16.9" ry="11.3" fill="#013901" transform="rotate(30 23 18)"/><ellipse cx="15" cy="40" rx="12.7" ry="14.1" fill="#013901"/><ellipse cx="48" cy="71" rx="14.1" ry="11.3" fill="#013901" transform="rotate(-30 48 71)"/><ellipse cx="63" cy="76" rx="14.1" ry="15.5" fill="#013901"/><ellipse cx="16" cy="65" rx="12.7" ry="15.5" fill="#013a01"/><ellipse cx="23" cy="18" rx="11" ry="7" fill="#056d05" transform="rotate(30 23 18)"/><ellipse cx="15" cy="40" rx="8" ry="9" fill="#056d05"/><ellipse cx="45" cy="37" rx="11" ry="5" fill="#035803" transform="rotate(-30 45 37)"/><ellipse cx="16" cy="65" rx="8" ry="10" fill="#067206"/><ellipse cx="35" cy="60" rx="9" ry="8" fill="#056805"/><ellipse cx="79" cy="52" rx="12" ry="10" fill="#046004" transform="rotate(-30 79 52)"/><ellipse cx="48" cy="71" rx="9" ry="7" fill="#056d05" transform="rotate(-30 48 71)"/><ellipse cx="63" cy="76" rx="9" ry="10" fill="#056d05"/><ellipse cx="44" cy="94" rx="7" ry="5" fill="#046504"/><ellipse cx="90" cy="44" rx="6" ry="5" fill="#035303"/><ellipse cx="23" cy="18" rx="6.1" ry="3.9" fill="#077707" transform="rotate(30 23 18)"/><ellipse cx="15" cy="40" rx="4.4" ry="5" fill="#077707"/><ellipse cx="45" cy="37" rx="6.1" ry="2.8" fill="#046204" transform="rotate(-30 45 37)"/><ellipse cx="16" cy="65" rx="4.4" ry="5.5" fill="#077c07"/><ellipse cx="35" cy="60" rx="5" ry="4.4" fill="#067206"/><ellipse cx="79" cy="52" rx="6.6" ry="5.5" fill="#056a05" transform="rotate(-30 79 52)"/><ellipse cx="48" cy="71" rx="5" ry="3.9" fill="#077707" transform="rotate(-30 48 71)"/><ellipse cx="63" cy="76" rx="5" ry="5.5" fill="#077707"/><ellipse cx="44" cy="94" rx="3.9" ry="2.8" fill="#066f06"/><ellipse cx="90" cy="44" rx="3.3" ry="2.8" fill="#045d04"/></g><g filter="url(#b2)"><circle cx="24" cy="17.8" r="1" fill="#0b9c0b"/><circle cx="22.5" cy="19.3" r="1" fill="#0b9c0b"/><circle cx="12.7" cy="40.5" r="1" fill="#0b9c0b"/><circle cx="16.4" cy="42.6" r="1.1" fill="#0b9c0b"/><circle cx="44.9" cy="37.6" r="0.8" fill="#088708"/><circle cx="46.4" cy="34.8" r="0.7" fill="#088708"/><circle cx="49.1" cy="34.9" r="1" fill="#088708"/><circle cx="41" cy="39.3" r="0.8" fill="#088708"/><circle cx="15.7" cy="61.9" r="1" fill="#0ca20c"/><circle cx="16.4" cy="69.3" r="1" fill="#0ca20c"/><circle cx="32.3" cy="60" r="0.9" fill="#0b970b"/><circle cx="31.8" cy="61" r="0.9" fill="#0b970b"/><circle cx="82.3" cy="52.7" r="0.7" fill="#098f09"/><circle cx="80.3" cy="52.9" r="0.9" fill="#098f09"/><circle cx="44.8" cy="71.2" r="1.1" fill="#0b9c0b"/><circle cx="49.5" cy="70.8" r="1" fill="#0b9c0b"/><circle cx="65.1" cy="77.3" r="0.8" fill="#0b9c0b"/><circle cx="60.3" cy="72.4" r="1" fill="#0b9c0b"/><circle cx="42.8" cy="96" r="0.7" fill="#0a940a"/><circle cx="44.3" cy="95.6" r="1" fill="#0a940a"/><circle cx="44.7" cy="93" r="1.1" fill="#0a940a"/><circle cx="92" cy="42.4" r="1.1" fill="#088208"/><circle cx="88.3" cy="45.6" r="1" fill="#088208"/><circle cx="88.1" cy="44.4" r="0.7" fill="#088208"/><circle cx="92.2" cy="44.9" r="0.9" fill="#088208"/></g></svg>
<svg x="645.1" y="323" width="98.7" height="98.2" viewBox="0 0 100 100" preserveAspectRatio="none"><rect width="100" height="100" fill="#002200"/><g filter="url(#b3)"><ellipse cx="48" cy="21" rx="45" ry="20" fill="#013b01"/></g><g filter="url(#b)"><ellipse cx="6" cy="81" rx="12.7" ry="15.5" fill="#003000"/><ellipse cx="21" cy="87" rx="15.5" ry="12.7" fill="#003000"/><ellipse cx="95" cy="52" rx="8.5" ry="12.7" fill="#003300"/><ellipse cx="15" cy="18" rx="11.3" ry="11.3" fill="#003400"/><ellipse cx="45" cy="10" rx="14.1" ry="11.3" fill="#003400"/><ellipse cx="16" cy="32" rx="11.3" ry="11.3" fill="#003400"/><ellipse cx="5" cy="40" rx="9.9" ry="9.9" fill="#003400"/><ellipse cx="89" cy="34" rx="12.7" ry="14.1" fill="#003400"/><ellipse cx="84" cy="81" rx="14.1" ry="12.7" fill="#003400"/><ellipse cx="34" cy="21" rx="14.1" ry="14.1" fill="#013601"/><ellipse cx="60" cy="29" rx="11.3" ry="14.1" fill="#013601"/><ellipse cx="77" cy="21" rx="14.1" ry="16.9" fill="#013701" transform="rotate(20 77 21)"/><ellipse cx="69" cy="47" rx="16.9" ry="11.3" fill="#013701"/><ellipse cx="71" cy="60" rx="16.9" ry="9.9" fill="#013701"/><ellipse cx="32" cy="56" rx="9.9" ry="15.5" fill="#013901"/><ellipse cx="66" cy="84" rx="15.5" ry="9.9" fill="#013901"/><ellipse cx="15" cy="18" rx="7" ry="7" fill="#035803"/><ellipse cx="34" cy="21" rx="9" ry="9" fill="#045d04"/><ellipse cx="45" cy="10" rx="9" ry="7" fill="#035803"/><ellipse cx="16" cy="32" rx="7" ry="7" fill="#035803"/><ellipse cx="5" cy="40" rx="6" ry="6" fill="#035803"/><ellipse cx="60" cy="29" rx="7" ry="9" fill="#045d04"/><ellipse cx="77" cy="21" rx="9" ry="11" fill="#046004" transform="rotate(20 77 21)"/><ellipse cx="89" cy="34" rx="8" ry="9" fill="#035803"/><ellipse cx="32" cy="56" rx="6" ry="10" fill="#046504"/><ellipse cx="69" cy="47" rx="11" ry="7" fill="#046004"/><ellipse cx="71" cy="60" rx="11" ry="6" fill="#046004"/><ellipse cx="95" cy="52" rx="5" ry="8" fill="#035303"/><ellipse cx="84" cy="81" rx="9" ry="8" fill="#035803"/><ellipse cx="66" cy="84" rx="10" ry="6" fill="#046504"/><ellipse cx="6" cy="81" rx="8" ry="10" fill="#024c02"/><ellipse cx="21" cy="87" rx="10" ry="8" fill="#024c02"/><ellipse cx="32" cy="77" rx="16" ry="12" fill="#001d00"/><ellipse cx="15" cy="18" rx="3.9" ry="3.9" fill="#046204"/><ellipse cx="34" cy="21" rx="5" ry="5" fill="#056805"/><ellipse cx="45" cy="10" rx="5" ry="3.9" fill="#046204"/><ellipse cx="16" cy="32" rx="3.9" ry="3.9" fill="#046204"/><ellipse cx="5" cy="40" rx="3.3" ry="3.3" fill="#046204"/><ellipse cx="60" cy="29" rx="3.9" ry="5" fill="#056805"/><ellipse cx="77" cy="21" rx="5" ry="6.1" fill="#056a05" transform="rotate(20 77 21)"/><ellipse cx="89" cy="34" rx="4.4" ry="5" fill="#046204"/><ellipse cx="32" cy="56" rx="3.3" ry="5.5" fill="#066f06"/><ellipse cx="69" cy="47" rx="6.1" ry="3.9" fill="#056a05"/><ellipse cx="71" cy="60" rx="6.1" ry="3.3" fill="#056a05"/><ellipse cx="95" cy="52" rx="2.8" ry="4.4" fill="#045d04"/><ellipse cx="84" cy="81" rx="5" ry="4.4" fill="#046204"/><ellipse cx="66" cy="84" rx="5.5" ry="3.3" fill="#066f06"/><ellipse cx="6" cy="81" rx="4.4" ry="5.5" fill="#035603"/><ellipse cx="21" cy="87" rx="5.5" ry="4.4" fill="#035603"/></g><g filter="url(#b2)"><circle cx="17.6" cy="19.8" r="0.8" fill="#088708"/><circle cx="15.8" cy="17.4" r="1" fill="#088708"/><circle cx="16.1" cy="20.1" r="0.9" fill="#088708"/><circle cx="37.6" cy="17.4" r="1.1" fill="#098c09"/><circle cx="30.5" cy="24" r="0.9" fill="#098c09"/><circle cx="34.8" cy="22.3" r="1.1" fill="#098c09"/><circle cx="33.3" cy="24.4" r="0.7" fill="#098c09"/><circle cx="48.5" cy="7.2" r="1.1" fill="#088708"/><circle cx="47.7" cy="10.4" r="1" fill="#088708"/><circle cx="43.2" cy="8.6" r="0.9" fill="#088708"/><circle cx="18.4" cy="32.2" r="0.9" fill="#088708"/><circle cx="12.9" cy="34.1" r="0.9" fill="#088708"/><circle cx="14.1" cy="33.9" r="0.9" fill="#088708"/><circle cx="13.2" cy="32" r="0.8" fill="#088708"/><circle cx="3.1" cy="38.7" r="1" fill="#088708"/><circle cx="4.4" cy="42.7" r="1" fill="#088708"/><circle cx="58" cy="32.3" r="0.9" fill="#098c09"/><circle cx="61.1" cy="25.2" r="0.9" fill="#098c09"/><circle cx="58.2" cy="26.1" r="0.9" fill="#098c09"/><circle cx="73.6" cy="21.3" r="0.9" fill="#098f09"/><circle cx="78.6" cy="18.7" r="0.9" fill="#098f09"/><circle cx="87.7" cy="30.6" r="0.8" fill="#088708"/><circle cx="90.5" cy="31.4" r="0.8" fill="#088708"/><circle cx="30.3" cy="55.1" r="1" fill="#0a940a"/><circle cx="30.8" cy="58.8" r="0.8" fill="#0a940a"/><circle cx="29.8" cy="56.6" r="1" fill="#0a940a"/><circle cx="33" cy="56.4" r="1.1" fill="#0a940a"/><circle cx="70.1" cy="49.4" r="0.9" fill="#098f09"/><circle cx="68.4" cy="47.2" r="0.8" fill="#098f09"/><circle cx="73" cy="47.4" r="1" fill="#098f09"/><circle cx="70.5" cy="59.5" r="0.9" fill="#098f09"/><circle cx="72.9" cy="60.7" r="0.7" fill="#098f09"/><circle cx="68.6" cy="60.4" r="0.7" fill="#098f09"/><circle cx="94.1" cy="48.9" r="0.8" fill="#088208"/><circle cx="97" cy="52.6" r="0.7" fill="#088208"/><circle cx="82.6" cy="82.1" r="0.7" fill="#088708"/><circle cx="81.4" cy="80.1" r="1" fill="#088708"/><circle cx="85.3" cy="78.5" r="0.8" fill="#088708"/><circle cx="67.1" cy="83.7" r="0.9" fill="#0a940a"/><circle cx="69.2" cy="85.7" r="0.8" fill="#0a940a"/><circle cx="69.2" cy="81.5" r="1" fill="#0a940a"/><circle cx="70.4" cy="85" r="0.9" fill="#0a940a"/><circle cx="3.9" cy="81.1" r="0.9" fill="#077a07"/><circle cx="5.6" cy="81" r="1" fill="#077a07"/><circle cx="3.4" cy="85.4" r="1.1" fill="#077a07"/><circle cx="9.5" cy="79.7" r="1" fill="#077a07"/><circle cx="17.8" cy="87.8" r="0.7" fill="#077a07"/><circle cx="19.3" cy="89.4" r="0.9" fill="#077a07"/><circle cx="25" cy="85.9" r="1" fill="#077a07"/><circle cx="21.5" cy="89.7" r="0.9" fill="#077a07"/></g></svg>
<svg x="746.5" y="323" width="98.7" height="98.2" viewBox="0 0 100 100" preserveAspectRatio="none"><rect width="100" height="100" fill="#001f00"/><g filter="url(#b3)"><ellipse cx="50" cy="50" rx="40" ry="40" fill="#002700"/></g><g filter="url(#b)"><ellipse cx="93" cy="24" rx="9.9" ry="16.9" fill="#003400"/><ellipse cx="84" cy="45" rx="11.3" ry="16.9" fill="#013901"/><ellipse cx="25" cy="16" rx="12.7" ry="19.7" fill="#013a01" transform="rotate(-10 25 16)"/><ellipse cx="39" cy="44" rx="12.7" ry="18.3" fill="#013a01" transform="rotate(-15 39 44)"/><ellipse cx="35" cy="78" rx="16.9" ry="15.5" fill="#013d01"/><ellipse cx="65" cy="72" rx="15.5" ry="12.7" fill="#013d01"/><ellipse cx="25" cy="16" rx="8" ry="13" fill="#067206" transform="rotate(-10 25 16)"/><ellipse cx="39" cy="44" rx="8" ry="12" fill="#067206" transform="rotate(-15 39 44)"/><ellipse cx="84" cy="45" rx="7" ry="11" fill="#056d05"/><ellipse cx="93" cy="24" rx="6" ry="11" fill="#046004"/><ellipse cx="35" cy="78" rx="11" ry="10" fill="#077a07"/><ellipse cx="65" cy="72" rx="10" ry="8" fill="#077a07"/><ellipse cx="25" cy="16" rx="4.4" ry="7.2" fill="#077c07" transform="rotate(-10 25 16)"/><ellipse cx="39" cy="44" rx="4.4" ry="6.6" fill="#077c07" transform="rotate(-15 39 44)"/><ellipse cx="84" cy="45" rx="3.9" ry="6.1" fill="#077707"/><ellipse cx="93" cy="24" rx="3.3" ry="6.1" fill="#056a05"/><ellipse cx="35" cy="78" rx="6.1" ry="5.5" fill="#088408"/><ellipse cx="65" cy="72" rx="5.5" ry="4.4" fill="#088408"/></g><g filter="url(#b2)"><circle cx="25.6" cy="19" r="0.8" fill="#0ca20c"/><circle cx="24.4" cy="13.5" r="1" fill="#0ca20c"/><circle cx="28.9" cy="20.1" r="0.9" fill="#0ca20c"/><circle cx="22.5" cy="18.5" r="0.9" fill="#0ca20c"/><circle cx="42.4" cy="47.7" r="1" fill="#0ca20c"/><circle cx="40.3" cy="38.6" r="0.8" fill="#0ca20c"/><circle cx="36.6" cy="41.8" r="0.9" fill="#0ca20c"/><circle cx="81.2" cy="41.6" r="0.9" fill="#0b9c0b"/><circle cx="85.9" cy="41.1" r="1" fill="#0b9c0b"/><circle cx="82.4" cy="44.7" r="0.8" fill="#0b9c0b"/><circle cx="81.7" cy="44.4" r="1" fill="#0b9c0b"/><circle cx="91.1" cy="26.9" r="1.1" fill="#098f09"/><circle cx="94.6" cy="20.5" r="0.8" fill="#098f09"/><circle cx="36" cy="80.6" r="0.8" fill="#0daa0d"/><circle cx="31.2" cy="76.4" r="0.7" fill="#0daa0d"/><circle cx="37.4" cy="74.2" r="0.9" fill="#0daa0d"/><circle cx="65.5" cy="75.4" r="0.7" fill="#0daa0d"/><circle cx="62" cy="72.8" r="0.7" fill="#0daa0d"/></g></svg>
<svg x="848" y="323" width="98.7" height="98.2" viewBox="0 0 100 100" preserveAspectRatio="none"><rect width="100" height="100" fill="#035803"/><g filter="url(#b)"><ellipse cx="90" cy="61" rx="8" ry="10" fill="#046204"/><ellipse cx="35" cy="87" rx="10" ry="8" fill="#046504"/><ellipse cx="16" cy="18" rx="10" ry="8" fill="#056805"/><ellipse cx="47" cy="15" rx="10" ry="11" fill="#056805"/><ellipse cx="68" cy="27" rx="8" ry="10" fill="#056805"/><ellipse cx="47" cy="63" rx="9" ry="7" fill="#056805"/><ellipse cx="24" cy="76" rx="8" ry="8" fill="#056805"/><ellipse cx="16" cy="32" rx="10" ry="8" fill="#056a05"/><ellipse cx="69" cy="53" rx="11" ry="10" fill="#056a05"/><ellipse cx="11" cy="63" rx="10" ry="9" fill="#056a05"/><ellipse cx="39" cy="48" rx="8" ry="8" fill="#066f06"/><ellipse cx="92" cy="21" rx="10" ry="24" fill="#002200" transform="rotate(-20 92 21)"/><ellipse cx="81" cy="95" rx="20" ry="5" fill="#003400"/><ellipse cx="50" cy="32" rx="8" ry="6" fill="#014401"/></g></svg>
<svg x="949.4" y="323" width="98.7" height="98.2" viewBox="0 0 100 100" preserveAspectRatio="none"><rect width="100" height="100" fill="#024602"/><g filter="url(#b)"><ellipse cx="58" cy="84" rx="14" ry="10" fill="#035303"/><ellipse cx="24" cy="81" rx="10" ry="10" fill="#035603"/><ellipse cx="45" cy="16" rx="12" ry="10" fill="#035b03"/><ellipse cx="65" cy="15" rx="6" ry="8" fill="#035b03"/><ellipse cx="13" cy="39" rx="10" ry="7" fill="#035b03"/><ellipse cx="26" cy="50" rx="11" ry="10" fill="#035b03"/><ellipse cx="73" cy="68" rx="9" ry="9" fill="#035b03"/><ellipse cx="70" cy="35" rx="6" ry="9" fill="#046004"/><ellipse cx="90" cy="44" rx="6" ry="10" fill="#046004"/><ellipse cx="50" cy="47" rx="9" ry="9" fill="#046004"/><ellipse cx="42" cy="65" rx="8" ry="8" fill="#046004"/><ellipse cx="81" cy="24" rx="6" ry="6" fill="#002e00"/><ellipse cx="87" cy="69" rx="5" ry="4" fill="#002a00"/><ellipse cx="6" cy="65" rx="6" ry="12" fill="#003000"/><ellipse cx="3" cy="21" rx="4" ry="14" fill="#003000"/><ellipse cx="6" cy="94" rx="8" ry="5" fill="#002e00"/><ellipse cx="94" cy="90" rx="6" ry="10" fill="#003000"/></g></svg>
<svg x="1050.9" y="323" width="98.7" height="98.2" viewBox="0 0 100 100" preserveAspectRatio="none"><rect width="100" height="100" fill="#001f00"/><g filter="url(#b)"><ellipse cx="81" cy="95" rx="18" ry="5" fill="#002200"/><ellipse cx="6" cy="81" rx="8" ry="16" fill="#013b01"/><ellipse cx="18" cy="40" rx="10" ry="28" fill="#014401" transform="rotate(-20 18 40)"/><ellipse cx="84" cy="37" rx="12" ry="26" fill="#014401" transform="rotate(25 84 37)"/><ellipse cx="52" cy="68" rx="44" ry="28" fill="#024602"/><ellipse cx="92" cy="84" rx="4" ry="3" fill="#045d04"/><ellipse cx="24" cy="34" rx="8" ry="7" fill="#025002"/><ellipse cx="32" cy="68" rx="8" ry="8" fill="#025002"/><ellipse cx="61" cy="61" rx="10" ry="8" fill="#024e02"/><ellipse cx="48" cy="48" rx="12" ry="8" fill="#024e02"/><ellipse cx="3" cy="48" rx="4" ry="14" fill="#001f00"/><ellipse cx="24" cy="34" rx="4.4" ry="3.9" fill="#035b03"/><ellipse cx="32" cy="68" rx="4.4" ry="4.4" fill="#035b03"/><ellipse cx="61" cy="61" rx="5.5" ry="4.4" fill="#035803"/><ellipse cx="48" cy="48" rx="6.6" ry="4.4" fill="#035803"/></g><g filter="url(#b2)"><circle cx="20.9" cy="35" r="0.8" fill="#087f08"/><circle cx="27.2" cy="36.5" r="1.1" fill="#087f08"/><circle cx="26.5" cy="33.1" r="0.9" fill="#087f08"/><circle cx="27.2" cy="36.7" r="0.8" fill="#087f08"/><circle cx="30.6" cy="65.4" r="0.8" fill="#087f08"/><circle cx="33" cy="65.6" r="1" fill="#087f08"/><circle cx="34.4" cy="71.3" r="1" fill="#087f08"/><circle cx="32.5" cy="66.6" r="1" fill="#087f08"/><circle cx="63.9" cy="61.9" r="1.1" fill="#077c07"/><circle cx="59.2" cy="60.3" r="0.9" fill="#077c07"/><circle cx="65.1" cy="64.1" r="0.8" fill="#077c07"/><circle cx="50.5" cy="47.4" r="1" fill="#077c07"/><circle cx="45.6" cy="48.7" r="0.9" fill="#077c07"/><circle cx="47.9" cy="47.8" r="1" fill="#077c07"/><circle cx="49" cy="47" r="1.1" fill="#077c07"/></g></svg>
<svg x="1152.4" y="323" width="98.7" height="98.2" viewBox="0 0 100 100" preserveAspectRatio="none"><rect width="100" height="100" fill="#056a05"/><g filter="url(#b)"><ellipse cx="84" cy="32" rx="10" ry="10" fill="#066f06"/><ellipse cx="31" cy="21" rx="14" ry="10" fill="#067506"/><ellipse cx="57" cy="44" rx="8" ry="20" fill="#067506"/><ellipse cx="39" cy="56" rx="14" ry="8" fill="#067506"/><ellipse cx="91" cy="13" rx="8" ry="8" fill="#024c02"/><ellipse cx="28" cy="77" rx="10" ry="13" fill="#002200"/><ellipse cx="43" cy="40" rx="8" ry="8" fill="#002700"/><ellipse cx="22" cy="45" rx="4" ry="5" fill="#002e00"/><ellipse cx="68" cy="39" rx="5" ry="14" fill="#002a00"/><ellipse cx="70" cy="84" rx="12" ry="12" fill="#002700"/><ellipse cx="94" cy="65" rx="6" ry="16" fill="#002700"/><ellipse cx="68" cy="10" rx="8" ry="8" fill="#002e00"/><ellipse cx="91" cy="95" rx="10" ry="5" fill="#002200"/><ellipse cx="7" cy="10" rx="8" ry="6" fill="#013b01"/><ellipse cx="59" cy="61" rx="3" ry="6" fill="#003400"/><ellipse cx="4" cy="81" rx="5" ry="8" fill="#003400"/></g></svg>
<g clip-path="url(#gc)"><rect x="36" y="20" width="1215" height="402" filter="url(#n)"/></g>
<text x="39.2" y="35.4" font-size="13.1" fill="#fff">WT</text>
<text x="39.2" y="136.4" font-size="13.1" fill="#fff">ATXN2 KO</text>
<text x="39.2" y="237.4" font-size="13.1" fill="#fff">ATXN2L KO</text>
<text x="39.2" y="338.4" font-size="13.1" fill="#fff">ATXN2/2L DKO</text>
<rect x="115.6" y="111.2" width="19.4" height="7" fill="#000"/><text x="96.6" y="110.4" font-size="13" fill="#fff">20 µm</text>
<rect x="116.4" y="113.5" width="13.6" height="2.3" fill="#fff"/>
<g><path d="M122.6 538.5 122.9 540.7 125.9 541.5 125.9 544.4 112.7 544.4 112.7 541.5 115.7 540.7 116 538.5Z" fill="#e7674d" stroke="#e7674d" stroke-width="2.2" stroke-linejoin="round"/><path d="M150.3 499.7 150.3 503.5 147.7 504 147.3 507.6 140.1 507.6 139.7 504 137.1 503.5 137.1 499.7Z" fill="#e7674d" stroke="#e7674d" stroke-width="2.2" stroke-linejoin="round"/><path d="M170.6 454.2 170.6 459.5 169.1 463.4 173.9 476.4 173.9 478.3 160.7 478.3 160.7 476.4 165.5 463.4 164 459.5 164 454.2Z" fill="#e7674d" stroke="#e7674d" stroke-width="2.2" stroke-linejoin="round"/><path d="M167.3 470.1 170.1 475.4 164.5 475.4Z" fill="#fff"/><path d="M198.2 490.6 198.2 494.2 193.6 498.6 195.6 505.2 187.6 505.2 189.6 498.6 185 494.2 185 490.6Z" fill="#e7674d" stroke="#e7674d" stroke-width="2.2" stroke-linejoin="round"/><path d="M221.7 535.5 223 536.1 222.7 537.3 210.1 537.3 209.8 536.1 211.1 535.5Z" fill="#e7674d" stroke="#e7674d" stroke-width="2.2" stroke-linejoin="round"/><path d="M246.3 541.8 246.3 545.3 243.7 545.8 243.3 549.1 236.1 549.1 235.7 545.8 233.1 545.3 233.1 541.8Z" fill="#e7674d" stroke="#e7674d" stroke-width="2.2" stroke-linejoin="round"/><path d="M270.5 553.6 270.5 557.2 265.9 561.6 267.9 568.1 259.9 568.1 261.9 561.6 257.3 557.2 257.3 553.6Z" fill="#e7674d" stroke="#e7674d" stroke-width="2.2" stroke-linejoin="round"/><path d="M291.3 520.3 291.3 524.6 289.8 527.8 294.6 538.4 294.6 540 281.4 540 281.4 538.4 286.2 527.8 284.7 524.6 284.7 520.3Z" fill="#e7674d" stroke="#e7674d" stroke-width="2.2" stroke-linejoin="round"/><path d="M288 533.3 290.8 537.6 285.2 537.6Z" fill="#fff"/><path d="M315.2 486.6 315.5 491.1 318.5 492.6 318.5 498.5 305.3 498.5 305.3 492.6 308.3 491.1 308.6 486.6Z" fill="#e7674d" stroke="#e7674d" stroke-width="2.2" stroke-linejoin="round"/><path d="M342.9 516.9 342.9 522.1 340.3 522.9 339.9 527.8 332.7 527.8 332.3 522.9 329.7 522.1 329.7 516.9Z" fill="#e7674d" stroke="#e7674d" stroke-width="2.2" stroke-linejoin="round"/><path d="M366.1 539.7 366.1 548.6 364.2 561 356 561 354.1 548.6 354.1 539.7Z" fill="#fff" stroke="#e7674d" stroke-width="3.4" stroke-linejoin="round"/><path d="M357.7 547.8H361.3L359.9 560.5" fill="none" stroke="#e7674d" stroke-width="1.5"/><path d="M399.2 555.3 399.5 557.8 402.5 558.5 402.5 561.8 389.3 561.8 389.3 558.5 392.3 557.8 392.6 555.3Z" fill="#8aa7d5" stroke="#8aa7d5" stroke-width="2.2" stroke-linejoin="round"/><path d="M425.9 512.9 425.9 523 424 536.9 415.8 536.9 413.9 523 413.9 512.9Z" fill="#fff" stroke="#8aa7d5" stroke-width="3.4" stroke-linejoin="round"/><path d="M417.5 522H421.1L419.7 536.4" fill="none" stroke="#8aa7d5" stroke-width="1.5"/><path d="M450.3 468.4 450.3 471.4 444.9 486.5 445.7 491 447.7 498.5 439.7 498.5 441.7 491 442.5 486.5 437.1 471.4 437.1 468.4Z" fill="#8aa7d5" stroke="#8aa7d5" stroke-width="2.2" stroke-linejoin="round"/><path d="M446.7 471.4 443.7 479.2 440.7 471.4Z" fill="#fff"/><path d="M470.7 535.1 470.7 538.2 469.2 540.4 474 548 474 549.1 460.8 549.1 460.8 548 465.6 540.4 464.1 538.2 464.1 535.1Z" fill="#8aa7d5" stroke="#8aa7d5" stroke-width="2.2" stroke-linejoin="round"/><path d="M467.4 544.3 470.2 547.4 464.6 547.4Z" fill="#fff"/><path d="M497.8 541.2 497.8 545.3 495.2 545.9 494.8 549.7 487.6 549.7 487.2 545.9 484.6 545.3 484.6 541.2Z" fill="#8aa7d5" stroke="#8aa7d5" stroke-width="2.2" stroke-linejoin="round"/><path d="M521.5 534.1 521.5 539.3 518.9 540.1 518.5 545 511.3 545 510.9 540.1 508.3 539.3 508.3 534.1Z" fill="#8aa7d5" stroke="#8aa7d5" stroke-width="2.2" stroke-linejoin="round"/><path d="M545.1 532.5 545.1 534.9 539.7 547.1 540.5 550.7 542.5 556.8 534.5 556.8 536.5 550.7 537.3 547.1 531.9 534.9 531.9 532.5Z" fill="#8aa7d5" stroke="#8aa7d5" stroke-width="2.2" stroke-linejoin="round"/><path d="M541.5 534.9 538.5 541.2 535.5 534.9Z" fill="#fff"/><path d="M565.7 491.2 566 494 569 494.9 569 498.5 555.8 498.5 555.8 494.9 558.8 494 559.1 491.2Z" fill="#8aa7d5" stroke="#8aa7d5" stroke-width="2.2" stroke-linejoin="round"/><path d="M592.9 489.6 592.9 492.1 587.5 504.7 588.3 508.4 590.3 514.7 582.3 514.7 584.3 508.4 585.1 504.7 579.7 492.1 579.7 489.6Z" fill="#8aa7d5" stroke="#8aa7d5" stroke-width="2.2" stroke-linejoin="round"/><path d="M589.3 492.1 586.3 498.6 583.3 492.1Z" fill="#fff"/><path d="M613.4 531.5 613.7 535 616.7 536 616.7 540.6 603.5 540.6 603.5 536 606.5 535 606.8 531.5Z" fill="#8aa7d5" stroke="#8aa7d5" stroke-width="2.2" stroke-linejoin="round"/><path d="M640.5 545.2 640.5 548.6 635.9 552.6 637.9 558.6 629.9 558.6 631.9 552.6 627.3 548.6 627.3 545.2Z" fill="#8aa7d5" stroke="#8aa7d5" stroke-width="2.2" stroke-linejoin="round"/><path d="M663.2 554.3 664.5 556.9 664.2 561.8 651.6 561.8 651.3 556.9 652.6 554.3Z" fill="#8aa7d5" stroke="#8aa7d5" stroke-width="2.2" stroke-linejoin="round"/><path d="M698.5 533.5 698.5 537.8 695.9 538.4 695.5 542.4 688.3 542.4 687.9 538.4 685.3 537.8 685.3 533.5Z" fill="#ae7fc7" stroke="#ae7fc7" stroke-width="2.2" stroke-linejoin="round"/><path d="M722.4 537.7 722.4 542.2 719.8 542.8 719.4 547 712.2 547 711.8 542.8 709.2 542.2 709.2 537.7Z" fill="#ae7fc7" stroke="#ae7fc7" stroke-width="2.2" stroke-linejoin="round"/><path d="M745.6 547.8 745.6 552.5 743.7 559 735.5 559 733.6 552.5 733.6 547.8Z" fill="#fff" stroke="#ae7fc7" stroke-width="3.4" stroke-linejoin="round"/><path d="M737.2 552.1H740.8L739.4 558.5" fill="none" stroke="#ae7fc7" stroke-width="1.5"/><path d="M769.2 504 769.2 511.6 767.3 522.2 759.1 522.2 757.2 511.6 757.2 504Z" fill="#fff" stroke="#ae7fc7" stroke-width="3.4" stroke-linejoin="round"/><path d="M760.8 510.9H764.4L763 521.7" fill="none" stroke="#ae7fc7" stroke-width="1.5"/><path d="M790.5 468.4 790.5 471.7 789 474.1 793.8 482.2 793.8 483.4 780.6 483.4 780.6 482.2 785.4 474.1 783.9 471.7 783.9 468.4Z" fill="#ae7fc7" stroke="#ae7fc7" stroke-width="2.2" stroke-linejoin="round"/><path d="M787.2 478.3 790 481.6 784.4 481.6Z" fill="#fff"/><path d="M817.8 478.9 817.8 484.9 815.2 485.8 814.8 491.5 807.6 491.5 807.2 485.8 804.6 484.9 804.6 478.9Z" fill="#ae7fc7" stroke="#ae7fc7" stroke-width="2.2" stroke-linejoin="round"/><path d="M838 529 838.3 532.4 841.3 533.5 841.3 538 828.1 538 828.1 533.5 831.1 532.4 831.4 529Z" fill="#ae7fc7" stroke="#ae7fc7" stroke-width="2.2" stroke-linejoin="round"/><path d="M864.4 533.7 864.4 540.3 862.5 549.5 854.3 549.5 852.4 540.3 852.4 533.7Z" fill="#fff" stroke="#ae7fc7" stroke-width="3.4" stroke-linejoin="round"/><path d="M856 539.7H859.6L858.2 549" fill="none" stroke="#ae7fc7" stroke-width="1.5"/><path d="M885.7 536.1 886 539.7 889 540.9 889 545.6 875.8 545.6 875.8 540.9 878.8 539.7 879.1 536.1Z" fill="#ae7fc7" stroke="#ae7fc7" stroke-width="2.2" stroke-linejoin="round"/><path d="M909.5 535.1 909.5 538.8 908 541.4 912.8 550.4 912.8 551.7 899.6 551.7 899.6 550.4 904.4 541.4 902.9 538.8 902.9 535.1Z" fill="#ae7fc7" stroke="#ae7fc7" stroke-width="2.2" stroke-linejoin="round"/><path d="M906.2 546.1 909 549.7 903.4 549.7Z" fill="#fff"/><path d="M935.9 461.9 935.3 481.2 935.9 500.6 923.9 500.6 924.5 481.2 923.9 461.9Z" fill="#fff" stroke="#ae7fc7" stroke-width="3.4" stroke-linejoin="round"/><path d="M957.2 484.6 957.5 489.7 960.5 491.2 960.5 497.9 947.3 497.9 947.3 491.2 950.3 489.7 950.6 484.6Z" fill="#ae7fc7" stroke="#ae7fc7" stroke-width="2.2" stroke-linejoin="round"/><path d="M994 562.9 995.3 563.9 995 565.9 982.4 565.9 982.1 563.9 983.4 562.9Z" fill="#d3d19c" stroke="#d3d19c" stroke-width="2.2" stroke-linejoin="round"/><path d="M1017.7 551.7 1019 553.5 1018.7 556.9 1006.1 556.9 1005.8 553.5 1007.1 551.7Z" fill="#d3d19c" stroke="#d3d19c" stroke-width="2.2" stroke-linejoin="round"/><path d="M1042.6 553.3 1042.6 555.2 1037.2 564.6 1038 567.4 1040 572.1 1032 572.1 1034 567.4 1034.8 564.6 1029.4 555.2 1029.4 553.3Z" fill="#d3d19c" stroke="#d3d19c" stroke-width="2.2" stroke-linejoin="round"/><path d="M1039 555.2 1036 560.1 1033 555.2Z" fill="#fff"/><path d="M1066.1 543.8 1066.1 548.9 1064.2 555.9 1056 555.9 1054.1 548.9 1054.1 543.8Z" fill="#fff" stroke="#d3d19c" stroke-width="3.4" stroke-linejoin="round"/><path d="M1057.7 548.4H1061.3L1059.9 555.4" fill="none" stroke="#d3d19c" stroke-width="1.5"/><path d="M1087.2 532.5 1087.2 536.9 1085.7 540.1 1090.5 550.9 1090.5 552.5 1077.3 552.5 1077.3 550.9 1082.1 540.1 1080.6 536.9 1080.6 532.5Z" fill="#d3d19c" stroke="#d3d19c" stroke-width="2.2" stroke-linejoin="round"/><path d="M1083.9 545.7 1086.7 550.1 1081.1 550.1Z" fill="#fff"/><path d="M1113.6 541.7 1114.9 542.8 1114.6 544.7 1102 544.7 1101.7 542.8 1103 541.7Z" fill="#d3d19c" stroke="#d3d19c" stroke-width="2.2" stroke-linejoin="round"/><path d="M1138 557.1 1138 560.7 1135.4 561.2 1135 564.5 1127.8 564.5 1127.4 561.2 1124.8 560.7 1124.8 557.1Z" fill="#d3d19c" stroke="#d3d19c" stroke-width="2.2" stroke-linejoin="round"/><path d="M1161.1 547.5 1161.1 554.8 1159.2 564.9 1151 564.9 1149.1 554.8 1149.1 547.5Z" fill="#fff" stroke="#d3d19c" stroke-width="3.4" stroke-linejoin="round"/><path d="M1152.7 554.1H1156.3L1154.9 564.4" fill="none" stroke="#d3d19c" stroke-width="1.5"/><path d="M1185 544.9 1185 550.2 1183.1 557.6 1174.9 557.6 1173 550.2 1173 544.9Z" fill="#fff" stroke="#d3d19c" stroke-width="3.4" stroke-linejoin="round"/><path d="M1176.6 549.7H1180.2L1178.8 557.1" fill="none" stroke="#d3d19c" stroke-width="1.5"/><path d="M1209.1 563.7 1208.5 568.4 1209.1 573 1197.1 573 1197.7 568.4 1197.1 563.7Z" fill="#fff" stroke="#d3d19c" stroke-width="3.4" stroke-linejoin="round"/><path d="M1230.3 561.1 1230.6 564.3 1233.6 565.2 1233.6 569.4 1220.4 569.4 1220.4 565.2 1223.4 564.3 1223.7 561.1Z" fill="#d3d19c" stroke="#d3d19c" stroke-width="2.2" stroke-linejoin="round"/><path d="M1256 543.3 1257.3 544.6 1257 547.1 1244.4 547.1 1244.1 544.6 1245.4 543.3Z" fill="#d3d19c" stroke="#d3d19c" stroke-width="2.2" stroke-linejoin="round"/><circle cx="177.3" cy="454.2" r="0.7" fill="#e7674d"/><circle cx="181.2" cy="454.2" r="0.7" fill="#e7674d"/></g>
<g stroke="#000" stroke-width="2.5" fill="none"><path d="M83.3 440H1266.2V610.8H83.3Z"/><path d="M377.7 440V610.8"/><path d="M674.8 440V610.8"/><path d="M970.5 440V610.8"/><path d="M71 610.8H83.3"/><path d="M71 553.9H83.3"/><path d="M71 496.9H83.3"/><path d="M71 440H83.3"/><path d="M98.9 610.8V622"/><path d="M122.7 610.8V622"/><path d="M146.5 610.8V622"/><path d="M170.4 610.8V622"/><path d="M194.2 610.8V622"/><path d="M218 610.8V622"/><path d="M241.8 610.8V622"/><path d="M265.6 610.8V622"/><path d="M289.5 610.8V622"/><path d="M313.3 610.8V622"/><path d="M337.1 610.8V622"/><path d="M360.9 610.8V622"/><path d="M395.5 610.8V622"/><path d="M419.3 610.8V622"/><path d="M443.1 610.8V622"/><path d="M467 610.8V622"/><path d="M490.8 610.8V622"/><path d="M514.6 610.8V622"/><path d="M538.4 610.8V622"/><path d="M562.2 610.8V622"/><path d="M586.1 610.8V622"/><path d="M609.9 610.8V622"/><path d="M633.7 610.8V622"/><path d="M657.5 610.8V622"/><path d="M691.8 610.8V622"/><path d="M715.6 610.8V622"/><path d="M739.4 610.8V622"/><path d="M763.3 610.8V622"/><path d="M787.1 610.8V622"/><path d="M810.9 610.8V622"/><path d="M834.7 610.8V622"/><path d="M858.5 610.8V622"/><path d="M882.4 610.8V622"/><path d="M906.2 610.8V622"/><path d="M930 610.8V622"/><path d="M953.8 610.8V622"/><path d="M988.5 610.8V622"/><path d="M1012.3 610.8V622"/><path d="M1036.1 610.8V622"/><path d="M1060 610.8V622"/><path d="M1083.8 610.8V622"/><path d="M1107.6 610.8V622"/><path d="M1131.4 610.8V622"/><path d="M1155.2 610.8V622"/><path d="M1179.1 610.8V622"/><path d="M1202.9 610.8V622"/><path d="M1226.7 610.8V622"/><path d="M1250.5 610.8V622"/></g>
<text x="67.5" y="616.4" font-size="16.2" text-anchor="end">0</text><text x="67.5" y="559.5" font-size="16.2" text-anchor="end">20</text><text x="67.5" y="502.5" font-size="16.2" text-anchor="end">40</text><text x="67.5" y="445.6" font-size="16.2" text-anchor="end">60</text><text transform="translate(98.9 636.5) scale(1 1.05)" font-size="15" text-anchor="middle">4</text><text transform="translate(122.7 636.5) scale(1 1.05)" font-size="15" text-anchor="middle">8</text><text transform="translate(146.5 636.5) scale(1 1.05)" font-size="15" text-anchor="middle">12</text><text transform="translate(170.4 636.5) scale(1 1.05)" font-size="15" text-anchor="middle">16</text><text transform="translate(194.2 636.5) scale(1 1.05)" font-size="15" text-anchor="middle">20</text><text transform="translate(218 636.5) scale(1 1.05)" font-size="15" text-anchor="middle">24</text><text transform="translate(241.8 636.5) scale(1 1.05)" font-size="15" text-anchor="middle">28</text><text transform="translate(265.6 636.5) scale(1 1.05)" font-size="15" text-anchor="middle">32</text><text transform="translate(289.5 636.5) scale(1 1.05)" font-size="15" text-anchor="middle">36</text><text transform="translate(313.3 636.5) scale(1 1.05)" font-size="15" text-anchor="middle">40</text><text transform="translate(337.1 636.5) scale(1 1.05)" font-size="15" text-anchor="middle">44</text><text transform="translate(360.9 636.5) scale(1 1.05)" font-size="15" text-anchor="middle">48</text><text transform="translate(395.5 636.5) scale(1 1.05)" font-size="15" text-anchor="middle">4</text><text transform="translate(419.3 636.5) scale(1 1.05)" font-size="15" text-anchor="middle">8</text><text transform="translate(443.1 636.5) scale(1 1.05)" font-size="15" text-anchor="middle">12</text><text transform="translate(467 636.5) scale(1 1.05)" font-size="15" text-anchor="middle">16</text><text transform="translate(490.8 636.5) scale(1 1.05)" font-size="15" text-anchor="middle">20</text><text transform="translate(514.6 636.5) scale(1 1.05)" font-size="15" text-anchor="middle">24</text><text transform="translate(538.4 636.5) scale(1 1.05)" font-size="15" text-anchor="middle">28</text><text transform="translate(562.2 636.5) scale(1 1.05)" font-size="15" text-anchor="middle">32</text><text transform="translate(586.1 636.5) scale(1 1.05)" font-size="15" text-anchor="middle">36</text><text transform="translate(609.9 636.5) scale(1 1.05)" font-size="15" text-anchor="middle">40</text><text transform="translate(633.7 636.5) scale(1 1.05)" font-size="15" text-anchor="middle">44</text><text transform="translate(657.5 636.5) scale(1 1.05)" font-size="15" text-anchor="middle">48</text><text transform="translate(691.8 636.5) scale(1 1.05)" font-size="15" text-anchor="middle">4</text><text transform="translate(715.6 636.5) scale(1 1.05)" font-size="15" text-anchor="middle">8</text><text transform="translate(739.4 636.5) scale(1 1.05)" font-size="15" text-anchor="middle">12</text><text transform="translate(763.3 636.5) scale(1 1.05)" font-size="15" text-anchor="middle">16</text><text transform="translate(787.1 636.5) scale(1 1.05)" font-size="15" text-anchor="middle">20</text><text transform="translate(810.9 636.5) scale(1 1.05)" font-size="15" text-anchor="middle">24</text><text transform="translate(834.7 636.5) scale(1 1.05)" font-size="15" text-anchor="middle">28</text><text transform="translate(858.5 636.5) scale(1 1.05)" font-size="15" text-anchor="middle">32</text><text transform="translate(882.4 636.5) scale(1 1.05)" font-size="15" text-anchor="middle">36</text><text transform="translate(906.2 636.5) scale(1 1.05)" font-size="15" text-anchor="middle">40</text><text transform="translate(930 636.5) scale(1 1.05)" font-size="15" text-anchor="middle">44</text><text transform="translate(953.8 636.5) scale(1 1.05)" font-size="15" text-anchor="middle">48</text><text transform="translate(988.5 636.5) scale(1 1.05)" font-size="15" text-anchor="middle">4</text><text transform="translate(1012.3 636.5) scale(1 1.05)" font-size="15" text-anchor="middle">8</text><text transform="translate(1036.1 636.5) scale(1 1.05)" font-size="15" text-anchor="middle">12</text><text transform="translate(1060 636.5) scale(1 1.05)" font-size="15" text-anchor="middle">16</text><text transform="translate(1083.8 636.5) scale(1 1.05)" font-size="15" text-anchor="middle">20</text><text transform="translate(1107.6 636.5) scale(1 1.05)" font-size="15" text-anchor="middle">24</text><text transform="translate(1131.4 636.5) scale(1 1.05)" font-size="15" text-anchor="middle">28</text><text transform="translate(1155.2 636.5) scale(1 1.05)" font-size="15" text-anchor="middle">32</text><text transform="translate(1179.1 636.5) scale(1 1.05)" font-size="15" text-anchor="middle">36</text><text transform="translate(1202.9 636.5) scale(1 1.05)" font-size="15" text-anchor="middle">40</text><text transform="translate(1226.7 636.5) scale(1 1.05)" font-size="15" text-anchor="middle">44</text><text transform="translate(1250.5 636.5) scale(1 1.05)" font-size="15" text-anchor="middle">48</text>
<text transform="translate(39.2 636.2) scale(1 1.11)" font-size="15.4">CT(h)</text>
<text transform="translate(20.4 526.2) rotate(-90) scale(1 1.06)" font-size="17.3" text-anchor="middle">Mean Fluorescence</text>
<text transform="translate(41.1 523.8) rotate(-90) scale(1 1.03)" font-size="17.5" text-anchor="middle">Intensity / A.U.</text>
<text transform="translate(89.7 460.9) scale(1 0.93)" font-size="15.7">U2OS</text><text transform="translate(389.1 460.9) scale(1 0.93)" font-size="15.7">ATXN2 KO</text><text transform="translate(684.5 460.9) scale(1 0.93)" font-size="15.7">ATXN2L KO</text><text transform="translate(981.5 460.9) scale(1 0.93)" font-size="15.7">ATXN2/2L DKO</text>
</svg>
</body></html>
